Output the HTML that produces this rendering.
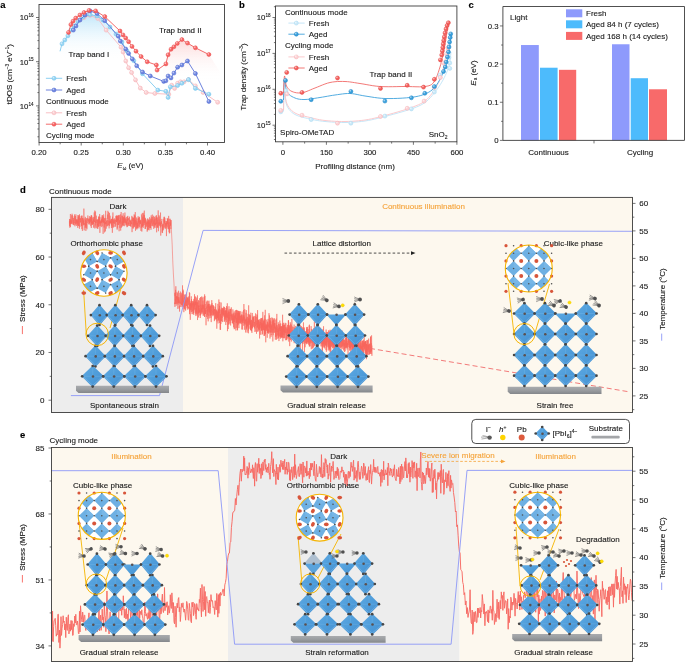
<!DOCTYPE html><html><head><meta charset="utf-8"><style>html,body{margin:0;padding:0;background:#fff;}svg{display:block;will-change:transform;}svg text{font-family:"Liberation Sans",sans-serif;}</style></head><body><svg width="685" height="662" viewBox="0 0 685 662" font-family="Liberation Sans, sans-serif"><defs><linearGradient id="gA1" x1="0" y1="0" x2="0" y2="1"><stop offset="0" stop-color="#bfe6fa"/><stop offset="1" stop-color="#ffffff" stop-opacity="0"/></linearGradient><linearGradient id="gA2" x1="0" y1="0" x2="0" y2="1"><stop offset="0" stop-color="#fcd9d9"/><stop offset="1" stop-color="#ffffff" stop-opacity="0"/></linearGradient><linearGradient id="gA3" x1="0" y1="0" x2="1" y2="0"><stop offset="0" stop-color="#fff" stop-opacity="0"/><stop offset="0.7" stop-color="#fff" stop-opacity="0"/><stop offset="1" stop-color="#fff" stop-opacity="1"/></linearGradient></defs>
<polygon points="60,51.3 64,40 70,30 76,21 82,16 89,13.5 96,15.5 104,21 112,30 120,40 124,48 124,60 60,60" fill="url(#gA1)" />
<polygon points="163,70 168,55 173,47 181,40 188,43 196,48 209,54.5 220,72 220,80 163,80" fill="url(#gA2)" />
<rect x="39.0" y="4.5" width="185.5" height="138.0" fill="none" stroke="#3c3c3c" stroke-width="0.9"/>
<line x1="37.4" y1="136.79" x2="39" y2="136.79" stroke="#3c3c3c" stroke-width="0.7" />
<line x1="37.4" y1="129.01" x2="39" y2="129.01" stroke="#3c3c3c" stroke-width="0.7" />
<line x1="37.4" y1="123.49" x2="39" y2="123.49" stroke="#3c3c3c" stroke-width="0.7" />
<line x1="37.4" y1="119.21" x2="39" y2="119.21" stroke="#3c3c3c" stroke-width="0.7" />
<line x1="37.4" y1="115.71" x2="39" y2="115.71" stroke="#3c3c3c" stroke-width="0.7" />
<line x1="37.4" y1="112.75" x2="39" y2="112.75" stroke="#3c3c3c" stroke-width="0.7" />
<line x1="37.4" y1="110.18" x2="39" y2="110.18" stroke="#3c3c3c" stroke-width="0.7" />
<line x1="37.4" y1="107.92" x2="39" y2="107.92" stroke="#3c3c3c" stroke-width="0.7" />
<line x1="36" y1="105.9" x2="39" y2="105.9" stroke="#3c3c3c" stroke-width="0.7" />
<line x1="37.4" y1="92.59" x2="39" y2="92.59" stroke="#3c3c3c" stroke-width="0.7" />
<line x1="37.4" y1="84.81" x2="39" y2="84.81" stroke="#3c3c3c" stroke-width="0.7" />
<line x1="37.4" y1="79.29" x2="39" y2="79.29" stroke="#3c3c3c" stroke-width="0.7" />
<line x1="37.4" y1="75.01" x2="39" y2="75.01" stroke="#3c3c3c" stroke-width="0.7" />
<line x1="37.4" y1="71.51" x2="39" y2="71.51" stroke="#3c3c3c" stroke-width="0.7" />
<line x1="37.4" y1="68.55" x2="39" y2="68.55" stroke="#3c3c3c" stroke-width="0.7" />
<line x1="37.4" y1="65.98" x2="39" y2="65.98" stroke="#3c3c3c" stroke-width="0.7" />
<line x1="37.4" y1="63.72" x2="39" y2="63.72" stroke="#3c3c3c" stroke-width="0.7" />
<line x1="36" y1="61.7" x2="39" y2="61.7" stroke="#3c3c3c" stroke-width="0.7" />
<line x1="37.4" y1="48.39" x2="39" y2="48.39" stroke="#3c3c3c" stroke-width="0.7" />
<line x1="37.4" y1="40.61" x2="39" y2="40.61" stroke="#3c3c3c" stroke-width="0.7" />
<line x1="37.4" y1="35.09" x2="39" y2="35.09" stroke="#3c3c3c" stroke-width="0.7" />
<line x1="37.4" y1="30.81" x2="39" y2="30.81" stroke="#3c3c3c" stroke-width="0.7" />
<line x1="37.4" y1="27.31" x2="39" y2="27.31" stroke="#3c3c3c" stroke-width="0.7" />
<line x1="37.4" y1="24.35" x2="39" y2="24.35" stroke="#3c3c3c" stroke-width="0.7" />
<line x1="37.4" y1="21.78" x2="39" y2="21.78" stroke="#3c3c3c" stroke-width="0.7" />
<line x1="37.4" y1="19.52" x2="39" y2="19.52" stroke="#3c3c3c" stroke-width="0.7" />
<line x1="36" y1="17.5" x2="39" y2="17.5" stroke="#3c3c3c" stroke-width="0.7" />
<text x="33.6" y="20.31" font-size="7.8" text-anchor="end" fill="#1a1a1a" stroke="#1a1a1a" stroke-width="0.12">10<tspan font-size="4.6" dy="-3.2">16</tspan></text>
<text x="33.6" y="64.51" font-size="7.8" text-anchor="end" fill="#1a1a1a" stroke="#1a1a1a" stroke-width="0.12">10<tspan font-size="4.6" dy="-3.2">15</tspan></text>
<text x="33.6" y="108.71" font-size="7.8" text-anchor="end" fill="#1a1a1a" stroke="#1a1a1a" stroke-width="0.12">10<tspan font-size="4.6" dy="-3.2">14</tspan></text>
<line x1="39.1" y1="142.5" x2="39.1" y2="145.5" stroke="#3c3c3c" stroke-width="0.7" />
<text x="39.1" y="155.01" font-size="7.8" text-anchor="middle" fill="#1a1a1a"  stroke="#1a1a1a" stroke-width="0.12">0.20</text>
<line x1="60.15" y1="142.5" x2="60.15" y2="144.3" stroke="#3c3c3c" stroke-width="0.7" />
<line x1="81.2" y1="142.5" x2="81.2" y2="145.5" stroke="#3c3c3c" stroke-width="0.7" />
<text x="81.2" y="155.01" font-size="7.8" text-anchor="middle" fill="#1a1a1a"  stroke="#1a1a1a" stroke-width="0.12">0.25</text>
<line x1="102.25" y1="142.5" x2="102.25" y2="144.3" stroke="#3c3c3c" stroke-width="0.7" />
<line x1="123.3" y1="142.5" x2="123.3" y2="145.5" stroke="#3c3c3c" stroke-width="0.7" />
<text x="123.3" y="155.01" font-size="7.8" text-anchor="middle" fill="#1a1a1a"  stroke="#1a1a1a" stroke-width="0.12">0.30</text>
<line x1="144.35" y1="142.5" x2="144.35" y2="144.3" stroke="#3c3c3c" stroke-width="0.7" />
<line x1="165.4" y1="142.5" x2="165.4" y2="145.5" stroke="#3c3c3c" stroke-width="0.7" />
<text x="165.4" y="155.01" font-size="7.8" text-anchor="middle" fill="#1a1a1a"  stroke="#1a1a1a" stroke-width="0.12">0.35</text>
<line x1="186.45" y1="142.5" x2="186.45" y2="144.3" stroke="#3c3c3c" stroke-width="0.7" />
<line x1="207.5" y1="142.5" x2="207.5" y2="145.5" stroke="#3c3c3c" stroke-width="0.7" />
<text x="207.5" y="155.01" font-size="7.8" text-anchor="middle" fill="#1a1a1a"  stroke="#1a1a1a" stroke-width="0.12">0.40</text>
<text x="130.4" y="168" font-size="8" text-anchor="middle" fill="#1a1a1a" stroke="#1a1a1a" stroke-width="0.12"><tspan font-style="italic">E</tspan><tspan font-size="4.5" dy="1.5">ω</tspan><tspan dy="-1.5"> (eV)</tspan></text>
<text transform="translate(8.6,74.2) rotate(-90)" x="0" y="2.9" font-size="8" text-anchor="middle" fill="#1a1a1a" stroke="#1a1a1a" stroke-width="0.12">tDOS (cm<tspan font-size="4.6" dy="-3">−3</tspan><tspan dy="3"> eV</tspan><tspan font-size="4.6" dy="-3">−1</tspan><tspan dy="3">)</tspan></text>
<polyline points="79.2,20.5 84,17.7 90,15.5 97.7,18.4 106.2,30.1 121,47.2 123.1,52 125.8,61 128.6,67.7 131.6,72.6 135.5,79.9 140.3,88.1 146.2,92.5 154.9,93.5 168.8,94.2 171.7,85.2 174.6,88.4 177.6,83.3 180.5,81.8 184.1,81.8 188.5,79.6 195.4,85.9 203.1,92.5 217.7,102.3" fill="none" stroke="#f8b9bd" stroke-width="0.9" stroke-linejoin="round" />
<circle cx="79.2" cy="20.5" r="2.0" fill="#fbd0d3" stroke="#f3aeb2" stroke-width="0.5"/>
<circle cx="78.6" cy="19.8" r="0.84" fill="#fff" opacity="0.55"/>
<circle cx="84" cy="17.7" r="2.0" fill="#fbd0d3" stroke="#f3aeb2" stroke-width="0.5"/>
<circle cx="83.4" cy="17" r="0.84" fill="#fff" opacity="0.55"/>
<circle cx="90" cy="15.5" r="2.0" fill="#fbd0d3" stroke="#f3aeb2" stroke-width="0.5"/>
<circle cx="89.4" cy="14.8" r="0.84" fill="#fff" opacity="0.55"/>
<circle cx="97.7" cy="18.4" r="2.0" fill="#fbd0d3" stroke="#f3aeb2" stroke-width="0.5"/>
<circle cx="97.1" cy="17.7" r="0.84" fill="#fff" opacity="0.55"/>
<circle cx="106.2" cy="30.1" r="2.0" fill="#fbd0d3" stroke="#f3aeb2" stroke-width="0.5"/>
<circle cx="105.6" cy="29.4" r="0.84" fill="#fff" opacity="0.55"/>
<circle cx="121" cy="47.2" r="2.0" fill="#fbd0d3" stroke="#f3aeb2" stroke-width="0.5"/>
<circle cx="120.4" cy="46.5" r="0.84" fill="#fff" opacity="0.55"/>
<circle cx="123.1" cy="52" r="2.0" fill="#fbd0d3" stroke="#f3aeb2" stroke-width="0.5"/>
<circle cx="122.5" cy="51.3" r="0.84" fill="#fff" opacity="0.55"/>
<circle cx="125.8" cy="61" r="2.0" fill="#fbd0d3" stroke="#f3aeb2" stroke-width="0.5"/>
<circle cx="125.2" cy="60.3" r="0.84" fill="#fff" opacity="0.55"/>
<circle cx="128.6" cy="67.7" r="2.0" fill="#fbd0d3" stroke="#f3aeb2" stroke-width="0.5"/>
<circle cx="128" cy="67" r="0.84" fill="#fff" opacity="0.55"/>
<circle cx="131.6" cy="72.6" r="2.0" fill="#fbd0d3" stroke="#f3aeb2" stroke-width="0.5"/>
<circle cx="131" cy="71.9" r="0.84" fill="#fff" opacity="0.55"/>
<circle cx="135.5" cy="79.9" r="2.0" fill="#fbd0d3" stroke="#f3aeb2" stroke-width="0.5"/>
<circle cx="134.9" cy="79.2" r="0.84" fill="#fff" opacity="0.55"/>
<circle cx="140.3" cy="88.1" r="2.0" fill="#fbd0d3" stroke="#f3aeb2" stroke-width="0.5"/>
<circle cx="139.7" cy="87.4" r="0.84" fill="#fff" opacity="0.55"/>
<circle cx="146.2" cy="92.5" r="2.0" fill="#fbd0d3" stroke="#f3aeb2" stroke-width="0.5"/>
<circle cx="145.6" cy="91.8" r="0.84" fill="#fff" opacity="0.55"/>
<circle cx="154.9" cy="93.5" r="2.0" fill="#fbd0d3" stroke="#f3aeb2" stroke-width="0.5"/>
<circle cx="154.3" cy="92.8" r="0.84" fill="#fff" opacity="0.55"/>
<circle cx="168.8" cy="94.2" r="2.0" fill="#fbd0d3" stroke="#f3aeb2" stroke-width="0.5"/>
<circle cx="168.2" cy="93.5" r="0.84" fill="#fff" opacity="0.55"/>
<circle cx="171.7" cy="85.2" r="2.0" fill="#fbd0d3" stroke="#f3aeb2" stroke-width="0.5"/>
<circle cx="171.1" cy="84.5" r="0.84" fill="#fff" opacity="0.55"/>
<circle cx="174.6" cy="88.4" r="2.0" fill="#fbd0d3" stroke="#f3aeb2" stroke-width="0.5"/>
<circle cx="174" cy="87.7" r="0.84" fill="#fff" opacity="0.55"/>
<circle cx="177.6" cy="83.3" r="2.0" fill="#fbd0d3" stroke="#f3aeb2" stroke-width="0.5"/>
<circle cx="177" cy="82.6" r="0.84" fill="#fff" opacity="0.55"/>
<circle cx="180.5" cy="81.8" r="2.0" fill="#fbd0d3" stroke="#f3aeb2" stroke-width="0.5"/>
<circle cx="179.9" cy="81.1" r="0.84" fill="#fff" opacity="0.55"/>
<circle cx="184.1" cy="81.8" r="2.0" fill="#fbd0d3" stroke="#f3aeb2" stroke-width="0.5"/>
<circle cx="183.5" cy="81.1" r="0.84" fill="#fff" opacity="0.55"/>
<circle cx="188.5" cy="79.6" r="2.0" fill="#fbd0d3" stroke="#f3aeb2" stroke-width="0.5"/>
<circle cx="187.9" cy="78.9" r="0.84" fill="#fff" opacity="0.55"/>
<circle cx="195.4" cy="85.9" r="2.0" fill="#fbd0d3" stroke="#f3aeb2" stroke-width="0.5"/>
<circle cx="194.8" cy="85.2" r="0.84" fill="#fff" opacity="0.55"/>
<circle cx="203.1" cy="92.5" r="2.0" fill="#fbd0d3" stroke="#f3aeb2" stroke-width="0.5"/>
<circle cx="202.5" cy="91.8" r="0.84" fill="#fff" opacity="0.55"/>
<circle cx="217.7" cy="102.3" r="2.0" fill="#fbd0d3" stroke="#f3aeb2" stroke-width="0.5"/>
<circle cx="217.1" cy="101.6" r="0.84" fill="#fff" opacity="0.55"/>
<polyline points="60,51.3 62,43.8 64.8,40 67.9,35.8 71,30 74,26 78,21 83,17 90,14.6 97,16 103,20 110,27 116,34 122,42 127,51 133.8,60.7 142.5,73.8 157.8,90.1 165.9,91.3 168.1,97.4 170.3,86.9 177.6,85.5 181.9,83.3 188.5,79.6 195.4,88.4 208.9,94.2" fill="none" stroke="#7fcbef" stroke-width="0.9" stroke-linejoin="round" />
<circle cx="62" cy="43.8" r="2.0" fill="#9ad6f3" stroke="#6cc0ea" stroke-width="0.5"/>
<circle cx="61.4" cy="43.1" r="0.84" fill="#fff" opacity="0.55"/>
<circle cx="64.8" cy="40" r="2.0" fill="#9ad6f3" stroke="#6cc0ea" stroke-width="0.5"/>
<circle cx="64.2" cy="39.3" r="0.84" fill="#fff" opacity="0.55"/>
<circle cx="67.9" cy="35.8" r="2.0" fill="#9ad6f3" stroke="#6cc0ea" stroke-width="0.5"/>
<circle cx="67.3" cy="35.1" r="0.84" fill="#fff" opacity="0.55"/>
<circle cx="71" cy="30" r="2.0" fill="#9ad6f3" stroke="#6cc0ea" stroke-width="0.5"/>
<circle cx="70.4" cy="29.3" r="0.84" fill="#fff" opacity="0.55"/>
<circle cx="74" cy="26" r="2.0" fill="#9ad6f3" stroke="#6cc0ea" stroke-width="0.5"/>
<circle cx="73.4" cy="25.3" r="0.84" fill="#fff" opacity="0.55"/>
<circle cx="78" cy="21" r="2.0" fill="#9ad6f3" stroke="#6cc0ea" stroke-width="0.5"/>
<circle cx="77.4" cy="20.3" r="0.84" fill="#fff" opacity="0.55"/>
<circle cx="83" cy="17" r="2.0" fill="#9ad6f3" stroke="#6cc0ea" stroke-width="0.5"/>
<circle cx="82.4" cy="16.3" r="0.84" fill="#fff" opacity="0.55"/>
<circle cx="90" cy="14.6" r="2.0" fill="#9ad6f3" stroke="#6cc0ea" stroke-width="0.5"/>
<circle cx="89.4" cy="13.9" r="0.84" fill="#fff" opacity="0.55"/>
<circle cx="97" cy="16" r="2.0" fill="#9ad6f3" stroke="#6cc0ea" stroke-width="0.5"/>
<circle cx="96.4" cy="15.3" r="0.84" fill="#fff" opacity="0.55"/>
<circle cx="103" cy="20" r="2.0" fill="#9ad6f3" stroke="#6cc0ea" stroke-width="0.5"/>
<circle cx="102.4" cy="19.3" r="0.84" fill="#fff" opacity="0.55"/>
<circle cx="110" cy="27" r="2.0" fill="#9ad6f3" stroke="#6cc0ea" stroke-width="0.5"/>
<circle cx="109.4" cy="26.3" r="0.84" fill="#fff" opacity="0.55"/>
<circle cx="116" cy="34" r="2.0" fill="#9ad6f3" stroke="#6cc0ea" stroke-width="0.5"/>
<circle cx="115.4" cy="33.3" r="0.84" fill="#fff" opacity="0.55"/>
<circle cx="122" cy="42" r="2.0" fill="#9ad6f3" stroke="#6cc0ea" stroke-width="0.5"/>
<circle cx="121.4" cy="41.3" r="0.84" fill="#fff" opacity="0.55"/>
<circle cx="127" cy="51" r="2.0" fill="#9ad6f3" stroke="#6cc0ea" stroke-width="0.5"/>
<circle cx="126.4" cy="50.3" r="0.84" fill="#fff" opacity="0.55"/>
<circle cx="133.8" cy="60.7" r="2.0" fill="#9ad6f3" stroke="#6cc0ea" stroke-width="0.5"/>
<circle cx="133.2" cy="60" r="0.84" fill="#fff" opacity="0.55"/>
<circle cx="142.5" cy="73.8" r="2.0" fill="#9ad6f3" stroke="#6cc0ea" stroke-width="0.5"/>
<circle cx="141.9" cy="73.1" r="0.84" fill="#fff" opacity="0.55"/>
<circle cx="157.8" cy="90.1" r="2.0" fill="#9ad6f3" stroke="#6cc0ea" stroke-width="0.5"/>
<circle cx="157.2" cy="89.4" r="0.84" fill="#fff" opacity="0.55"/>
<circle cx="165.9" cy="91.3" r="2.0" fill="#9ad6f3" stroke="#6cc0ea" stroke-width="0.5"/>
<circle cx="165.3" cy="90.6" r="0.84" fill="#fff" opacity="0.55"/>
<circle cx="168.1" cy="97.4" r="2.0" fill="#9ad6f3" stroke="#6cc0ea" stroke-width="0.5"/>
<circle cx="167.5" cy="96.7" r="0.84" fill="#fff" opacity="0.55"/>
<circle cx="170.3" cy="86.9" r="2.0" fill="#9ad6f3" stroke="#6cc0ea" stroke-width="0.5"/>
<circle cx="169.7" cy="86.2" r="0.84" fill="#fff" opacity="0.55"/>
<circle cx="177.6" cy="85.5" r="2.0" fill="#9ad6f3" stroke="#6cc0ea" stroke-width="0.5"/>
<circle cx="177" cy="84.8" r="0.84" fill="#fff" opacity="0.55"/>
<circle cx="181.9" cy="83.3" r="2.0" fill="#9ad6f3" stroke="#6cc0ea" stroke-width="0.5"/>
<circle cx="181.3" cy="82.6" r="0.84" fill="#fff" opacity="0.55"/>
<circle cx="188.5" cy="79.6" r="2.0" fill="#9ad6f3" stroke="#6cc0ea" stroke-width="0.5"/>
<circle cx="187.9" cy="78.9" r="0.84" fill="#fff" opacity="0.55"/>
<circle cx="195.4" cy="88.4" r="2.0" fill="#9ad6f3" stroke="#6cc0ea" stroke-width="0.5"/>
<circle cx="194.8" cy="87.7" r="0.84" fill="#fff" opacity="0.55"/>
<circle cx="208.9" cy="94.2" r="2.0" fill="#9ad6f3" stroke="#6cc0ea" stroke-width="0.5"/>
<circle cx="208.3" cy="93.5" r="0.84" fill="#fff" opacity="0.55"/>
<polyline points="73.4,30.1 76,26 80,20 85,15 90.1,10.9 97,13.6 104.8,20.7 118.3,36.2 120.3,41 125.7,49 128.6,53.4 132.3,58.9 136.7,65.8 142.5,72 150.3,76 163.7,81.4 165.9,80.8 168.1,76 171,77.9 173.9,73.1 177.6,67.2 181.9,65 187.5,61 195.4,73.5 208.9,101.5" fill="none" stroke="#5b74d9" stroke-width="0.9" stroke-linejoin="round" />
<circle cx="73.4" cy="30.1" r="2.0" fill="#6f86e0" stroke="#4a64cf" stroke-width="0.5"/>
<circle cx="72.8" cy="29.4" r="0.84" fill="#fff" opacity="0.55"/>
<circle cx="76" cy="26" r="2.0" fill="#6f86e0" stroke="#4a64cf" stroke-width="0.5"/>
<circle cx="75.4" cy="25.3" r="0.84" fill="#fff" opacity="0.55"/>
<circle cx="80" cy="20" r="2.0" fill="#6f86e0" stroke="#4a64cf" stroke-width="0.5"/>
<circle cx="79.4" cy="19.3" r="0.84" fill="#fff" opacity="0.55"/>
<circle cx="85" cy="15" r="2.0" fill="#6f86e0" stroke="#4a64cf" stroke-width="0.5"/>
<circle cx="84.4" cy="14.3" r="0.84" fill="#fff" opacity="0.55"/>
<circle cx="90.1" cy="10.9" r="2.0" fill="#6f86e0" stroke="#4a64cf" stroke-width="0.5"/>
<circle cx="89.5" cy="10.2" r="0.84" fill="#fff" opacity="0.55"/>
<circle cx="97" cy="13.6" r="2.0" fill="#6f86e0" stroke="#4a64cf" stroke-width="0.5"/>
<circle cx="96.4" cy="12.9" r="0.84" fill="#fff" opacity="0.55"/>
<circle cx="104.8" cy="20.7" r="2.0" fill="#6f86e0" stroke="#4a64cf" stroke-width="0.5"/>
<circle cx="104.2" cy="20" r="0.84" fill="#fff" opacity="0.55"/>
<circle cx="118.3" cy="36.2" r="2.0" fill="#6f86e0" stroke="#4a64cf" stroke-width="0.5"/>
<circle cx="117.7" cy="35.5" r="0.84" fill="#fff" opacity="0.55"/>
<circle cx="120.3" cy="41" r="2.0" fill="#6f86e0" stroke="#4a64cf" stroke-width="0.5"/>
<circle cx="119.7" cy="40.3" r="0.84" fill="#fff" opacity="0.55"/>
<circle cx="125.7" cy="49" r="2.0" fill="#6f86e0" stroke="#4a64cf" stroke-width="0.5"/>
<circle cx="125.1" cy="48.3" r="0.84" fill="#fff" opacity="0.55"/>
<circle cx="128.6" cy="53.4" r="2.0" fill="#6f86e0" stroke="#4a64cf" stroke-width="0.5"/>
<circle cx="128" cy="52.7" r="0.84" fill="#fff" opacity="0.55"/>
<circle cx="132.3" cy="58.9" r="2.0" fill="#6f86e0" stroke="#4a64cf" stroke-width="0.5"/>
<circle cx="131.7" cy="58.2" r="0.84" fill="#fff" opacity="0.55"/>
<circle cx="136.7" cy="65.8" r="2.0" fill="#6f86e0" stroke="#4a64cf" stroke-width="0.5"/>
<circle cx="136.1" cy="65.1" r="0.84" fill="#fff" opacity="0.55"/>
<circle cx="142.5" cy="72" r="2.0" fill="#6f86e0" stroke="#4a64cf" stroke-width="0.5"/>
<circle cx="141.9" cy="71.3" r="0.84" fill="#fff" opacity="0.55"/>
<circle cx="150.3" cy="76" r="2.0" fill="#6f86e0" stroke="#4a64cf" stroke-width="0.5"/>
<circle cx="149.7" cy="75.3" r="0.84" fill="#fff" opacity="0.55"/>
<circle cx="163.7" cy="81.4" r="2.0" fill="#6f86e0" stroke="#4a64cf" stroke-width="0.5"/>
<circle cx="163.1" cy="80.7" r="0.84" fill="#fff" opacity="0.55"/>
<circle cx="165.9" cy="80.8" r="2.0" fill="#6f86e0" stroke="#4a64cf" stroke-width="0.5"/>
<circle cx="165.3" cy="80.1" r="0.84" fill="#fff" opacity="0.55"/>
<circle cx="168.1" cy="76" r="2.0" fill="#6f86e0" stroke="#4a64cf" stroke-width="0.5"/>
<circle cx="167.5" cy="75.3" r="0.84" fill="#fff" opacity="0.55"/>
<circle cx="171" cy="77.9" r="2.0" fill="#6f86e0" stroke="#4a64cf" stroke-width="0.5"/>
<circle cx="170.4" cy="77.2" r="0.84" fill="#fff" opacity="0.55"/>
<circle cx="173.9" cy="73.1" r="2.0" fill="#6f86e0" stroke="#4a64cf" stroke-width="0.5"/>
<circle cx="173.3" cy="72.4" r="0.84" fill="#fff" opacity="0.55"/>
<circle cx="177.6" cy="67.2" r="2.0" fill="#6f86e0" stroke="#4a64cf" stroke-width="0.5"/>
<circle cx="177" cy="66.5" r="0.84" fill="#fff" opacity="0.55"/>
<circle cx="181.9" cy="65" r="2.0" fill="#6f86e0" stroke="#4a64cf" stroke-width="0.5"/>
<circle cx="181.3" cy="64.3" r="0.84" fill="#fff" opacity="0.55"/>
<circle cx="187.5" cy="61" r="2.0" fill="#6f86e0" stroke="#4a64cf" stroke-width="0.5"/>
<circle cx="186.9" cy="60.3" r="0.84" fill="#fff" opacity="0.55"/>
<circle cx="195.4" cy="73.5" r="2.0" fill="#6f86e0" stroke="#4a64cf" stroke-width="0.5"/>
<circle cx="194.8" cy="72.8" r="0.84" fill="#fff" opacity="0.55"/>
<circle cx="208.9" cy="101.5" r="2.0" fill="#6f86e0" stroke="#4a64cf" stroke-width="0.5"/>
<circle cx="208.3" cy="100.8" r="0.84" fill="#fff" opacity="0.55"/>
<polyline points="68.5,32.4 70.9,24.6 73,21.2 75.7,18.1 79.9,15 84,12.5 89,10.4 95.6,10.9 104.8,16.6 120,31 123,34.9 125.7,38 128.6,41.7 132,46.4 136,51.2 141.1,56.6 147.2,61.8 156.4,65 157.1,70.1 165.9,63.9 168.1,54.8 171,49.3 173.9,46.8 177.3,43.4 181.9,39.6 187.5,43.1 195.4,47.8 208.9,54.5" fill="none" stroke="#f05a5a" stroke-width="0.9" stroke-linejoin="round" />
<circle cx="68.5" cy="32.4" r="2.0" fill="#f76565" stroke="#e84848" stroke-width="0.5"/>
<circle cx="67.9" cy="31.7" r="0.84" fill="#fff" opacity="0.55"/>
<circle cx="70.9" cy="24.6" r="2.0" fill="#f76565" stroke="#e84848" stroke-width="0.5"/>
<circle cx="70.3" cy="23.9" r="0.84" fill="#fff" opacity="0.55"/>
<circle cx="73" cy="21.2" r="2.0" fill="#f76565" stroke="#e84848" stroke-width="0.5"/>
<circle cx="72.4" cy="20.5" r="0.84" fill="#fff" opacity="0.55"/>
<circle cx="75.7" cy="18.1" r="2.0" fill="#f76565" stroke="#e84848" stroke-width="0.5"/>
<circle cx="75.1" cy="17.4" r="0.84" fill="#fff" opacity="0.55"/>
<circle cx="79.9" cy="15" r="2.0" fill="#f76565" stroke="#e84848" stroke-width="0.5"/>
<circle cx="79.3" cy="14.3" r="0.84" fill="#fff" opacity="0.55"/>
<circle cx="84" cy="12.5" r="2.0" fill="#f76565" stroke="#e84848" stroke-width="0.5"/>
<circle cx="83.4" cy="11.8" r="0.84" fill="#fff" opacity="0.55"/>
<circle cx="89" cy="10.4" r="2.0" fill="#f76565" stroke="#e84848" stroke-width="0.5"/>
<circle cx="88.4" cy="9.7" r="0.84" fill="#fff" opacity="0.55"/>
<circle cx="95.6" cy="10.9" r="2.0" fill="#f76565" stroke="#e84848" stroke-width="0.5"/>
<circle cx="95" cy="10.2" r="0.84" fill="#fff" opacity="0.55"/>
<circle cx="104.8" cy="16.6" r="2.0" fill="#f76565" stroke="#e84848" stroke-width="0.5"/>
<circle cx="104.2" cy="15.9" r="0.84" fill="#fff" opacity="0.55"/>
<circle cx="120" cy="31" r="2.0" fill="#f76565" stroke="#e84848" stroke-width="0.5"/>
<circle cx="119.4" cy="30.3" r="0.84" fill="#fff" opacity="0.55"/>
<circle cx="123" cy="34.9" r="2.0" fill="#f76565" stroke="#e84848" stroke-width="0.5"/>
<circle cx="122.4" cy="34.2" r="0.84" fill="#fff" opacity="0.55"/>
<circle cx="125.7" cy="38" r="2.0" fill="#f76565" stroke="#e84848" stroke-width="0.5"/>
<circle cx="125.1" cy="37.3" r="0.84" fill="#fff" opacity="0.55"/>
<circle cx="128.6" cy="41.7" r="2.0" fill="#f76565" stroke="#e84848" stroke-width="0.5"/>
<circle cx="128" cy="41" r="0.84" fill="#fff" opacity="0.55"/>
<circle cx="132" cy="46.4" r="2.0" fill="#f76565" stroke="#e84848" stroke-width="0.5"/>
<circle cx="131.4" cy="45.7" r="0.84" fill="#fff" opacity="0.55"/>
<circle cx="136" cy="51.2" r="2.0" fill="#f76565" stroke="#e84848" stroke-width="0.5"/>
<circle cx="135.4" cy="50.5" r="0.84" fill="#fff" opacity="0.55"/>
<circle cx="141.1" cy="56.6" r="2.0" fill="#f76565" stroke="#e84848" stroke-width="0.5"/>
<circle cx="140.5" cy="55.9" r="0.84" fill="#fff" opacity="0.55"/>
<circle cx="147.2" cy="61.8" r="2.0" fill="#f76565" stroke="#e84848" stroke-width="0.5"/>
<circle cx="146.6" cy="61.1" r="0.84" fill="#fff" opacity="0.55"/>
<circle cx="156.4" cy="65" r="2.0" fill="#f76565" stroke="#e84848" stroke-width="0.5"/>
<circle cx="155.8" cy="64.3" r="0.84" fill="#fff" opacity="0.55"/>
<circle cx="157.1" cy="70.1" r="2.0" fill="#f76565" stroke="#e84848" stroke-width="0.5"/>
<circle cx="156.5" cy="69.4" r="0.84" fill="#fff" opacity="0.55"/>
<circle cx="165.9" cy="63.9" r="2.0" fill="#f76565" stroke="#e84848" stroke-width="0.5"/>
<circle cx="165.3" cy="63.2" r="0.84" fill="#fff" opacity="0.55"/>
<circle cx="168.1" cy="54.8" r="2.0" fill="#f76565" stroke="#e84848" stroke-width="0.5"/>
<circle cx="167.5" cy="54.1" r="0.84" fill="#fff" opacity="0.55"/>
<circle cx="171" cy="49.3" r="2.0" fill="#f76565" stroke="#e84848" stroke-width="0.5"/>
<circle cx="170.4" cy="48.6" r="0.84" fill="#fff" opacity="0.55"/>
<circle cx="173.9" cy="46.8" r="2.0" fill="#f76565" stroke="#e84848" stroke-width="0.5"/>
<circle cx="173.3" cy="46.1" r="0.84" fill="#fff" opacity="0.55"/>
<circle cx="177.3" cy="43.4" r="2.0" fill="#f76565" stroke="#e84848" stroke-width="0.5"/>
<circle cx="176.7" cy="42.7" r="0.84" fill="#fff" opacity="0.55"/>
<circle cx="181.9" cy="39.6" r="2.0" fill="#f76565" stroke="#e84848" stroke-width="0.5"/>
<circle cx="181.3" cy="38.9" r="0.84" fill="#fff" opacity="0.55"/>
<circle cx="187.5" cy="43.1" r="2.0" fill="#f76565" stroke="#e84848" stroke-width="0.5"/>
<circle cx="186.9" cy="42.4" r="0.84" fill="#fff" opacity="0.55"/>
<circle cx="195.4" cy="47.8" r="2.0" fill="#f76565" stroke="#e84848" stroke-width="0.5"/>
<circle cx="194.8" cy="47.1" r="0.84" fill="#fff" opacity="0.55"/>
<circle cx="208.9" cy="54.5" r="2.0" fill="#f76565" stroke="#e84848" stroke-width="0.5"/>
<circle cx="208.3" cy="53.8" r="0.84" fill="#fff" opacity="0.55"/>
<text x="68.5" y="57.38" font-size="8" text-anchor="start" fill="#1a1a1a"  stroke="#1a1a1a" stroke-width="0.12">Trap band I</text>
<text x="158.9" y="32.98" font-size="8" text-anchor="start" fill="#1a1a1a"  stroke="#1a1a1a" stroke-width="0.12">Trap band II</text>
<line x1="45.9" y1="78.3" x2="62.2" y2="78.3" stroke="#7fcbef" stroke-width="0.9" />
<circle cx="54" cy="78.3" r="2.0" fill="#9ad6f3" stroke="#6cc0ea" stroke-width="0.5"/>
<circle cx="53.4" cy="77.6" r="0.84" fill="#fff" opacity="0.55"/>
<text x="66.2" y="81.18" font-size="8" text-anchor="start" fill="#1a1a1a"  stroke="#1a1a1a" stroke-width="0.12">Fresh</text>
<line x1="45.9" y1="90" x2="62.2" y2="90" stroke="#5b74d9" stroke-width="0.9" />
<circle cx="54" cy="90" r="2.0" fill="#6f86e0" stroke="#4a64cf" stroke-width="0.5"/>
<circle cx="53.4" cy="89.3" r="0.84" fill="#fff" opacity="0.55"/>
<text x="66.2" y="92.88" font-size="8" text-anchor="start" fill="#1a1a1a"  stroke="#1a1a1a" stroke-width="0.12">Aged</text>
<line x1="45.9" y1="112.8" x2="62.2" y2="112.8" stroke="#f8b9bd" stroke-width="0.9" />
<circle cx="54" cy="112.8" r="2.0" fill="#fbd0d3" stroke="#f3aeb2" stroke-width="0.5"/>
<circle cx="53.4" cy="112.1" r="0.84" fill="#fff" opacity="0.55"/>
<text x="66.2" y="115.68" font-size="8" text-anchor="start" fill="#1a1a1a"  stroke="#1a1a1a" stroke-width="0.12">Fresh</text>
<line x1="45.9" y1="124.2" x2="62.2" y2="124.2" stroke="#f05a5a" stroke-width="0.9" />
<circle cx="54" cy="124.2" r="2.0" fill="#f76565" stroke="#e84848" stroke-width="0.5"/>
<circle cx="53.4" cy="123.5" r="0.84" fill="#fff" opacity="0.55"/>
<text x="66.2" y="127.08" font-size="8" text-anchor="start" fill="#1a1a1a"  stroke="#1a1a1a" stroke-width="0.12">Aged</text>
<text x="46.1" y="104.28" font-size="8" text-anchor="start" fill="#1a1a1a"  stroke="#1a1a1a" stroke-width="0.12">Continuous mode</text>
<text x="46.1" y="138.38" font-size="8" text-anchor="start" fill="#1a1a1a"  stroke="#1a1a1a" stroke-width="0.12">Cycling mode</text>
<text x="0.3" y="7.6" font-size="9.5" font-weight="bold" fill="#000" stroke="#000" stroke-width="0.12">a</text>
<rect x="275.5" y="6.0" width="181.39999999999998" height="135.8" fill="none" stroke="#3c3c3c" stroke-width="0.9"/>
<line x1="273.9" y1="139.49" x2="275.5" y2="139.49" stroke="#3c3c3c" stroke-width="0.7" />
<line x1="273.9" y1="136.01" x2="275.5" y2="136.01" stroke="#3c3c3c" stroke-width="0.7" />
<line x1="273.9" y1="133.16" x2="275.5" y2="133.16" stroke="#3c3c3c" stroke-width="0.7" />
<line x1="273.9" y1="130.76" x2="275.5" y2="130.76" stroke="#3c3c3c" stroke-width="0.7" />
<line x1="273.9" y1="128.68" x2="275.5" y2="128.68" stroke="#3c3c3c" stroke-width="0.7" />
<line x1="273.9" y1="126.84" x2="275.5" y2="126.84" stroke="#3c3c3c" stroke-width="0.7" />
<line x1="272.5" y1="125.2" x2="275.5" y2="125.2" stroke="#3c3c3c" stroke-width="0.7" />
<line x1="273.9" y1="114.39" x2="275.5" y2="114.39" stroke="#3c3c3c" stroke-width="0.7" />
<line x1="273.9" y1="108.07" x2="275.5" y2="108.07" stroke="#3c3c3c" stroke-width="0.7" />
<line x1="273.9" y1="103.59" x2="275.5" y2="103.59" stroke="#3c3c3c" stroke-width="0.7" />
<line x1="273.9" y1="100.11" x2="275.5" y2="100.11" stroke="#3c3c3c" stroke-width="0.7" />
<line x1="273.9" y1="97.26" x2="275.5" y2="97.26" stroke="#3c3c3c" stroke-width="0.7" />
<line x1="273.9" y1="94.86" x2="275.5" y2="94.86" stroke="#3c3c3c" stroke-width="0.7" />
<line x1="273.9" y1="92.78" x2="275.5" y2="92.78" stroke="#3c3c3c" stroke-width="0.7" />
<line x1="273.9" y1="90.94" x2="275.5" y2="90.94" stroke="#3c3c3c" stroke-width="0.7" />
<line x1="272.5" y1="89.3" x2="275.5" y2="89.3" stroke="#3c3c3c" stroke-width="0.7" />
<line x1="273.9" y1="78.49" x2="275.5" y2="78.49" stroke="#3c3c3c" stroke-width="0.7" />
<line x1="273.9" y1="72.17" x2="275.5" y2="72.17" stroke="#3c3c3c" stroke-width="0.7" />
<line x1="273.9" y1="67.69" x2="275.5" y2="67.69" stroke="#3c3c3c" stroke-width="0.7" />
<line x1="273.9" y1="64.21" x2="275.5" y2="64.21" stroke="#3c3c3c" stroke-width="0.7" />
<line x1="273.9" y1="61.36" x2="275.5" y2="61.36" stroke="#3c3c3c" stroke-width="0.7" />
<line x1="273.9" y1="58.96" x2="275.5" y2="58.96" stroke="#3c3c3c" stroke-width="0.7" />
<line x1="273.9" y1="56.88" x2="275.5" y2="56.88" stroke="#3c3c3c" stroke-width="0.7" />
<line x1="273.9" y1="55.04" x2="275.5" y2="55.04" stroke="#3c3c3c" stroke-width="0.7" />
<line x1="272.5" y1="53.4" x2="275.5" y2="53.4" stroke="#3c3c3c" stroke-width="0.7" />
<line x1="273.9" y1="42.59" x2="275.5" y2="42.59" stroke="#3c3c3c" stroke-width="0.7" />
<line x1="273.9" y1="36.27" x2="275.5" y2="36.27" stroke="#3c3c3c" stroke-width="0.7" />
<line x1="273.9" y1="31.79" x2="275.5" y2="31.79" stroke="#3c3c3c" stroke-width="0.7" />
<line x1="273.9" y1="28.31" x2="275.5" y2="28.31" stroke="#3c3c3c" stroke-width="0.7" />
<line x1="273.9" y1="25.46" x2="275.5" y2="25.46" stroke="#3c3c3c" stroke-width="0.7" />
<line x1="273.9" y1="23.06" x2="275.5" y2="23.06" stroke="#3c3c3c" stroke-width="0.7" />
<line x1="273.9" y1="20.98" x2="275.5" y2="20.98" stroke="#3c3c3c" stroke-width="0.7" />
<line x1="273.9" y1="19.14" x2="275.5" y2="19.14" stroke="#3c3c3c" stroke-width="0.7" />
<line x1="272.5" y1="17.5" x2="275.5" y2="17.5" stroke="#3c3c3c" stroke-width="0.7" />
<line x1="273.9" y1="6.69" x2="275.5" y2="6.69" stroke="#3c3c3c" stroke-width="0.7" />
<text x="270.5" y="20.31" font-size="7.8" text-anchor="end" fill="#1a1a1a" stroke="#1a1a1a" stroke-width="0.12">10<tspan font-size="4.6" dy="-3.2">18</tspan></text>
<text x="270.5" y="56.21" font-size="7.8" text-anchor="end" fill="#1a1a1a" stroke="#1a1a1a" stroke-width="0.12">10<tspan font-size="4.6" dy="-3.2">17</tspan></text>
<text x="270.5" y="92.11" font-size="7.8" text-anchor="end" fill="#1a1a1a" stroke="#1a1a1a" stroke-width="0.12">10<tspan font-size="4.6" dy="-3.2">16</tspan></text>
<text x="270.5" y="128.01" font-size="7.8" text-anchor="end" fill="#1a1a1a" stroke="#1a1a1a" stroke-width="0.12">10<tspan font-size="4.6" dy="-3.2">15</tspan></text>
<line x1="282.9" y1="141.8" x2="282.9" y2="144.8" stroke="#3c3c3c" stroke-width="0.7" />
<text x="282.9" y="155.01" font-size="7.8" text-anchor="middle" fill="#1a1a1a"  stroke="#1a1a1a" stroke-width="0.12">0</text>
<line x1="304.65" y1="141.8" x2="304.65" y2="143.6" stroke="#3c3c3c" stroke-width="0.7" />
<line x1="326.4" y1="141.8" x2="326.4" y2="144.8" stroke="#3c3c3c" stroke-width="0.7" />
<text x="326.4" y="155.01" font-size="7.8" text-anchor="middle" fill="#1a1a1a"  stroke="#1a1a1a" stroke-width="0.12">150</text>
<line x1="348.15" y1="141.8" x2="348.15" y2="143.6" stroke="#3c3c3c" stroke-width="0.7" />
<line x1="369.9" y1="141.8" x2="369.9" y2="144.8" stroke="#3c3c3c" stroke-width="0.7" />
<text x="369.9" y="155.01" font-size="7.8" text-anchor="middle" fill="#1a1a1a"  stroke="#1a1a1a" stroke-width="0.12">300</text>
<line x1="391.65" y1="141.8" x2="391.65" y2="143.6" stroke="#3c3c3c" stroke-width="0.7" />
<line x1="413.4" y1="141.8" x2="413.4" y2="144.8" stroke="#3c3c3c" stroke-width="0.7" />
<text x="413.4" y="155.01" font-size="7.8" text-anchor="middle" fill="#1a1a1a"  stroke="#1a1a1a" stroke-width="0.12">450</text>
<line x1="435.15" y1="141.8" x2="435.15" y2="143.6" stroke="#3c3c3c" stroke-width="0.7" />
<line x1="456.9" y1="141.8" x2="456.9" y2="144.8" stroke="#3c3c3c" stroke-width="0.7" />
<text x="456.9" y="155.01" font-size="7.8" text-anchor="middle" fill="#1a1a1a"  stroke="#1a1a1a" stroke-width="0.12">600</text>
<text x="355" y="168.58" font-size="8" text-anchor="middle" fill="#1a1a1a"  stroke="#1a1a1a" stroke-width="0.12">Profiling distance (nm)</text>
<text transform="translate(242.9,77) rotate(-90)" x="0" y="2.9" font-size="8" text-anchor="middle" fill="#1a1a1a" stroke="#1a1a1a" stroke-width="0.12">Trap density (cm<tspan font-size="4.6" dy="-3">−3</tspan><tspan dy="3">)</tspan></text>
<g fill="none" stroke-width="0.9">
<polyline points="283.5,111.5 283.57,108.99 283.64,105.2 283.73,100.88 283.86,96.74 284.05,93.54 284.3,92 284.58,92.46 284.86,94.39 285.2,97.25 285.64,100.5 286.22,103.6 287,106 287.95,107.78 289.01,109.39 290.23,110.84 291.62,112.17 293.2,113.38 295,114.5 297.09,115.5 299.48,116.37 302.06,117.12 304.74,117.8 307.42,118.41 310,119 312.44,119.55 314.81,120.04 317.19,120.47 319.63,120.85 322.21,121.19 325,121.5 328.04,121.78 331.3,122.04 334.69,122.25 338.15,122.41 341.61,122.5 345,122.5 348.33,122.43 351.67,122.3 355,122.09 358.33,121.81 361.67,121.45 365,121 368.26,120.46 371.44,119.83 374.62,119.12 377.89,118.33 381.32,117.46 385,116.5 389.12,115.41 393.67,114.19 398.38,112.88 403,111.54 407.29,110.23 411,109 414.07,107.91 416.7,106.91 419,105.94 421.07,104.93 423.04,103.8 425,102.5 426.92,101 428.7,99.35 430.38,97.59 431.96,95.76 433.5,93.88 435,92 436.47,90.11 437.89,88.19 439.25,86.22 440.56,84.2 441.81,82.13 443,80 444.16,77.78 445.3,75.48 446.38,73.12 447.37,70.74 448.25,68.36 449,66 449.59,63.5 450.04,60.81 450.38,58.12 450.63,55.63 450.83,53.52 451,52" fill="none" stroke="#bfe3f6" stroke-width="0.9" stroke-linejoin="round" />
<polyline points="283.5,110 283.57,107.43 283.64,103.56 283.73,99.12 283.86,94.89 284.05,91.6 284.3,90 284.58,90.42 284.86,92.33 285.2,95.19 285.64,98.44 286.22,101.56 287,104 287.95,105.84 289.01,107.54 290.23,109.09 291.62,110.52 293.2,111.82 295,113 297.09,114.03 299.48,114.89 302.06,115.62 304.74,116.28 307.42,116.89 310,117.5 312.44,118.11 314.81,118.69 317.19,119.22 319.63,119.7 322.21,120.13 325,120.5 328.04,120.81 331.3,121.07 334.69,121.28 338.15,121.43 341.61,121.5 345,121.5 348.33,121.43 351.67,121.3 355,121.09 358.33,120.81 361.67,120.45 365,120 368.28,119.46 371.48,118.83 374.69,118.12 377.96,117.33 381.38,116.46 385,115.5 388.99,114.42 393.33,113.2 397.81,111.91 402.22,110.57 406.35,109.26 410,108 413.14,106.86 415.93,105.81 418.44,104.78 420.74,103.69 422.91,102.45 425,101 427,99.29 428.85,97.37 430.56,95.31 432.15,93.19 433.62,91.06 435,89 436.25,87.06 437.37,85.19 438.38,83.31 439.3,81.37 440.16,79.29 441,77 441.79,74.44 442.52,71.67 443.19,68.75 443.81,65.78 444.41,62.83 445,60 445.59,57.09 446.19,54 446.75,50.94 447.26,48.11 447.69,45.73 448,44" fill="none" stroke="#f9c4c7" stroke-width="0.9" stroke-linejoin="round" />
<polyline points="283.5,100 283.59,97.39 283.7,93.46 283.84,88.97 284.02,84.65 284.23,81.24 284.5,79.5 284.77,79.75 285.02,81.46 285.31,84.09 285.7,87.09 286.25,89.91 287,92 287.99,93.43 289.19,94.65 290.53,95.69 291.98,96.57 293.49,97.34 295,98 296.49,98.55 298,98.96 299.56,99.25 301.22,99.43 303.02,99.5 305,99.5 307.21,99.38 309.63,99.11 312.19,98.75 314.81,98.33 317.44,97.9 320,97.5 322.5,97.1 325,96.67 327.5,96.22 330,95.78 332.5,95.36 335,95 337.5,94.65 340,94.28 342.5,93.94 345,93.67 347.5,93.51 350,93.5 352.44,93.69 354.81,94.04 357.19,94.5 359.63,95.02 362.21,95.54 365,96 367.99,96.46 371.11,96.96 374.38,97.47 377.78,97.93 381.32,98.29 385,98.5 388.99,98.56 393.33,98.52 397.81,98.38 402.22,98.15 406.35,97.85 410,97.5 413.14,97.1 415.93,96.65 418.44,96.12 420.74,95.52 422.91,94.81 425,94 426.98,93.12 428.78,92.19 430.44,91.16 432,89.98 433.51,88.61 435,87 436.48,85.08 437.93,82.89 439.31,80.5 440.63,78 441.86,75.47 443,73 444.03,70.65 444.96,68.37 445.81,66.06 446.59,63.63 447.32,60.97 448,58 448.65,54.36 449.26,50.07 449.81,45.56 450.3,41.26 450.7,37.59 451,35" fill="none" stroke="#3fa3dd" stroke-width="0.9" stroke-linejoin="round" />
<polyline points="283.5,93 283.6,90.84 283.72,87.59 283.88,83.88 284.06,80.3 284.26,77.47 284.5,76 284.73,76.16 284.96,77.5 285.22,79.59 285.54,82 285.95,84.28 286.5,86 287.16,87.23 287.91,88.32 288.75,89.29 289.7,90.14 290.78,90.88 292,91.5 293.37,92.03 294.89,92.47 296.53,92.79 298.28,92.97 300.11,92.98 302,92.8 303.97,92.36 306.04,91.68 308.19,90.82 310.41,89.88 312.68,88.91 315,88 317.38,87.07 319.85,86.05 322.38,85.01 324.93,84.03 327.48,83.16 330,82.5 332.5,82.04 335,81.72 337.5,81.53 340,81.44 342.5,81.44 345,81.5 347.44,81.65 349.81,81.91 352.19,82.25 354.63,82.65 357.21,83.07 360,83.5 362.99,83.98 366.11,84.54 369.38,85.12 372.78,85.69 376.32,86.16 380,86.5 383.94,86.67 388.15,86.72 392.5,86.69 396.85,86.61 401.06,86.53 405,86.5 408.75,86.55 412.44,86.67 416,86.78 419.33,86.83 422.36,86.76 425,86.5 427.17,86.13 428.93,85.72 430.38,85.19 431.63,84.44 432.8,83.41 434,82 435.2,80.13 436.3,77.85 437.31,75.28 438.26,72.54 439.15,69.74 440,67 440.79,64.29 441.52,61.52 442.19,58.69 442.81,55.81 443.41,52.91 444,50 444.57,46.98 445.11,43.81 445.62,40.62 446.11,37.52 446.57,34.61 447,32 447.41,29.63 447.81,27.41 448.19,25.38 448.52,23.59 448.79,22.12 449,21" fill="none" stroke="#f06a68" stroke-width="0.9" stroke-linejoin="round" />
</g>
<circle cx="280.8" cy="111.8" r="2.0" fill="#cbe9f8" stroke="#a6d8f1" stroke-width="0.5"/>
<circle cx="280.2" cy="111.1" r="0.84" fill="#fff" opacity="0.55"/>
<circle cx="286" cy="90.7" r="2.0" fill="#cbe9f8" stroke="#a6d8f1" stroke-width="0.5"/>
<circle cx="285.4" cy="90" r="0.84" fill="#fff" opacity="0.55"/>
<circle cx="311.2" cy="119.6" r="2.0" fill="#cbe9f8" stroke="#a6d8f1" stroke-width="0.5"/>
<circle cx="310.6" cy="118.9" r="0.84" fill="#fff" opacity="0.55"/>
<circle cx="350.9" cy="123.2" r="2.0" fill="#cbe9f8" stroke="#a6d8f1" stroke-width="0.5"/>
<circle cx="350.3" cy="122.5" r="0.84" fill="#fff" opacity="0.55"/>
<circle cx="384.9" cy="116.1" r="2.0" fill="#cbe9f8" stroke="#a6d8f1" stroke-width="0.5"/>
<circle cx="384.3" cy="115.4" r="0.84" fill="#fff" opacity="0.55"/>
<circle cx="411.4" cy="108.9" r="2.0" fill="#cbe9f8" stroke="#a6d8f1" stroke-width="0.5"/>
<circle cx="410.8" cy="108.2" r="0.84" fill="#fff" opacity="0.55"/>
<circle cx="434.4" cy="92" r="2.0" fill="#cbe9f8" stroke="#a6d8f1" stroke-width="0.5"/>
<circle cx="433.8" cy="91.3" r="0.84" fill="#fff" opacity="0.55"/>
<circle cx="440" cy="75" r="2.0" fill="#cbe9f8" stroke="#a6d8f1" stroke-width="0.5"/>
<circle cx="439.4" cy="74.3" r="0.84" fill="#fff" opacity="0.55"/>
<circle cx="449.8" cy="68.4" r="2.0" fill="#cbe9f8" stroke="#a6d8f1" stroke-width="0.5"/>
<circle cx="449.2" cy="67.7" r="0.84" fill="#fff" opacity="0.55"/>
<circle cx="449.8" cy="63" r="2.0" fill="#cbe9f8" stroke="#a6d8f1" stroke-width="0.5"/>
<circle cx="449.2" cy="62.3" r="0.84" fill="#fff" opacity="0.55"/>
<circle cx="449" cy="57.5" r="2.0" fill="#cbe9f8" stroke="#a6d8f1" stroke-width="0.5"/>
<circle cx="448.4" cy="56.8" r="0.84" fill="#fff" opacity="0.55"/>
<circle cx="280.8" cy="110.4" r="2.0" fill="#fcd3d6" stroke="#f4b3b7" stroke-width="0.5"/>
<circle cx="280.2" cy="109.7" r="0.84" fill="#fff" opacity="0.55"/>
<circle cx="287" cy="93.9" r="2.0" fill="#fcd3d6" stroke="#f4b3b7" stroke-width="0.5"/>
<circle cx="286.4" cy="93.2" r="0.84" fill="#fff" opacity="0.55"/>
<circle cx="302" cy="115.2" r="2.0" fill="#fcd3d6" stroke="#f4b3b7" stroke-width="0.5"/>
<circle cx="301.4" cy="114.5" r="0.84" fill="#fff" opacity="0.55"/>
<circle cx="337.5" cy="123.2" r="2.0" fill="#fcd3d6" stroke="#f4b3b7" stroke-width="0.5"/>
<circle cx="336.9" cy="122.5" r="0.84" fill="#fff" opacity="0.55"/>
<circle cx="380.5" cy="116.5" r="2.0" fill="#fcd3d6" stroke="#f4b3b7" stroke-width="0.5"/>
<circle cx="379.9" cy="115.8" r="0.84" fill="#fff" opacity="0.55"/>
<circle cx="407.2" cy="108.3" r="2.0" fill="#fcd3d6" stroke="#f4b3b7" stroke-width="0.5"/>
<circle cx="406.6" cy="107.6" r="0.84" fill="#fff" opacity="0.55"/>
<circle cx="424.1" cy="101.1" r="2.0" fill="#fcd3d6" stroke="#f4b3b7" stroke-width="0.5"/>
<circle cx="423.5" cy="100.4" r="0.84" fill="#fff" opacity="0.55"/>
<circle cx="434.4" cy="87.5" r="2.0" fill="#fcd3d6" stroke="#f4b3b7" stroke-width="0.5"/>
<circle cx="433.8" cy="86.8" r="0.84" fill="#fff" opacity="0.55"/>
<circle cx="440.4" cy="77.5" r="2.0" fill="#fcd3d6" stroke="#f4b3b7" stroke-width="0.5"/>
<circle cx="439.8" cy="76.8" r="0.84" fill="#fff" opacity="0.55"/>
<circle cx="443.5" cy="63" r="2.0" fill="#fcd3d6" stroke="#f4b3b7" stroke-width="0.5"/>
<circle cx="442.9" cy="62.3" r="0.84" fill="#fff" opacity="0.55"/>
<circle cx="446.5" cy="54" r="2.0" fill="#fcd3d6" stroke="#f4b3b7" stroke-width="0.5"/>
<circle cx="445.9" cy="53.3" r="0.84" fill="#fff" opacity="0.55"/>
<circle cx="448" cy="48" r="2.0" fill="#fcd3d6" stroke="#f4b3b7" stroke-width="0.5"/>
<circle cx="447.4" cy="47.3" r="0.84" fill="#fff" opacity="0.55"/>
<circle cx="280.8" cy="101.3" r="2.0" fill="#3aa0dc" stroke="#2186c6" stroke-width="0.5"/>
<circle cx="280.2" cy="100.6" r="0.84" fill="#fff" opacity="0.55"/>
<circle cx="285.5" cy="80.4" r="2.0" fill="#3aa0dc" stroke="#2186c6" stroke-width="0.5"/>
<circle cx="284.9" cy="79.7" r="0.84" fill="#fff" opacity="0.55"/>
<circle cx="311.2" cy="99.7" r="2.0" fill="#3aa0dc" stroke="#2186c6" stroke-width="0.5"/>
<circle cx="310.6" cy="99" r="0.84" fill="#fff" opacity="0.55"/>
<circle cx="350.9" cy="91.4" r="2.0" fill="#3aa0dc" stroke="#2186c6" stroke-width="0.5"/>
<circle cx="350.3" cy="90.7" r="0.84" fill="#fff" opacity="0.55"/>
<circle cx="384.9" cy="101.1" r="2.0" fill="#3aa0dc" stroke="#2186c6" stroke-width="0.5"/>
<circle cx="384.3" cy="100.4" r="0.84" fill="#fff" opacity="0.55"/>
<circle cx="411.4" cy="97.8" r="2.0" fill="#3aa0dc" stroke="#2186c6" stroke-width="0.5"/>
<circle cx="410.8" cy="97.1" r="0.84" fill="#fff" opacity="0.55"/>
<circle cx="424.8" cy="93.3" r="2.0" fill="#3aa0dc" stroke="#2186c6" stroke-width="0.5"/>
<circle cx="424.2" cy="92.6" r="0.84" fill="#fff" opacity="0.55"/>
<circle cx="434.4" cy="86.6" r="2.0" fill="#3aa0dc" stroke="#2186c6" stroke-width="0.5"/>
<circle cx="433.8" cy="85.9" r="0.84" fill="#fff" opacity="0.55"/>
<circle cx="443.5" cy="71.5" r="2.0" fill="#3aa0dc" stroke="#2186c6" stroke-width="0.5"/>
<circle cx="442.9" cy="70.8" r="0.84" fill="#fff" opacity="0.55"/>
<circle cx="445.3" cy="67" r="2.0" fill="#3aa0dc" stroke="#2186c6" stroke-width="0.5"/>
<circle cx="444.7" cy="66.3" r="0.84" fill="#fff" opacity="0.55"/>
<circle cx="446.2" cy="62.1" r="2.0" fill="#3aa0dc" stroke="#2186c6" stroke-width="0.5"/>
<circle cx="445.6" cy="61.4" r="0.84" fill="#fff" opacity="0.55"/>
<circle cx="447.5" cy="57" r="2.0" fill="#3aa0dc" stroke="#2186c6" stroke-width="0.5"/>
<circle cx="446.9" cy="56.3" r="0.84" fill="#fff" opacity="0.55"/>
<circle cx="448.5" cy="52" r="2.0" fill="#3aa0dc" stroke="#2186c6" stroke-width="0.5"/>
<circle cx="447.9" cy="51.3" r="0.84" fill="#fff" opacity="0.55"/>
<circle cx="449" cy="47" r="2.0" fill="#3aa0dc" stroke="#2186c6" stroke-width="0.5"/>
<circle cx="448.4" cy="46.3" r="0.84" fill="#fff" opacity="0.55"/>
<circle cx="449.6" cy="42" r="2.0" fill="#3aa0dc" stroke="#2186c6" stroke-width="0.5"/>
<circle cx="449" cy="41.3" r="0.84" fill="#fff" opacity="0.55"/>
<circle cx="450.2" cy="37.5" r="2.0" fill="#3aa0dc" stroke="#2186c6" stroke-width="0.5"/>
<circle cx="449.6" cy="36.8" r="0.84" fill="#fff" opacity="0.55"/>
<circle cx="450.7" cy="33.9" r="2.0" fill="#3aa0dc" stroke="#2186c6" stroke-width="0.5"/>
<circle cx="450.1" cy="33.2" r="0.84" fill="#fff" opacity="0.55"/>
<circle cx="280.8" cy="93.3" r="2.0" fill="#f45f5c" stroke="#e04542" stroke-width="0.5"/>
<circle cx="280.2" cy="92.6" r="0.84" fill="#fff" opacity="0.55"/>
<circle cx="286.7" cy="72.4" r="2.0" fill="#f45f5c" stroke="#e04542" stroke-width="0.5"/>
<circle cx="286.1" cy="71.7" r="0.84" fill="#fff" opacity="0.55"/>
<circle cx="302" cy="92.4" r="2.0" fill="#f45f5c" stroke="#e04542" stroke-width="0.5"/>
<circle cx="301.4" cy="91.7" r="0.84" fill="#fff" opacity="0.55"/>
<circle cx="337.5" cy="78" r="2.0" fill="#f45f5c" stroke="#e04542" stroke-width="0.5"/>
<circle cx="336.9" cy="77.3" r="0.84" fill="#fff" opacity="0.55"/>
<circle cx="380.5" cy="88.4" r="2.0" fill="#f45f5c" stroke="#e04542" stroke-width="0.5"/>
<circle cx="379.9" cy="87.7" r="0.84" fill="#fff" opacity="0.55"/>
<circle cx="407.2" cy="85.3" r="2.0" fill="#f45f5c" stroke="#e04542" stroke-width="0.5"/>
<circle cx="406.6" cy="84.6" r="0.84" fill="#fff" opacity="0.55"/>
<circle cx="423.5" cy="87.1" r="2.0" fill="#f45f5c" stroke="#e04542" stroke-width="0.5"/>
<circle cx="422.9" cy="86.4" r="0.84" fill="#fff" opacity="0.55"/>
<circle cx="434.4" cy="79.3" r="2.0" fill="#f45f5c" stroke="#e04542" stroke-width="0.5"/>
<circle cx="433.8" cy="78.6" r="0.84" fill="#fff" opacity="0.55"/>
<circle cx="440.4" cy="59.9" r="2.0" fill="#f45f5c" stroke="#e04542" stroke-width="0.5"/>
<circle cx="439.8" cy="59.2" r="0.84" fill="#fff" opacity="0.55"/>
<circle cx="441.7" cy="55" r="2.0" fill="#f45f5c" stroke="#e04542" stroke-width="0.5"/>
<circle cx="441.1" cy="54.3" r="0.84" fill="#fff" opacity="0.55"/>
<circle cx="442.3" cy="51" r="2.0" fill="#f45f5c" stroke="#e04542" stroke-width="0.5"/>
<circle cx="441.7" cy="50.3" r="0.84" fill="#fff" opacity="0.55"/>
<circle cx="442.8" cy="47.5" r="2.0" fill="#f45f5c" stroke="#e04542" stroke-width="0.5"/>
<circle cx="442.2" cy="46.8" r="0.84" fill="#fff" opacity="0.55"/>
<circle cx="443.2" cy="44" r="2.0" fill="#f45f5c" stroke="#e04542" stroke-width="0.5"/>
<circle cx="442.6" cy="43.3" r="0.84" fill="#fff" opacity="0.55"/>
<circle cx="443.7" cy="40.5" r="2.0" fill="#f45f5c" stroke="#e04542" stroke-width="0.5"/>
<circle cx="443.1" cy="39.8" r="0.84" fill="#fff" opacity="0.55"/>
<circle cx="444.3" cy="37" r="2.0" fill="#f45f5c" stroke="#e04542" stroke-width="0.5"/>
<circle cx="443.7" cy="36.3" r="0.84" fill="#fff" opacity="0.55"/>
<circle cx="445" cy="33" r="2.0" fill="#f45f5c" stroke="#e04542" stroke-width="0.5"/>
<circle cx="444.4" cy="32.3" r="0.84" fill="#fff" opacity="0.55"/>
<circle cx="446" cy="29" r="2.0" fill="#f45f5c" stroke="#e04542" stroke-width="0.5"/>
<circle cx="445.4" cy="28.3" r="0.84" fill="#fff" opacity="0.55"/>
<circle cx="447.1" cy="25.5" r="2.0" fill="#f45f5c" stroke="#e04542" stroke-width="0.5"/>
<circle cx="446.5" cy="24.8" r="0.84" fill="#fff" opacity="0.55"/>
<circle cx="448.4" cy="22.7" r="2.0" fill="#f45f5c" stroke="#e04542" stroke-width="0.5"/>
<circle cx="447.8" cy="22" r="0.84" fill="#fff" opacity="0.55"/>
<text x="284.9" y="14.78" font-size="8" text-anchor="start" fill="#1a1a1a"  stroke="#1a1a1a" stroke-width="0.12">Continuous mode</text>
<text x="284.9" y="48.38" font-size="8" text-anchor="start" fill="#1a1a1a"  stroke="#1a1a1a" stroke-width="0.12">Cycling mode</text>
<line x1="288.4" y1="23.1" x2="304.7" y2="23.1" stroke="#bfe3f6" stroke-width="0.9" />
<circle cx="296.3" cy="23.1" r="2.0" fill="#cbe9f8" stroke="#a6d8f1" stroke-width="0.5"/>
<circle cx="295.7" cy="22.4" r="0.84" fill="#fff" opacity="0.55"/>
<text x="308.7" y="25.98" font-size="8" text-anchor="start" fill="#1a1a1a"  stroke="#1a1a1a" stroke-width="0.12">Fresh</text>
<line x1="288.4" y1="34.2" x2="304.7" y2="34.2" stroke="#3fa3dd" stroke-width="0.9" />
<circle cx="296.3" cy="34.2" r="2.0" fill="#3aa0dc" stroke="#2186c6" stroke-width="0.5"/>
<circle cx="295.7" cy="33.5" r="0.84" fill="#fff" opacity="0.55"/>
<text x="308.7" y="37.08" font-size="8" text-anchor="start" fill="#1a1a1a"  stroke="#1a1a1a" stroke-width="0.12">Aged</text>
<line x1="288.4" y1="56.9" x2="304.7" y2="56.9" stroke="#f9c4c7" stroke-width="0.9" />
<circle cx="296.3" cy="56.9" r="2.0" fill="#fcd3d6" stroke="#f4b3b7" stroke-width="0.5"/>
<circle cx="295.7" cy="56.2" r="0.84" fill="#fff" opacity="0.55"/>
<text x="308.7" y="59.78" font-size="8" text-anchor="start" fill="#1a1a1a"  stroke="#1a1a1a" stroke-width="0.12">Fresh</text>
<line x1="288.4" y1="68" x2="304.7" y2="68" stroke="#f06a68" stroke-width="0.9" />
<circle cx="296.3" cy="68" r="2.0" fill="#f45f5c" stroke="#e04542" stroke-width="0.5"/>
<circle cx="295.7" cy="67.3" r="0.84" fill="#fff" opacity="0.55"/>
<text x="308.7" y="70.88" font-size="8" text-anchor="start" fill="#1a1a1a"  stroke="#1a1a1a" stroke-width="0.12">Aged</text>
<text x="369.5" y="77.18" font-size="8" text-anchor="start" fill="#1a1a1a"  stroke="#1a1a1a" stroke-width="0.12">Trap band II</text>
<text x="280.1" y="134.88" font-size="8" text-anchor="start" fill="#1a1a1a"  stroke="#1a1a1a" stroke-width="0.12">Spiro-OMeTAD</text>
<text x="428.7" y="137" font-size="8" fill="#1a1a1a" stroke="#1a1a1a" stroke-width="0.12">SnO<tspan font-size="5" dy="2">2</tspan></text>
<text x="239" y="7.6" font-size="9.5" font-weight="bold" fill="#000" stroke="#000" stroke-width="0.12">b</text>
<rect x="521" y="45.03" width="17.8" height="95.38" fill="#8e9afc"/>
<rect x="540" y="67.72" width="17.6" height="72.68" fill="#4dbbfc"/>
<rect x="559" y="69.82" width="17.2" height="70.58" fill="#f86a6a"/>
<rect x="612" y="44.26" width="17.5" height="96.14" fill="#8e9afc"/>
<rect x="630.7" y="78.22" width="17.3" height="62.18" fill="#4dbbfc"/>
<rect x="649" y="89.28" width="18" height="51.12" fill="#f86a6a"/>
<path d="M502.9,6.5 H684.5 M502.9,6.5 V140.4 H684.5" fill="none" stroke="#3c3c3c" stroke-width="0.9"/>
<line x1="684.5" y1="6.5" x2="684.5" y2="140.4" stroke="#3c3c3c" stroke-width="0.9"/>
<line x1="499.9" y1="140.4" x2="502.9" y2="140.4" stroke="#3c3c3c" stroke-width="0.7" />
<text x="498.5" y="143.21" font-size="7.8" text-anchor="end" fill="#1a1a1a"  stroke="#1a1a1a" stroke-width="0.12">0</text>
<line x1="501.1" y1="121.33" x2="502.9" y2="121.33" stroke="#3c3c3c" stroke-width="0.7" />
<line x1="499.9" y1="102.25" x2="502.9" y2="102.25" stroke="#3c3c3c" stroke-width="0.7" />
<text x="498.5" y="105.06" font-size="7.8" text-anchor="end" fill="#1a1a1a"  stroke="#1a1a1a" stroke-width="0.12">0.1</text>
<line x1="501.1" y1="83.17" x2="502.9" y2="83.17" stroke="#3c3c3c" stroke-width="0.7" />
<line x1="499.9" y1="64.1" x2="502.9" y2="64.1" stroke="#3c3c3c" stroke-width="0.7" />
<text x="498.5" y="66.91" font-size="7.8" text-anchor="end" fill="#1a1a1a"  stroke="#1a1a1a" stroke-width="0.12">0.2</text>
<line x1="501.1" y1="45.03" x2="502.9" y2="45.03" stroke="#3c3c3c" stroke-width="0.7" />
<line x1="499.9" y1="25.95" x2="502.9" y2="25.95" stroke="#3c3c3c" stroke-width="0.7" />
<text x="498.5" y="28.76" font-size="7.8" text-anchor="end" fill="#1a1a1a"  stroke="#1a1a1a" stroke-width="0.12">0.3</text>
<line x1="594" y1="140.4" x2="594" y2="143.4" stroke="#3c3c3c" stroke-width="0.7" />
<text x="548.6" y="155.08" font-size="8" text-anchor="middle" fill="#1a1a1a"  stroke="#1a1a1a" stroke-width="0.12">Continuous</text>
<text x="640" y="155.08" font-size="8" text-anchor="middle" fill="#1a1a1a"  stroke="#1a1a1a" stroke-width="0.12">Cycling</text>
<text x="510" y="20.38" font-size="8" text-anchor="start" fill="#1a1a1a"  stroke="#1a1a1a" stroke-width="0.12">Light</text>
<rect x="566" y="9.3" width="16.3" height="8" fill="#8e9afc"/>
<text x="586" y="16.18" font-size="8" text-anchor="start" fill="#1a1a1a"  stroke="#1a1a1a" stroke-width="0.12">Fresh</text>
<rect x="566" y="20.3" width="16.3" height="8" fill="#4dbbfc"/>
<text x="586" y="27.18" font-size="8" text-anchor="start" fill="#1a1a1a"  stroke="#1a1a1a" stroke-width="0.12">Aged 84 h (7 cycles)</text>
<rect x="566" y="31.9" width="16.3" height="8" fill="#f86a6a"/>
<text x="586" y="38.78" font-size="8" text-anchor="start" fill="#1a1a1a"  stroke="#1a1a1a" stroke-width="0.12">Aged 168 h (14 cycles)</text>
<text transform="translate(473,73) rotate(-90)" x="0" y="2.9" font-size="8" text-anchor="middle" fill="#1a1a1a" stroke="#1a1a1a" stroke-width="0.12"><tspan font-style="italic">E</tspan><tspan font-size="4.6" dy="1.5">a</tspan><tspan dy="-1.5"> (eV)</tspan></text>
<text x="468.5" y="7.9" font-size="9.5" font-weight="bold" fill="#000" stroke="#000" stroke-width="0.12">c</text>
<defs><linearGradient id="gOct" x1="0" y1="0" x2="1" y2="1"><stop offset="0" stop-color="#60aae3"/><stop offset="0.5" stop-color="#4f9dda"/><stop offset="1" stop-color="#448ed1"/></linearGradient></defs>
<defs><linearGradient id="gSub" x1="0" y1="0" x2="0" y2="1"><stop offset="0" stop-color="#a9abae"/><stop offset="0.5" stop-color="#9a9da0"/><stop offset="1" stop-color="#84878b"/></linearGradient></defs>
<rect x="51.5" y="197.4" width="131.5" height="215.1" fill="#ededed"/>
<rect x="183" y="197.4" width="449.5" height="215.1" fill="#fdf8ee"/>
<defs><clipPath id="clipD"><rect x="52" y="198" width="580" height="214"/></clipPath></defs><g clip-path="url(#clipD)">
<polyline points="69.4,221.13 69.51,226.17 69.62,225.66 69.73,219.06 69.85,227.73 69.96,219 70.07,223.17 70.18,220.79 70.29,223.85 70.4,213.99 70.51,226.96 70.62,220.65 70.74,223.6 70.85,220.5 70.96,219.57 71.07,222.78 71.18,224.15 71.29,220.25 71.4,220.44 71.51,223.63 71.63,217.71 71.74,215.27 71.85,222.53 71.96,218.48 72.07,213.73 72.18,217.93 72.29,219.25 72.4,216.5 72.52,215.36 72.63,221.17 72.74,224.44 72.85,220.15 72.96,218.21 73.07,222.5 73.18,223.76 73.29,219.9 73.41,223.11 73.52,225 73.63,220.26 73.74,217.95 73.85,222.37 73.96,221.99 74.07,225.22 74.19,216.17 74.3,218.53 74.41,217.86 74.52,214.46 74.63,221.53 74.74,223.06 74.85,218.25 74.96,226.32 75.08,224.18 75.19,223.44 75.3,222.58 75.41,224.69 75.52,216 75.63,223.39 75.74,223.35 75.85,214.35 75.97,220.46 76.08,220.11 76.19,224.04 76.3,219.4 76.41,221 76.52,222.37 76.63,219.88 76.74,225.99 76.86,220.67 76.97,222.95 77.08,219.09 77.19,225.2 77.3,223.38 77.41,220.4 77.52,223.48 77.63,225.87 77.75,227.89 77.86,215.1 77.97,224.44 78.08,222.85 78.19,220.73 78.3,217.26 78.41,225.87 78.53,216.3 78.64,223.25 78.75,226.04 78.86,215.01 78.97,219.94 79.08,216.12 79.19,222.02 79.3,226.85 79.42,228.79 79.53,214.34 79.64,216.49 79.75,223.78 79.86,227.1 79.97,222.71 80.08,218.27 80.19,222.24 80.31,221.04 80.42,220.33 80.53,218.32 80.64,222.58 80.75,222.28 80.86,220.76 80.97,220.27 81.08,216.23 81.2,219.27 81.31,225.7 81.42,220.39 81.53,215.65 81.64,226.19 81.75,223.14 81.86,229.13 81.97,221.36 82.09,219.37 82.2,215.63 82.31,226.16 82.42,230.89 82.53,218.01 82.64,218.67 82.75,223.4 82.87,217.98 82.98,220.11 83.09,219.81 83.2,221.87 83.31,225.3 83.42,221.22 83.53,224.63 83.64,219.55 83.76,222.39 83.87,208.6 83.98,215.63 84.09,224.17 84.2,230.39 84.31,223.35 84.42,223.21 84.53,224.73 84.65,224.24 84.76,221.68 84.87,220.73 84.98,218.5 85.09,218.38 85.2,228.03 85.31,216.86 85.42,219.08 85.54,226.63 85.65,222.12 85.76,219.87 85.87,230.9 85.98,220.89 86.09,222.02 86.2,225.29 86.31,223.36 86.43,218.72 86.54,218.42 86.65,227.84 86.76,224.05 86.87,228.13 86.98,229.27 87.09,218.07 87.21,222.64 87.32,222.92 87.43,223.3 87.54,223.24 87.65,221.95 87.76,221.84 87.87,215.47 87.98,220.56 88.1,218.34 88.21,221.66 88.32,219.41 88.43,223.54 88.54,224.3 88.65,222.36 88.76,222.39 88.87,220.4 88.99,219.49 89.1,220.57 89.21,219.31 89.32,222.67 89.43,221.25 89.54,223.41 89.65,216.15 89.76,224.57 89.88,218.3 89.99,218.41 90.1,220.45 90.21,219.06 90.32,222.31 90.43,219.03 90.54,217.14 90.65,218 90.77,226.2 90.88,225.48 90.99,216.78 91.1,221.25 91.21,215.3 91.32,228.02 91.43,215.42 91.55,223.04 91.66,223.29 91.77,215.71 91.88,222.36 91.99,225.01 92.1,223 92.21,222.22 92.32,224.83 92.44,221.84 92.55,222.51 92.66,220.75 92.77,223.63 92.88,217.65 92.99,224.24 93.1,219.31 93.21,217.09 93.33,222.6 93.44,227.67 93.55,224.89 93.66,219.28 93.77,223.89 93.88,219.52 93.99,220.77 94.1,221.58 94.22,212.44 94.33,221.97 94.44,217.33 94.55,218.6 94.66,215.65 94.77,210.57 94.88,228.49 94.99,224.39 95.11,227.58 95.22,221.16 95.33,225.41 95.44,220.25 95.55,211.53 95.66,221.83 95.77,222.95 95.88,219.63 96,222.41 96.11,223.44 96.22,217.98 96.33,215.65 96.44,220.43 96.55,220.47 96.66,219.93 96.78,225.43 96.89,227.83 97,219.69 97.11,228.48 97.22,224.85 97.33,223.99 97.44,225.26 97.55,219.8 97.67,224.09 97.78,228.97 97.89,224.34 98,218.93 98.11,223.59 98.22,226.08 98.33,222.69 98.44,219.15 98.56,227.15 98.67,216.54 98.78,223.2 98.89,221.23 99,216.76 99.11,225.93 99.22,222.62 99.33,216.86 99.45,223.58 99.56,219.66 99.67,214.07 99.78,218.68 99.89,232.89 100,223.72 100.11,221.93 100.22,221.48 100.34,223.09 100.45,220.51 100.56,225.78 100.67,221.87 100.78,222.43 100.89,223.37 101,217.3 101.12,218.62 101.23,227.12 101.34,222.59 101.45,220.24 101.56,222.62 101.67,219.49 101.78,222.38 101.89,218.79 102.01,222.37 102.12,215.33 102.23,226.38 102.34,219.38 102.45,215.32 102.56,220.48 102.67,219.92 102.78,221.91 102.9,216.98 103.01,222.84 103.12,233.87 103.23,216.48 103.34,222.62 103.45,220.16 103.56,222.07 103.67,214.45 103.79,216.97 103.9,223.09 104.01,221.2 104.12,227.56 104.23,218.67 104.34,222.01 104.45,232.42 104.56,218.44 104.68,217.91 104.79,221.22 104.9,221.18 105.01,224.56 105.12,221.85 105.23,223.97 105.34,222.16 105.46,231.38 105.57,226.19 105.68,210.79 105.79,220.82 105.9,218.04 106.01,223.73 106.12,220.7 106.23,228.71 106.35,224.9 106.46,224.75 106.57,222.08 106.68,221.22 106.79,222.66 106.9,226.29 107.01,223.4 107.12,220.04 107.24,226.22 107.35,222.1 107.46,221.08 107.57,218.37 107.68,214.54 107.79,218.96 107.9,210.77 108.01,225.25 108.13,223.54 108.24,220.57 108.35,225.36 108.46,223.05 108.57,222.8 108.68,211.98 108.79,220.5 108.9,223.41 109.02,227.51 109.13,228.39 109.24,226.81 109.35,216.98 109.46,213.04 109.57,225.87 109.68,221.5 109.8,223.57 109.91,220.92 110.02,222.24 110.13,215.7 110.24,223.11 110.35,219.71 110.46,222.74 110.57,223.15 110.69,220.96 110.8,222.61 110.91,221.36 111.02,224.3 111.13,223.32 111.24,219.33 111.35,219.18 111.46,228.04 111.58,219.09 111.69,225.61 111.8,222.91 111.91,219.28 112.02,218.58 112.13,221.88 112.24,222.4 112.35,232.79 112.47,216.61 112.58,219.17 112.69,221.07 112.8,227.51 112.91,212.46 113.02,223.1 113.13,219.38 113.24,223.07 113.36,219.56 113.47,222.82 113.58,227.38 113.69,222.78 113.8,223.09 113.91,222.86 114.02,221.44 114.14,223.51 114.25,220.65 114.36,218.36 114.47,221.3 114.58,220.58 114.69,224.31 114.8,221.29 114.91,219.44 115.03,226.98 115.14,225.21 115.25,226.28 115.36,223.76 115.47,221.04 115.58,219.86 115.69,220.4 115.8,225.06 115.92,221.88 116.03,215.83 116.14,221.31 116.25,216.08 116.36,222.09 116.47,216.89 116.58,216.66 116.69,221.92 116.81,221.17 116.92,215.15 117.03,224.31 117.14,229.69 117.25,215.84 117.36,228.39 117.47,218.86 117.58,219.6 117.7,220.8 117.81,215.99 117.92,224.97 118.03,223.35 118.14,218.63 118.25,220.43 118.36,215.72 118.48,220.16 118.59,225.04 118.7,214.97 118.81,219.83 118.92,222.05 119.03,225.47 119.14,231.25 119.25,219.76 119.37,215.26 119.48,223.21 119.59,220.12 119.7,220.32 119.81,225.6 119.92,227.92 120.03,222.51 120.14,220.77 120.26,223.68 120.37,214.34 120.48,221.45 120.59,217.49 120.7,230.61 120.81,224.27 120.92,222.07 121.03,220.8 121.15,211.99 121.26,224.26 121.37,227.74 121.48,227.26 121.59,224.16 121.7,220.56 121.81,215.69 121.92,225.13 122.04,226.72 122.15,222.45 122.26,221.34 122.37,224.58 122.48,215.74 122.59,221.95 122.7,225.61 122.82,216.88 122.93,225.38 123.04,220.02 123.15,213.19 123.26,221.22 123.37,217.93 123.48,222.84 123.59,217.18 123.71,225.63 123.82,218.84 123.93,223 124.04,219.39 124.15,222.73 124.26,226.19 124.37,215.56 124.48,220.17 124.6,216.92 124.71,222.1 124.82,222.05 124.93,212.51 125.04,222.61 125.15,217.78 125.26,217.84 125.37,218.56 125.49,223.05 125.6,222.83 125.71,218.88 125.82,224.52 125.93,224.7 126.04,222.38 126.15,225.68 126.26,220.64 126.38,221.31 126.49,223.54 126.6,221.62 126.71,224.77 126.82,217 126.93,227.18 127.04,218.8 127.16,221.14 127.27,216.54 127.38,224.06 127.49,226.62 127.6,225.85 127.71,224.96 127.82,215.88 127.93,218.83 128.05,220.04 128.16,218.25 128.27,226.08 128.38,222.52 128.49,224.55 128.6,223.68 128.71,218.21 128.82,218.38 128.94,218.49 129.05,223.73 129.16,223.14 129.27,224.04 129.38,225.95 129.49,216.7 129.6,219.73 129.71,222.42 129.83,222.14 129.94,219.85 130.05,225.73 130.16,226.07 130.27,225.98 130.38,222.05 130.49,221.09 130.6,226 130.72,220.49 130.83,223.19 130.94,226.95 131.05,220.52 131.16,219.6 131.27,221.89 131.38,224.2 131.5,223.76 131.61,222.53 131.72,224.05 131.83,215.87 131.94,218.68 132.05,232.17 132.16,218.43 132.27,216.86 132.39,217.37 132.5,218.48 132.61,221.29 132.72,218.09 132.83,222.87 132.94,228.43 133.05,221.43 133.16,226.84 133.28,228.43 133.39,217.75 133.5,221.03 133.61,218.28 133.72,224.93 133.83,217.64 133.94,227.05 134.05,224.22 134.17,214.35 134.28,225.02 134.39,227.14 134.5,219.04 134.61,225.79 134.72,215.22 134.83,223.01 134.94,215.75 135.06,223.9 135.17,215.27 135.28,212.07 135.39,223.58 135.5,230.78 135.61,219.82 135.72,225.24 135.84,222.51 135.95,220.87 136.06,224.44 136.17,228.35 136.28,217.42 136.39,224.26 136.5,223.43 136.61,223.95 136.73,228.26 136.84,229.54 136.95,218.52 137.06,228.74 137.17,222.36 137.28,221.53 137.39,227.87 137.5,223.02 137.62,223.39 137.73,227.93 137.84,227.06 137.95,219.38 138.06,216.86 138.17,216.21 138.28,226.46 138.39,218.67 138.51,222.76 138.62,218.12 138.73,221.5 138.84,217.35 138.95,228.41 139.06,218.34 139.17,221.76 139.28,221.51 139.4,226.81 139.51,216.84 139.62,222.11 139.73,221.44 139.84,224.26 139.95,224.04 140.06,220.49 140.18,223.17 140.29,220.84 140.4,224.04 140.51,221.88 140.62,219.78 140.73,222.17 140.84,223.66 140.95,230.9 141.07,220.42 141.18,223.46 141.29,227.86 141.4,214.41 141.51,215.68 141.62,217.79 141.73,221.88 141.84,231.59 141.96,223.81 142.07,226.92 142.18,217.32 142.29,212.97 142.4,213.55 142.51,226.21 142.62,223.05 142.73,217.42 142.85,226.6 142.96,216.51 143.07,226.68 143.18,227.88 143.29,212.79 143.4,218.17 143.51,225.59 143.62,218.22 143.74,214.6 143.85,217.85 143.96,217.75 144.07,222.76 144.18,220.76 144.29,210.62 144.4,223.32 144.52,215.23 144.63,221.37 144.74,220.92 144.85,225.01 144.96,217.67 145.07,228.95 145.18,221.26 145.29,218.12 145.41,227.72 145.52,228.78 145.63,221.75 145.74,219.08 145.85,222.53 145.96,219.85 146.07,221.29 146.18,227.02 146.3,223.98 146.41,223.04 146.52,223.81 146.63,222.28 146.74,225.7 146.85,225.85 146.96,221.11 147.07,222.91 147.19,231.69 147.3,224.13 147.41,221.82 147.52,230.32 147.63,222.57 147.74,218.37 147.85,225.11 147.96,219.13 148.08,220.66 148.19,223.8 148.3,222.08 148.41,229.84 148.52,220.48 148.63,220.32 148.74,227.01 148.85,219.84 148.97,220.41 149.08,230.34 149.19,220.49 149.3,228.26 149.41,227.6 149.52,222.03 149.63,217.22 149.75,224.34 149.86,225.18 149.97,226.3 150.08,222.9 150.19,227.21 150.3,227.92 150.41,218.63 150.52,228.08 150.64,223.31 150.75,220.5 150.86,221.45 150.97,229.8 151.08,226.4 151.19,215.35 151.3,223.53 151.41,222.15 151.53,222.01 151.64,220.74 151.75,217.16 151.86,225.97 151.97,219.13 152.08,221.3 152.19,220.42 152.3,214.56 152.42,225.54 152.53,224.18 152.64,220.16 152.75,219.14 152.86,216.97 152.97,226.41 153.08,223.22 153.19,223.63 153.31,221.5 153.42,221.77 153.53,223.58 153.64,215.76 153.75,228.89 153.86,219.78 153.97,220.61 154.09,225.52 154.2,225.57 154.31,222.95 154.42,220.57 154.53,216.86 154.64,223.5 154.75,227.35 154.86,219.39 154.98,227.99 155.09,218.53 155.2,220.03 155.31,224.75 155.42,222.83 155.53,225.46 155.64,220.02 155.75,218.92 155.87,215.75 155.98,219.54 156.09,218.76 156.2,217.44 156.31,224.03 156.42,220.34 156.53,215.31 156.64,232.31 156.76,219.71 156.87,218.11 156.98,227.6 157.09,227.32 157.2,218.52 157.31,217.3 157.42,219.1 157.53,227.2 157.65,227.67 157.76,219.84 157.87,222.81 157.98,227.5 158.09,217.65 158.2,210.39 158.31,217.68 158.43,231.2 158.54,229.85 158.65,226.56 158.76,222.45 158.87,225.46 158.98,215.2 159.09,224.02 159.2,216.45 159.32,217.94 159.43,220.3 159.54,221.65 159.65,225.17 159.76,225.65 159.87,223.99 159.98,219.41 160.09,225.58 160.21,222.56 160.32,227.51 160.43,219.55 160.54,212.55 160.65,221.25 160.76,235.61 160.87,224.86 160.98,222.35 161.1,226.46 161.21,225.02 161.32,224.87 161.43,221.18 161.54,223.83 161.65,223.91 161.76,220.72 161.87,218.92 161.99,223.71 162.1,232.59 162.21,225.66 162.32,225.09 162.43,225.14 162.54,233.05 162.65,224.23 162.77,227.21 162.88,230.7 162.99,223.47 163.1,224.29 163.21,227.26 163.32,229.72 163.43,224.5 163.54,224.7 163.66,223.68 163.77,218.76 163.88,227.6 163.99,222.4 164.1,216.84 164.21,222.84 164.32,216.83 164.43,219.59 164.55,223.49 164.66,219.94 164.77,227.52 164.88,217.88 164.99,224.48 165.1,225.61 165.21,229.05 165.32,227.02 165.44,224.41 165.55,223.84 165.66,223.32 165.77,227.88 165.88,221.07 165.99,225.56 166.1,223.24 166.21,224.52 166.33,222.62 166.44,236.13 166.55,221.14 166.66,224.61 166.77,224.71 166.88,225.98 166.99,225.39 167.11,225.3 167.22,227.43 167.33,217.99 167.44,223.76 167.55,219.04 167.66,224.63 167.77,219.26 167.88,220.12 168,223.54 168.11,229.09 168.22,222.26 168.33,224.93 168.44,229.15 168.55,220.23 168.66,215.89 168.77,222.24 168.89,222.8 169,228.56 169.11,232.01 169.22,218.84 169.33,233.31 169.44,229.86 169.55,227.11 169.66,225.33 169.78,233.16 169.89,224.26 170,222.16 170.11,224.5 170.22,218.78 170.33,225.79 170.44,223.59 170.55,225.27 170.67,225.39 170.78,220.01 170.89,229.05 171,220.2 171.5,232 172.2,245 172.8,262 173.4,274 174,284 174.6,298.97 174.68,304.13 174.77,302.63 174.85,302.55 174.93,306.93 175.02,293.1 175.1,295.96 175.18,292.59 175.27,298.56 175.35,304.01 175.43,299.04 175.52,301.61 175.6,289.84 175.68,299.95 175.77,294.82 175.85,286.25 175.93,303.66 176.02,304 176.1,299.09 176.18,305.72 176.27,302.65 176.35,297.77 176.43,297.05 176.52,298.95 176.6,296.58 176.68,296.66 176.77,298.21 176.85,296.06 176.94,303.41 177.02,291.87 177.1,303.75 177.19,296.68 177.27,297.1 177.35,293.18 177.44,299.12 177.52,298.64 177.6,299.6 177.69,297.3 177.77,300.4 177.85,308.89 177.94,302 178.02,297.22 178.1,304.73 178.19,299.45 178.27,303.02 178.35,303.14 178.44,298.25 178.52,290.74 178.6,298.52 178.69,302.96 178.77,298.42 178.85,302.46 178.94,296.88 179.02,297.7 179.1,306.43 179.19,308.37 179.27,305.74 179.35,306.19 179.44,305.88 179.52,311.58 179.6,301.48 179.69,300.6 179.77,303.58 179.85,296.2 179.94,293.07 180.02,296.39 180.1,302.56 180.19,303.08 180.27,293.26 180.35,291.59 180.44,299.3 180.52,299.96 180.6,300.66 180.69,304.22 180.77,306.98 180.85,302.12 180.94,304.02 181.02,295.68 181.1,295.31 181.19,302.26 181.27,304.39 181.36,304.72 181.44,304.09 181.52,305.06 181.61,305.21 181.69,292.69 181.77,297.71 181.86,303.56 181.94,304.41 182.02,293.98 182.11,307.16 182.19,299.29 182.27,300.33 182.36,302.84 182.44,305.2 182.52,285.39 182.61,306.44 182.69,301.99 182.77,297.87 182.86,300.32 182.94,290.99 183.02,298.55 183.11,302.65 183.19,289.64 183.27,300.21 183.36,301.12 183.44,302.11 183.52,306.9 183.61,301.8 183.69,300.68 183.77,304.62 183.86,312.19 183.94,300.36 184.02,304.58 184.11,294.37 184.19,308.72 184.27,305.38 184.36,308.71 184.44,301.92 184.52,297.13 184.61,306.61 184.69,305.99 184.77,298.07 184.86,295.13 184.94,304.58 185.02,301.57 185.11,309.72 185.19,299.46 185.27,299.9 185.36,301.98 185.44,294.39 185.52,298.22 185.61,310.66 185.69,301.99 185.78,299.68 185.86,296.46 185.94,305.56 186.03,305.97 186.11,304.03 186.19,300.9 186.28,304.33 186.36,304.73 186.44,299.55 186.53,305.97 186.61,292.58 186.69,296.66 186.78,301.51 186.86,302.5 186.94,297.36 187.03,304.7 187.11,308.29 187.19,305.36 187.28,304.27 187.36,307.26 187.44,305.21 187.53,297.66 187.61,302.29 187.69,309.64 187.78,297.77 187.86,303.68 187.94,301.49 188.03,299.03 188.11,298.5 188.19,303.98 188.28,305.06 188.36,305.06 188.44,296.49 188.53,302.18 188.61,305.32 188.69,308.3 188.78,306.98 188.86,307.79 188.94,309.12 189.03,307.81 189.11,299.8 189.19,304.11 189.28,300.36 189.36,292.21 189.44,295.67 189.53,314.18 189.61,298.49 189.69,293.01 189.78,301.16 189.86,311.5 189.94,303.86 190.03,306.11 190.11,302.81 190.2,303.76 190.28,319.84 190.36,308.12 190.45,303.83 190.53,308.65 190.61,309.57 190.7,303.26 190.78,305.69 190.86,305.64 190.95,301.15 191.03,310.09 191.11,303.66 191.2,301.47 191.28,296.32 191.36,298.36 191.45,312.07 191.53,299.03 191.61,306.75 191.7,302.88 191.78,307.21 191.86,307.68 191.95,300.96 192.03,314.1 192.11,305.31 192.2,305.41 192.28,304.74 192.36,303.37 192.45,308.02 192.53,311.41 192.61,307.64 192.7,301.39 192.78,304.77 192.86,305.37 192.95,307.36 193.03,314.17 193.11,304.11 193.2,305.13 193.28,300.87 193.36,303.83 193.45,302.48 193.53,313.14 193.61,306.82 193.7,302.55 193.78,314.84 193.86,298.91 193.95,309.66 194.03,310.45 194.11,308.31 194.2,304.25 194.28,304.92 194.37,303.9 194.45,309.46 194.53,294.23 194.62,303.16 194.7,306.44 194.78,302.88 194.87,296.85 194.95,304.59 195.03,302.11 195.12,309.76 195.2,312.71 195.28,306.24 195.37,296.45 195.45,304.99 195.53,301.45 195.62,309.35 195.7,314.33 195.78,307.62 195.87,316.07 195.95,313.54 196.03,309.56 196.12,301.96 196.2,307.23 196.28,299.67 196.37,311.9 196.45,307.46 196.53,313.67 196.62,308.41 196.7,297.54 196.78,310.27 196.87,311.7 196.95,315.33 197.03,302.45 197.12,302.72 197.2,307.59 197.28,302.12 197.37,300.57 197.45,295.38 197.53,320.04 197.62,304.24 197.7,302.35 197.78,305.12 197.87,307.33 197.95,313.65 198.03,311.98 198.12,311.23 198.2,307.61 198.28,313.33 198.37,304.32 198.45,300.09 198.53,317.48 198.62,305.28 198.7,312.51 198.79,306.02 198.87,307.15 198.95,306.86 199.04,300.89 199.12,307.28 199.2,309.56 199.29,311.78 199.37,310.16 199.45,312.76 199.54,309.23 199.62,307.78 199.7,298.2 199.79,305.23 199.87,315.49 199.95,308.5 200.04,311.83 200.12,306.91 200.2,304.67 200.29,318.03 200.37,309.78 200.45,315.37 200.54,310.67 200.62,306.65 200.7,297.12 200.79,308.59 200.87,300.49 200.95,297.3 201.04,314.29 201.12,311.78 201.2,311.41 201.29,308.53 201.37,308.13 201.45,310.41 201.54,309.12 201.62,308.73 201.7,312.03 201.79,296.37 201.87,312.82 201.95,305.36 202.04,312.67 202.12,314.26 202.2,304.37 202.29,312.41 202.37,312.35 202.45,305.02 202.54,305.86 202.62,309.01 202.7,297.52 202.79,300.24 202.87,309.36 202.95,306.27 203.04,300.63 203.12,306.58 203.21,315.95 203.29,315.04 203.37,307.97 203.46,304.63 203.54,308.52 203.62,308.69 203.71,305.32 203.79,307.02 203.87,315.08 203.96,313.29 204.04,296.77 204.12,313.55 204.21,309.45 204.29,314.45 204.37,308.74 204.46,311.02 204.54,316.93 204.62,294.34 204.71,316.73 204.79,309.89 204.87,300.04 204.96,295.93 205.04,310.56 205.12,304.01 205.21,314 205.29,310.16 205.37,308.47 205.46,314.03 205.54,310.12 205.62,312.84 205.71,313.3 205.79,310.83 205.87,313.14 205.96,313.16 206.04,325.28 206.12,308.01 206.21,308.78 206.29,307.54 206.37,301.63 206.46,306.66 206.54,311.13 206.62,310.44 206.71,316.99 206.79,306.57 206.87,307.45 206.96,306.78 207.04,308.07 207.12,306.68 207.21,300.5 207.29,311.38 207.37,314.56 207.46,315.23 207.54,304.44 207.63,308.84 207.71,318.88 207.79,309.31 207.88,311.57 207.96,301.28 208.04,314.85 208.13,314.69 208.21,321.37 208.29,312.44 208.38,312.22 208.46,304.1 208.54,308.06 208.63,306.65 208.71,308.5 208.79,303.71 208.88,316.13 208.96,300.64 209.04,311.55 209.13,304.06 209.21,311.96 209.29,318.41 209.38,306.3 209.46,312.13 209.54,310.04 209.63,311.78 209.71,312.48 209.79,307.32 209.88,309.58 209.96,307.6 210.04,306.47 210.13,304.52 210.21,315.29 210.29,306.97 210.38,308.81 210.46,313.36 210.54,305.77 210.63,315.83 210.71,306.5 210.79,313.82 210.88,317.91 210.96,307.28 211.04,306.26 211.13,306.22 211.21,322.12 211.29,309.05 211.38,304.71 211.46,314.93 211.54,310.09 211.63,310.81 211.71,306.11 211.79,300.11 211.88,307.45 211.96,305.93 212.05,303.13 212.13,305.77 212.21,306.47 212.3,315.08 212.38,314.62 212.46,313.72 212.55,308.59 212.63,305.07 212.71,312.72 212.8,313.54 212.88,316.22 212.96,311.2 213.05,310.73 213.13,312.9 213.21,306.87 213.3,307.49 213.38,314.61 213.46,305.31 213.55,311.12 213.63,315.37 213.71,312.73 213.8,313.71 213.88,306.19 213.96,311.05 214.05,310.36 214.13,314.68 214.21,313.81 214.3,311.94 214.38,321.14 214.46,314.53 214.55,310.5 214.63,308.93 214.71,311.79 214.8,309.2 214.88,320.05 214.96,314.85 215.05,310.58 215.13,308.92 215.21,306.9 215.3,310.84 215.38,318.65 215.46,316.37 215.55,312.01 215.63,313 215.71,303.21 215.8,316.57 215.88,311.32 215.96,319.17 216.05,311.58 216.13,310.12 216.21,313.57 216.3,309.43 216.38,319.16 216.47,314.02 216.55,314.45 216.63,314.32 216.72,310.99 216.8,328.71 216.88,313.63 216.97,321.42 217.05,313.15 217.13,314.72 217.22,310.68 217.3,311.14 217.38,311.51 217.47,317.64 217.55,312.35 217.63,317.92 217.72,311.92 217.8,311.46 217.88,303.84 217.97,309.82 218.05,323.45 218.13,312.26 218.22,320.45 218.3,317.61 218.38,310.12 218.47,317.25 218.55,309.14 218.63,312.1 218.72,319.58 218.8,314.41 218.88,299.46 218.97,320.6 219.05,308.32 219.13,312.94 219.22,312.06 219.3,312.99 219.38,309.64 219.47,305.82 219.55,322.94 219.63,309.24 219.72,309.57 219.8,301.98 219.88,314.38 219.97,320.29 220.05,320.85 220.13,329.71 220.22,321.4 220.3,316.09 220.38,314.25 220.47,321.18 220.55,329.84 220.63,315.18 220.72,309.54 220.8,314.75 220.89,323.95 220.97,313.96 221.05,316.28 221.14,302.52 221.22,320.97 221.3,316.22 221.39,321.32 221.47,315.61 221.55,310.26 221.64,307.77 221.72,308.23 221.8,314.31 221.89,309.66 221.97,314.11 222.05,311.31 222.14,317.93 222.22,312.4 222.3,308.41 222.39,313.97 222.47,322.09 222.55,321.6 222.64,312.1 222.72,307.92 222.8,314.08 222.89,313.1 222.97,315.66 223.05,315.39 223.14,309.29 223.22,314.08 223.3,313.83 223.39,308.48 223.47,311.56 223.55,315.35 223.64,306.57 223.72,309.06 223.8,312.08 223.89,313.91 223.97,316.87 224.05,307.72 224.14,315.83 224.22,317.44 224.3,321.96 224.39,312.36 224.47,309.95 224.55,306.95 224.64,317.18 224.72,320.81 224.8,311.17 224.89,316.75 224.97,318.85 225.06,319.37 225.14,312.8 225.22,317.98 225.31,314.67 225.39,310.35 225.47,316.34 225.56,316.88 225.64,310.47 225.72,317.4 225.81,325.04 225.89,307.99 225.97,318.8 226.06,319.87 226.14,315.68 226.22,317.06 226.31,314.19 226.39,322.13 226.47,310.9 226.56,314.83 226.64,306.01 226.72,317.09 226.81,317.34 226.89,307.32 226.97,311.25 227.06,317.85 227.14,313.12 227.22,309.6 227.31,303.28 227.39,317.39 227.47,331.17 227.56,313.3 227.64,317.68 227.72,317.62 227.81,315.18 227.89,316.08 227.97,316.2 228.06,311.39 228.14,327.92 228.22,329.03 228.31,317.26 228.39,324.52 228.47,311.77 228.56,314.7 228.64,321.39 228.72,310.22 228.81,309.51 228.89,317.6 228.97,306.26 229.06,324.44 229.14,319.71 229.22,317.29 229.31,319.43 229.39,311.74 229.48,311.62 229.56,320.36 229.64,320.91 229.73,317.06 229.81,316.16 229.89,313.79 229.98,323.29 230.06,309.21 230.14,312.31 230.23,313.9 230.31,309.07 230.39,310.08 230.48,311.56 230.56,321.6 230.64,325.51 230.73,318.4 230.81,308.77 230.89,313.76 230.98,316.09 231.06,315.46 231.14,314.99 231.23,319.36 231.31,307.33 231.39,314.05 231.48,317.96 231.56,320.44 231.64,318.37 231.73,317.09 231.81,316.36 231.89,313.8 231.98,317.54 232.06,316.14 232.14,313.72 232.23,323.11 232.31,323.06 232.39,315.46 232.48,320.34 232.56,323.21 232.64,318.68 232.73,318.03 232.81,319.86 232.89,309.39 232.98,312.7 233.06,320.08 233.14,318.9 233.23,324.27 233.31,315.17 233.39,323.01 233.48,322.84 233.56,327.33 233.64,313.78 233.73,321.6 233.81,319.11 233.9,319.08 233.98,312.92 234.06,315.05 234.15,311.48 234.23,329.18 234.31,317.58 234.4,317.88 234.48,314.94 234.56,318.1 234.65,321.85 234.73,316.39 234.81,317.89 234.9,328.69 234.98,322.6 235.06,319.26 235.15,316.06 235.23,318.04 235.31,310.5 235.4,319.51 235.48,314.91 235.56,314.65 235.65,316.21 235.73,312.97 235.81,316.12 235.9,330.54 235.98,315.17 236.06,310.1 236.15,322.91 236.23,317.71 236.31,327.9 236.4,320.08 236.48,322.77 236.56,309.87 236.65,310.42 236.73,317.32 236.81,321.48 236.9,314.01 236.98,310.44 237.06,315.32 237.15,316.06 237.23,323.13 237.31,318.07 237.4,329.94 237.48,318.39 237.56,330.42 237.65,312.97 237.73,322.19 237.81,310.56 237.9,325.38 237.98,318.29 238.06,310.99 238.15,319.26 238.23,317.81 238.32,324.38 238.4,311.08 238.48,319.41 238.57,318.36 238.65,322.95 238.73,312.93 238.82,314.69 238.9,328.13 238.98,321.26 239.07,311.34 239.15,320.16 239.23,314.75 239.32,315.25 239.4,312.68 239.48,323.46 239.57,316.05 239.65,319.67 239.73,319.09 239.82,311.32 239.9,315.13 239.98,322.53 240.07,311.14 240.15,320.04 240.23,318.34 240.32,322.03 240.4,322.25 240.48,322.95 240.57,319.24 240.65,320.24 240.73,315.56 240.82,316.39 240.9,323.46 240.98,316.17 241.07,324.12 241.15,324.02 241.23,316 241.32,321.93 241.4,315.25 241.48,320.91 241.57,315.47 241.65,320.94 241.73,320.15 241.82,314.26 241.9,329.4 241.98,324.11 242.07,311.62 242.15,321.17 242.23,317.41 242.32,329.54 242.4,319.27 242.48,321.51 242.57,318.73 242.65,322.73 242.74,317.05 242.82,315.3 242.9,317.29 242.99,317.68 243.07,322.84 243.15,320.23 243.24,317.65 243.32,317.86 243.4,315.4 243.49,320.53 243.57,309.99 243.65,318.86 243.74,325.77 243.82,318.23 243.9,304.04 243.99,320.26 244.07,315.52 244.15,316.39 244.24,323.46 244.32,317.04 244.4,329.74 244.49,322.83 244.57,319.71 244.65,317.21 244.74,309.27 244.82,309.19 244.9,321.5 244.99,324.68 245.07,323.15 245.15,319.87 245.24,323.41 245.32,323.55 245.4,319.81 245.49,322.18 245.57,325.57 245.65,332.5 245.74,318.69 245.82,320.62 245.9,321.33 245.99,312.77 246.07,321.27 246.15,320.03 246.24,310.08 246.32,312.22 246.4,329.53 246.49,321.26 246.57,327.36 246.65,318.97 246.74,328.33 246.82,323.64 246.9,317.53 246.99,322.27 247.07,328.6 247.16,332.66 247.24,323.52 247.32,318.84 247.41,316.82 247.49,324.44 247.57,326.46 247.66,321.84 247.74,320.65 247.82,325.21 247.91,323.63 247.99,323.2 248.07,313.82 248.16,319.71 248.24,330.6 248.32,321.3 248.41,333.29 248.49,323.32 248.57,320.06 248.66,305.31 248.74,324.46 248.82,318 248.91,322.75 248.99,319.54 249.07,328.72 249.16,319.4 249.24,322.23 249.32,314.31 249.41,315 249.49,321.26 249.57,322.15 249.66,320.31 249.74,322.92 249.82,324.53 249.91,314.92 249.99,320.92 250.07,325.1 250.16,318.57 250.24,315.52 250.32,318.53 250.41,329.9 250.49,322.06 250.57,329.62 250.66,320.51 250.74,327.86 250.82,312.73 250.91,320.84 250.99,322.53 251.07,330.74 251.16,324.45 251.24,327.65 251.32,320.14 251.41,320.18 251.49,331.25 251.58,329.26 251.66,328.31 251.74,328.2 251.83,319.78 251.91,332.93 251.99,323.23 252.08,328.65 252.16,326.12 252.24,313.87 252.33,312.96 252.41,314.66 252.49,322.29 252.58,328.03 252.66,321.36 252.74,326.73 252.83,316.57 252.91,319.59 252.99,318.25 253.08,322.84 253.16,317.06 253.24,322.22 253.33,325.65 253.41,320.51 253.49,318.41 253.58,320.59 253.66,316.85 253.74,317.78 253.83,326.81 253.91,324.56 253.99,315.86 254.08,321.56 254.16,325.19 254.24,326.92 254.33,326.15 254.41,327.84 254.49,322.87 254.58,323 254.66,321.9 254.74,328.52 254.83,327.36 254.91,331.92 254.99,328.7 255.08,319.24 255.16,316 255.24,316.44 255.33,318.89 255.41,326.32 255.49,316.44 255.58,313.39 255.66,322.46 255.74,327.34 255.83,327.2 255.91,331.59 256,323.23 256.08,320.67 256.16,321.93 256.25,316.88 256.33,320.15 256.41,329.77 256.5,333.79 256.58,329.74 256.66,324.97 256.75,322.34 256.83,324.75 256.91,314.29 257,326.41 257.08,327.45 257.16,322.96 257.25,321.08 257.33,315.32 257.41,327.53 257.5,327.56 257.58,310.12 257.66,320.87 257.75,325.45 257.83,331.97 257.91,319.55 258,323.62 258.08,331.06 258.16,326.2 258.25,322.81 258.33,321.73 258.41,324.1 258.5,320.06 258.58,328.99 258.66,319.78 258.75,326.87 258.83,328.73 258.91,330.14 259,324.88 259.08,324.47 259.16,326.11 259.25,324.98 259.33,330 259.41,324.15 259.5,334.18 259.58,338.49 259.66,321.59 259.75,326.79 259.83,319.13 259.91,328.53 260,326.89 260.08,323.81 260.17,319.74 260.25,325.03 260.33,334.8 260.42,332.83 260.5,326.84 260.58,321.93 260.67,324.85 260.75,321.05 260.83,318.35 260.92,320.33 261,328.02 261.08,326.54 261.17,325.92 261.25,319.63 261.33,318.13 261.42,330.07 261.5,323.34 261.58,330.97 261.67,318.4 261.75,329.98 261.83,326.38 261.92,323.08 262,323.12 262.08,334.71 262.17,329.86 262.25,324.01 262.33,326.16 262.42,317.71 262.5,333.85 262.58,332.28 262.67,323.43 262.75,327.7 262.83,311.86 262.92,330.29 263,327.84 263.08,326.82 263.17,329.62 263.25,327.04 263.33,320.77 263.42,322.14 263.5,324.67 263.58,330.02 263.67,325.7 263.75,322.29 263.83,327.37 263.92,319.55 264,335.88 264.08,327.15 264.17,320.82 264.25,326.51 264.33,331.03 264.42,328.41 264.5,335.8 264.59,315.34 264.67,333.65 264.75,325.7 264.84,330.21 264.92,334.34 265,320 265.09,318.96 265.17,324.04 265.25,309.82 265.34,316.07 265.42,334.18 265.5,331.79 265.59,323.73 265.67,328.59 265.75,342.3 265.84,327.82 265.92,324.69 266,325.42 266.09,328.37 266.17,324.87 266.25,329.71 266.34,325.58 266.42,330.89 266.5,327.13 266.59,326.02 266.67,321.86 266.75,319.65 266.84,325.09 266.92,324.6 267,327.93 267.09,326.19 267.17,324.67 267.25,337.76 267.34,328.21 267.42,332.65 267.5,321.64 267.59,331.68 267.67,332.52 267.75,328.98 267.84,322.41 267.92,333 268,323.27 268.09,319.18 268.17,318.88 268.25,327.21 268.34,324.49 268.42,330.9 268.5,330.26 268.59,333.74 268.67,328.67 268.75,332.3 268.84,327.09 268.92,323.19 269.01,313.16 269.09,323.52 269.17,328.28 269.26,322.98 269.34,326.74 269.42,332.52 269.51,315.43 269.59,322.9 269.67,322.34 269.76,327.18 269.84,319.89 269.92,323.95 270.01,338.55 270.09,320.54 270.17,326.85 270.26,329.35 270.34,325.85 270.42,321.41 270.51,332.26 270.59,317.93 270.67,322.6 270.76,326.25 270.84,324.27 270.92,333.15 271.01,325.81 271.09,336.75 271.17,333.7 271.26,334.95 271.34,329.44 271.42,326.13 271.51,325.94 271.59,332.42 271.67,324.7 271.76,327.21 271.84,323.49 271.92,317.36 272.01,330.11 272.09,330.6 272.17,321.54 272.26,329.84 272.34,326.33 272.42,318.17 272.51,322.94 272.59,330.88 272.67,332.74 272.76,329.61 272.84,341.46 272.92,329.48 273.01,324.09 273.09,320.56 273.17,335.22 273.26,325.57 273.34,320.08 273.43,323.92 273.51,323.98 273.59,326.25 273.68,330.37 273.76,318.58 273.84,329.91 273.93,332.9 274.01,325.87 274.09,323.28 274.18,328.09 274.26,318.25 274.34,332.65 274.43,331 274.51,331.14 274.59,323.2 274.68,326.14 274.76,328.71 274.84,328.58 274.93,323.28 275.01,327.64 275.09,329.43 275.18,319.6 275.26,333.82 275.34,339.7 275.43,331.65 275.51,327.93 275.59,327.27 275.68,336.82 275.76,329.99 275.84,331.94 275.93,330.07 276.01,326.19 276.09,336.48 276.18,327.85 276.26,329.82 276.34,318.52 276.43,339.78 276.51,332.85 276.59,328.68 276.68,325.27 276.76,326.17 276.84,313.88 276.93,331.54 277.01,324.96 277.09,331.38 277.18,331.54 277.26,338.79 277.34,330.99 277.43,330.86 277.51,331.91 277.59,326.41 277.68,328.3 277.76,331.14 277.85,335.29 277.93,333.3 278.01,328.35 278.1,335.72 278.18,327.9 278.26,322.29 278.35,337.54 278.43,329.98 278.51,327.67 278.6,324.04 278.68,327.86 278.76,338.36 278.85,329.82 278.93,341.09 279.01,339.32 279.1,335.82 279.18,330.45 279.26,328.07 279.35,328.24 279.43,329.06 279.51,324.45 279.6,324.33 279.68,332.24 279.76,336.63 279.85,320.56 279.93,330.8 280.01,326.1 280.1,336.19 280.18,335.82 280.26,327.02 280.35,331.05 280.43,329.09 280.51,323.4 280.6,338.71 280.68,336.64 280.76,332.41 280.85,337.12 280.93,326.54 281.01,332.28 281.1,337.59 281.18,329.52 281.26,332.49 281.35,326.25 281.43,334.23 281.51,336.76 281.6,326.25 281.68,327.18 281.76,330.73 281.85,337.97 281.93,328.58 282.01,327 282.1,330.58 282.18,336.72 282.27,323.6 282.35,330.3 282.43,337.59 282.52,331.01 282.6,314.73 282.68,335.39 282.77,325.26 282.85,341.31 282.93,333.58 283.02,329.35 283.1,331.65 283.18,330.93 283.27,329.83 283.35,325.24 283.43,330.05 283.52,322.82 283.6,338.04 283.68,325.75 283.77,327.68 283.85,327.39 283.93,334.85 284.02,330.35 284.1,338.39 284.18,329.12 284.27,332.12 284.35,331.08 284.43,324.82 284.52,336.93 284.6,337.51 284.68,337.94 284.77,324.73 284.85,333.25 284.93,326.05 285.02,325.93 285.1,322.76 285.18,327 285.27,334.59 285.35,338.51 285.43,340.22 285.52,327.28 285.6,328.69 285.68,332.92 285.77,332.52 285.85,332.89 285.93,323.24 286.02,330.93 286.1,334.74 286.18,333.21 286.27,331.35 286.35,328.4 286.43,331.52 286.52,339.84 286.6,334.49 286.69,337.21 286.77,340.21 286.85,326.75 286.94,335.39 287.02,334.39 287.1,338.64 287.19,330.97 287.27,331.1 287.35,328.96 287.44,333.09 287.52,324.89 287.6,331.46 287.69,333.86 287.77,330.39 287.85,327.71 287.94,330.27 288.02,329.61 288.1,334.41 288.19,338.44 288.27,330.68 288.35,320.38 288.44,335.26 288.52,320.29 288.6,327.82 288.69,331.22 288.77,341.58 288.85,325.18 288.94,326.81 289.02,332.23 289.1,331.14 289.19,330.31 289.27,337.36 289.35,325.39 289.44,334.46 289.52,328.55 289.6,331.89 289.69,346.14 289.77,333.88 289.85,339.36 289.94,326.63 290.02,334.01 290.1,334.6 290.19,333.59 290.27,322.22 290.35,330.81 290.44,340.03 290.52,335.62 290.6,330.82 290.69,337.23 290.77,323.76 290.86,335.83 290.94,334.68 291.02,329.99 291.11,328.02 291.19,324.88 291.27,331.96 291.36,341.55 291.44,337.31 291.52,335.1 291.61,337.64 291.69,330.22 291.77,335.73 291.86,318.87 291.94,330.76 292.02,330.81 292.11,332.84 292.19,326.44 292.27,336.08 292.36,330.15 292.44,337.74 292.52,332 292.61,337.51 292.69,333.82 292.77,337.42 292.86,335.53 292.94,330.32 293.02,334.2 293.11,326.91 293.19,333.55 293.27,335.18 293.36,331.98 293.44,332.54 293.52,338.17 293.61,339.28 293.69,340.35 293.77,330.62 293.86,331.34 293.94,337.33 294.02,337.83 294.11,324.56 294.19,343.18 294.27,339.19 294.36,327.45 294.44,339.24 294.52,331.56 294.61,333.04 294.69,328.85 294.77,332.58 294.86,331.83 294.94,334.18 295.02,328.33 295.11,333.45 295.19,330.33 295.28,331.24 295.36,329.5 295.44,330.79 295.53,341.72 295.61,325.97 295.69,327.47 295.78,333.58 295.86,331.49 295.94,328.8 296.03,335.95 296.11,328.24 296.19,333.96 296.28,338.66 296.36,336.78 296.44,332.62 296.53,334.07 296.61,334.91 296.69,337.03 296.78,329.42 296.86,340.32 296.94,337.81 297.03,343.27 297.11,338.28 297.19,330.09 297.28,319.74 297.36,327.25 297.44,343.35 297.53,336.13 297.61,332.03 297.69,337.68 297.78,334.73 297.86,336.28 297.94,330.8 298.03,336.93 298.11,341.81 298.19,335.57 298.28,336.58 298.36,330.99 298.44,336.81 298.53,332.45 298.61,327.81 298.69,332.43 298.78,333.34 298.86,337.25 298.94,339.19 299.03,333.55 299.11,332.78 299.19,337.69 299.28,330.15 299.36,332.94 299.44,333.44 299.53,333.81 299.61,331.71 299.7,342.64 299.78,339.37 299.86,333.86 299.95,327.66 300.03,332.25 300.11,337.64 300.2,325.19 300.28,348.98 300.36,333.53 300.45,334.56 300.53,337.95 300.61,327.85 300.7,331.33 300.78,326.28 300.86,338.4 300.95,329.97 301.03,338.02 301.11,340.81 301.2,336.44 301.28,332.34 301.36,330.85 301.45,326.32 301.53,332.24 301.61,337.55 301.7,342.46 301.78,329.94 301.86,341.02 301.95,332.83 302.03,333.05 302.11,327.65 302.2,331.9 302.28,329.66 302.36,334.01 302.45,351.66 302.53,334.69 302.61,333.67 302.7,338.69 302.78,342.76 302.86,340.65 302.95,327.03 303.03,343.95 303.11,333.24 303.2,328.34 303.28,333.68 303.36,340.37 303.45,322.41 303.53,341.92 303.61,336.59 303.7,338.29 303.78,328.82 303.86,332.85 303.95,330 304.03,341.38 304.12,331.8 304.2,337.48 304.28,332.41 304.37,327.5 304.45,352.06 304.53,341.55 304.62,338.22 304.7,333 304.78,335.98 304.87,339.17 304.95,337.41 305.03,336.84 305.12,347.3 305.2,333.77 305.28,340.2 305.37,333.24 305.45,342.86 305.53,334.62 305.62,331.08 305.7,339.64 305.78,336.21 305.87,334.1 305.95,334.9 306.03,332.97 306.12,338.58 306.2,337.67 306.28,344.25 306.37,332.74 306.45,343.14 306.53,338.84 306.62,329.19 306.7,343.54 306.78,327.45 306.87,338.7 306.95,327.06 307.03,337.59 307.12,334.44 307.2,334.96 307.28,326.9 307.37,332.58 307.45,342.21 307.53,339.5 307.62,336.14 307.7,335.87 307.78,333.35 307.87,343.72 307.95,336.46 308.03,342.03 308.12,329.39 308.2,329.1 308.28,343.49 308.37,332.48 308.45,335.88 308.54,339.23 308.62,341.46 308.7,340.07 308.79,338.8 308.87,345.01 308.95,338.3 309.04,341.53 309.12,325.54 309.2,337.89 309.29,346.48 309.37,335.87 309.45,324.64 309.54,337.54 309.62,338.11 309.7,346.23 309.79,335.34 309.87,331.5 309.95,337.82 310.04,346.35 310.12,335.52 310.2,343.5 310.29,339.71 310.37,340.43 310.45,333.08 310.54,337.57 310.62,333.21 310.7,337.24 310.79,333.74 310.87,342.66 310.95,334.55 311.04,336.01 311.12,326.12 311.2,332.26 311.29,349.22 311.37,335.18 311.45,329.15 311.54,337.04 311.62,340.94 311.7,334.62 311.79,335.65 311.87,334.81 311.95,341.77 312.04,342.9 312.12,338.25 312.2,341.36 312.29,332.8 312.37,348.43 312.45,337.53 312.54,336.76 312.62,334.52 312.7,341.18 312.79,329.42 312.87,340.2 312.96,348.3 313.04,339.1 313.12,341.59 313.21,332.96 313.29,341.42 313.37,333.77 313.46,335.44 313.54,337.67 313.62,347.15 313.71,334.82 313.79,328.14 313.87,338.43 313.96,341.67 314.04,341.13 314.12,339.03 314.21,344.73 314.29,342.37 314.37,321.7 314.46,335.96 314.54,330.86 314.62,346.11 314.71,333.85 314.79,344.54 314.87,344.03 314.96,332.45 315.04,335.07 315.12,340.37 315.21,343.12 315.29,333.6 315.37,336.91 315.46,333.27 315.54,332.36 315.62,338.84 315.71,336.02 315.79,328.35 315.87,340.39 315.96,336.48 316.04,336.44 316.12,331.83 316.21,341.98 316.29,339.94 316.37,339.93 316.46,338.13 316.54,340.23 316.62,346.35 316.71,339.4 316.79,339.69 316.87,336.3 316.96,348.24 317.04,337.39 317.12,335.01 317.21,345.38 317.29,337.81 317.38,334.35 317.46,335.16 317.54,336.08 317.63,333.35 317.71,345.86 317.79,341.65 317.88,332.01 317.96,344.57 318.04,336.95 318.13,340.09 318.21,336.92 318.29,340.89 318.38,340.74 318.46,342.62 318.54,342.95 318.63,326.17 318.71,336.31 318.79,338.61 318.88,337.69 318.96,331.51 319.04,336.8 319.13,337.7 319.21,328.52 319.29,334.3 319.38,332.86 319.46,334.84 319.54,337.63 319.63,338.52 319.71,341.02 319.79,342.16 319.88,343.8 319.96,339.24 320.04,339.7 320.13,338.07 320.21,339.78 320.29,338.26 320.38,342.55 320.46,342.36 320.54,332.14 320.63,327.76 320.71,341.07 320.79,336.37 320.88,331.34 320.96,343.66 321.04,346.39 321.13,333.37 321.21,334.33 321.29,335.64 321.38,338.83 321.46,338.39 321.54,333.45 321.63,338.9 321.71,337.02 321.8,344.15 321.88,338.51 321.96,343.4 322.05,346.42 322.13,341.62 322.21,355.54 322.3,336.68 322.38,339.14 322.46,350.35 322.55,345.88 322.63,339.33 322.71,337.18 322.8,338.4 322.88,344.54 322.96,329.06 323.05,340.41 323.13,332.69 323.21,346.22 323.3,332.16 323.38,343.74 323.46,337.81 323.55,326.24 323.63,347.44 323.71,339.26 323.8,342.68 323.88,341.24 323.96,333.64 324.05,339.17 324.13,344.22 324.21,341.14 324.3,340.42 324.38,335.93 324.46,347.14 324.55,339.32 324.63,348.4 324.71,340.49 324.8,343.06 324.88,332.6 324.96,340.16 325.05,334.94 325.13,340.06 325.21,345.64 325.3,341.46 325.38,340.97 325.46,344.56 325.55,333.87 325.63,340.34 325.71,336.83 325.8,345.31 325.88,336.41 325.97,347.93 326.05,350.03 326.13,329.53 326.22,339.25 326.3,332.17 326.38,351.75 326.47,335.79 326.55,343.23 326.63,341.69 326.72,335.54 326.8,332.63 326.88,345.71 326.97,337.22 327.05,341.54 327.13,347.28 327.22,340.1 327.3,338.76 327.38,335.21 327.47,342.59 327.55,336.24 327.63,331.96 327.72,337.42 327.8,337.22 327.88,332.28 327.97,339.14 328.05,344.39 328.13,343.21 328.22,350.43 328.3,346.03 328.38,341.72 328.47,330.36 328.55,341.59 328.63,346.55 328.72,339.17 328.8,347.66 328.88,335.99 328.97,341.9 329.05,344.74 329.13,349.07 329.22,340.4 329.3,350.41 329.38,338.9 329.47,331.75 329.55,340.14 329.63,347.6 329.72,339.03 329.8,348.96 329.88,339.72 329.97,350.26 330.05,329.71 330.13,352.26 330.22,330.53 330.3,340.49 330.39,334.84 330.47,342.41 330.55,339.73 330.64,339.33 330.72,344.04 330.8,356.97 330.89,339.21 330.97,347.11 331.05,332.16 331.14,335.54 331.22,334.02 331.3,343.35 331.39,345.54 331.47,338.79 331.55,337.72 331.64,334.91 331.72,344.4 331.8,346.75 331.89,338.18 331.97,340.09 332.05,338.97 332.14,340.9 332.22,343.37 332.3,329.84 332.39,338.34 332.47,345.2 332.55,336.5 332.64,347.54 332.72,348.3 332.8,336.38 332.89,337.17 332.97,347.86 333.05,330.54 333.14,343.71 333.22,333 333.3,341.39 333.39,345.29 333.47,329.76 333.55,342.72 333.64,334.21 333.72,347.29 333.8,341.02 333.89,339.34 333.97,350.06 334.05,341.99 334.14,343.16 334.22,345.64 334.3,351.62 334.39,341.34 334.47,344.92 334.55,329.59 334.64,336.48 334.72,351.9 334.81,351.57 334.89,340.7 334.97,336.94 335.06,334.55 335.14,335.4 335.22,338.58 335.31,332.75 335.39,340.97 335.47,340.68 335.56,335.28 335.64,334.95 335.72,335.62 335.81,339.1 335.89,340.48 335.97,344.49 336.06,332.74 336.14,339.86 336.22,341.81 336.31,343.29 336.39,346 336.47,339.63 336.56,347.99 336.64,353.35 336.72,344.01 336.81,349.67 336.89,346.78 336.97,344.14 337.06,340.82 337.14,343.23 337.22,352.34 337.31,342.36 337.39,338.1 337.47,339.52 337.56,345.99 337.64,338.86 337.72,346.72 337.81,345.83 337.89,343.32 337.97,350.56 338.06,335.6 338.14,339.43 338.22,341.34 338.31,344.21 338.39,335.42 338.47,338.78 338.56,348.8 338.64,340.22 338.72,346.88 338.81,341.03 338.89,338.42 338.97,344.81 339.06,348.81 339.14,341.97 339.23,335.6 339.31,338.28 339.39,339.94 339.48,340.88 339.56,337.46 339.64,345.68 339.73,336.86 339.81,347.18 339.89,336.91 339.98,337.32 340.06,347.93 340.14,345.85 340.23,340.56 340.31,339.26 340.39,341.15 340.48,342.54 340.56,343.58 340.64,347.61 340.73,336.41 340.81,337.56 340.89,342.71 340.98,335.51 341.06,348.28 341.14,350.86 341.23,342.4 341.31,333.6 341.39,338.33 341.48,347.15 341.56,332.2 341.64,332.37 341.73,339.85 341.81,344.77 341.89,346.6 341.98,347.54 342.06,330.53 342.14,339.49 342.23,337.56 342.31,337.51 342.39,346.36 342.48,344.59 342.56,338.79 342.64,343.65 342.73,343.59 342.81,348.94 342.89,340.39 342.98,345.75 343.06,339.04 343.14,344.87 343.23,342.51 343.31,345.33 343.39,347.69 343.48,350.31 343.56,339.39 343.65,338.3 343.73,340.21 343.81,345.3 343.9,346.58 343.98,342.85 344.06,339.89 344.15,341.19 344.23,339.85 344.31,345.7 344.4,343.22 344.48,351.97 344.56,343.65 344.65,343.72 344.73,348.95 344.81,341.04 344.9,345.43 344.98,345.61 345.06,339.89 345.15,351.3 345.23,344.5 345.31,337.9 345.4,348.01 345.48,346.11 345.56,346.79 345.65,342.4 345.73,341.69 345.81,344.15 345.9,336.87 345.98,344.21 346.06,343.77 346.15,347.73 346.23,342.42 346.31,346.35 346.4,336.63 346.48,339.8 346.56,347.21 346.65,337.56 346.73,347.76 346.81,336.31 346.9,338.54 346.98,340.55 347.06,349.45 347.15,340.61 347.23,344.66 347.31,345.77 347.4,345.77 347.48,342.88 347.56,345.17 347.65,347.67 347.73,344.42 347.81,343.42 347.9,347.44 347.98,350.95 348.07,355.54 348.15,338.29 348.23,345.08 348.32,344.28 348.4,338.53 348.48,342.43 348.57,340.55 348.65,339.11 348.73,340.89 348.82,346.85 348.9,338.89 348.98,341.3 349.07,343.19 349.15,339.07 349.23,337.94 349.32,336.19 349.4,340.22 349.48,350.54 349.57,335.69 349.65,347.87 349.73,339.41 349.82,339.31 349.9,347.54 349.98,346.51 350.07,346.93 350.15,343.84 350.23,348.01 350.32,340.89 350.4,345.58 350.48,348.56 350.57,344.05 350.65,339.85 350.73,351.98 350.82,342.93 350.9,339.33 350.98,347.05 351.07,350.15 351.15,346.81 351.23,338.38 351.32,344.42 351.4,345.64 351.48,347.21 351.57,337.36 351.65,334.7 351.73,345.41 351.82,344.3 351.9,346.44 351.98,349.86 352.07,337.75 352.15,338.84 352.23,341.48 352.32,351.59 352.4,343.33 352.49,349 352.57,332.91 352.65,345.42 352.74,354.15 352.82,351.22 352.9,341.04 352.99,354.2 353.07,340.61 353.15,351.63 353.24,352.86 353.32,344.3 353.4,338.23 353.49,355.37 353.57,346.59 353.65,338.98 353.74,347.18 353.82,339.7 353.9,345.62 353.99,339.49 354.07,333.8 354.15,348.07 354.24,341.41 354.32,344.14 354.4,345.31 354.49,343.93 354.57,341.38 354.65,346.56 354.74,347.76 354.82,345.94 354.9,343.2 354.99,345.11 355.07,352.27 355.15,350.86 355.24,343.89 355.32,348.1 355.4,344.29 355.49,348.11 355.57,345.57 355.65,347.78 355.74,343.86 355.82,348.88 355.9,348.11 355.99,348.84 356.07,348.79 356.15,348.3 356.24,341.85 356.32,339.94 356.4,346.31 356.49,343.74 356.57,349.2 356.66,342.53 356.74,343.4 356.82,334.49 356.91,345.06 356.99,343.71 357.07,351.18 357.16,345.95 357.24,352.43 357.32,342.03 357.41,338.03 357.49,350.94 357.57,348.19 357.66,353.38 357.74,342.6 357.82,337.49 357.91,353.53 357.99,347.44 358.07,343.27 358.16,356.51 358.24,346.47 358.32,342.32 358.41,348.18 358.49,343.82 358.57,342.39 358.66,348.37 358.74,346.63 358.82,345.54 358.91,345.94 358.99,339.94 359.07,349.93 359.16,355.7 359.24,347.89 359.32,352.7 359.41,356.12 359.49,345.5 359.57,343.3 359.66,341.95 359.74,344.3 359.82,350.37 359.91,345.91 359.99,352.33 360.07,343.54 360.16,354.61 360.24,345.13 360.32,346.26 360.41,347.01 360.49,337.21 360.57,346.15 360.66,349.55 360.74,347.02 360.82,348.86 360.91,342.91 360.99,342.92 361.08,339.95 361.16,350.2 361.24,342.7 361.33,348.84 361.41,347.24 361.49,347.34 361.58,345.66 361.66,349.52 361.74,349.16 361.83,354.73 361.91,345.78 361.99,345.1 362.08,341.1 362.16,357.38 362.24,343.56 362.33,350.86 362.41,350.64 362.49,341.14 362.58,343.91 362.66,350.5 362.74,346.95 362.83,340.82 362.91,347.59 362.99,354.25 363.08,353.39 363.16,339.75 363.24,353.15 363.33,357.39 363.41,347.17 363.49,344.06 363.58,346.67 363.66,344.71 363.74,340.44 363.83,346.26 363.91,342.37 363.99,353 364.08,346.43 364.16,334.4 364.24,341.96 364.33,348.68 364.41,344.05 364.49,342.88 364.58,344.09 364.66,342.76 364.74,349.63 364.83,344.43 364.91,342.25 364.99,350.72 365.08,340.95 365.16,347.72 365.24,341.8 365.33,344.57 365.41,344.22 365.5,341.14 365.58,343.77 365.66,353.54 365.75,341.22 365.83,356.3 365.91,350.66 366,354.28 366.08,344.31 366.16,351.97 366.25,347.73 366.33,356.69 366.41,344.68 366.5,359.2 366.58,343.94 366.66,353.68 366.75,345.07 366.83,341.43 366.91,340.2 367,344.05 367.08,354.39 367.16,340.47 367.25,343.15 367.33,346.34 367.41,347.05 367.5,348.04 367.58,354.76 367.66,345.91 367.75,339.88 367.83,350.61 367.91,344.96 368,345.92 368.08,347.7 368.16,354.86 368.25,353.15 368.33,347.38 368.41,345.46 368.5,349.41 368.58,343.5 368.66,338.58 368.75,344 368.83,352.05 368.91,343.97 369,344.82 369.08,354.45 369.16,354.53 369.25,354.68 369.33,343.65 369.41,349.91 369.5,354.11 369.58,352.54 369.66,345.68 369.75,346.51 369.83,343.9 369.92,348.3 370,349.41 370.08,349.42 370.17,352.72 370.25,350.85 370.33,348.62 370.42,353.99 370.5,336.57 370.58,348.8 370.67,336.77 370.75,351.53 370.83,350.61 370.92,351.99 371,348.02 371.08,348 371.17,347.58 371.25,353.98 371.33,343.23 371.42,347.51 371.5,350.94 371.58,335.37 371.67,343.54 371.75,346.61 371.83,349.61 371.92,355.8 372,345.57" fill="none" stroke="#f7645c" stroke-width="0.55" stroke-linejoin="round" />
</g>
<line x1="370" y1="348.4" x2="629" y2="391.8" stroke="#f06c6c" stroke-width="0.9" stroke-dasharray="5 3"/>
<polyline points="70.9,395.6 159.5,395.6 203.1,230.4 632,231.3" fill="none" stroke="#8c97f7" stroke-width="0.9" stroke-linejoin="round" />
<rect x="51.5" y="197.4" width="581.0" height="215.1" fill="none" stroke="#3c3c3c" stroke-width="0.9"/>
<line x1="48.5" y1="400.2" x2="51.5" y2="400.2" stroke="#3c3c3c" stroke-width="0.7" />
<text x="44.5" y="403.08" font-size="8" text-anchor="end" fill="#1a1a1a"  stroke="#1a1a1a" stroke-width="0.12">0</text>
<line x1="49.7" y1="376.34" x2="51.5" y2="376.34" stroke="#3c3c3c" stroke-width="0.7" />
<line x1="48.5" y1="352.48" x2="51.5" y2="352.48" stroke="#3c3c3c" stroke-width="0.7" />
<text x="44.5" y="355.36" font-size="8" text-anchor="end" fill="#1a1a1a"  stroke="#1a1a1a" stroke-width="0.12">20</text>
<line x1="49.7" y1="328.62" x2="51.5" y2="328.62" stroke="#3c3c3c" stroke-width="0.7" />
<line x1="48.5" y1="304.76" x2="51.5" y2="304.76" stroke="#3c3c3c" stroke-width="0.7" />
<text x="44.5" y="307.64" font-size="8" text-anchor="end" fill="#1a1a1a"  stroke="#1a1a1a" stroke-width="0.12">40</text>
<line x1="49.7" y1="280.9" x2="51.5" y2="280.9" stroke="#3c3c3c" stroke-width="0.7" />
<line x1="48.5" y1="257.04" x2="51.5" y2="257.04" stroke="#3c3c3c" stroke-width="0.7" />
<text x="44.5" y="259.92" font-size="8" text-anchor="end" fill="#1a1a1a"  stroke="#1a1a1a" stroke-width="0.12">60</text>
<line x1="49.7" y1="233.18" x2="51.5" y2="233.18" stroke="#3c3c3c" stroke-width="0.7" />
<line x1="48.5" y1="209.32" x2="51.5" y2="209.32" stroke="#3c3c3c" stroke-width="0.7" />
<text x="44.5" y="212.2" font-size="8" text-anchor="end" fill="#1a1a1a"  stroke="#1a1a1a" stroke-width="0.12">80</text>
<line x1="632.5" y1="395.9" x2="635.5" y2="395.9" stroke="#3c3c3c" stroke-width="0.7" />
<text x="639.3" y="398.78" font-size="8" text-anchor="start" fill="#1a1a1a"  stroke="#1a1a1a" stroke-width="0.12">25</text>
<line x1="632.5" y1="382.15" x2="634.3" y2="382.15" stroke="#3c3c3c" stroke-width="0.7" />
<line x1="632.5" y1="368.4" x2="635.5" y2="368.4" stroke="#3c3c3c" stroke-width="0.7" />
<text x="639.3" y="371.28" font-size="8" text-anchor="start" fill="#1a1a1a"  stroke="#1a1a1a" stroke-width="0.12">30</text>
<line x1="632.5" y1="354.65" x2="634.3" y2="354.65" stroke="#3c3c3c" stroke-width="0.7" />
<line x1="632.5" y1="340.9" x2="635.5" y2="340.9" stroke="#3c3c3c" stroke-width="0.7" />
<text x="639.3" y="343.78" font-size="8" text-anchor="start" fill="#1a1a1a"  stroke="#1a1a1a" stroke-width="0.12">35</text>
<line x1="632.5" y1="327.15" x2="634.3" y2="327.15" stroke="#3c3c3c" stroke-width="0.7" />
<line x1="632.5" y1="313.4" x2="635.5" y2="313.4" stroke="#3c3c3c" stroke-width="0.7" />
<text x="639.3" y="316.28" font-size="8" text-anchor="start" fill="#1a1a1a"  stroke="#1a1a1a" stroke-width="0.12">40</text>
<line x1="632.5" y1="299.65" x2="634.3" y2="299.65" stroke="#3c3c3c" stroke-width="0.7" />
<line x1="632.5" y1="285.9" x2="635.5" y2="285.9" stroke="#3c3c3c" stroke-width="0.7" />
<text x="639.3" y="288.78" font-size="8" text-anchor="start" fill="#1a1a1a"  stroke="#1a1a1a" stroke-width="0.12">45</text>
<line x1="632.5" y1="272.15" x2="634.3" y2="272.15" stroke="#3c3c3c" stroke-width="0.7" />
<line x1="632.5" y1="258.4" x2="635.5" y2="258.4" stroke="#3c3c3c" stroke-width="0.7" />
<text x="639.3" y="261.28" font-size="8" text-anchor="start" fill="#1a1a1a"  stroke="#1a1a1a" stroke-width="0.12">50</text>
<line x1="632.5" y1="244.65" x2="634.3" y2="244.65" stroke="#3c3c3c" stroke-width="0.7" />
<line x1="632.5" y1="230.9" x2="635.5" y2="230.9" stroke="#3c3c3c" stroke-width="0.7" />
<text x="639.3" y="233.78" font-size="8" text-anchor="start" fill="#1a1a1a"  stroke="#1a1a1a" stroke-width="0.12">55</text>
<line x1="632.5" y1="217.15" x2="634.3" y2="217.15" stroke="#3c3c3c" stroke-width="0.7" />
<line x1="632.5" y1="203.4" x2="635.5" y2="203.4" stroke="#3c3c3c" stroke-width="0.7" />
<text x="639.3" y="206.28" font-size="8" text-anchor="start" fill="#1a1a1a"  stroke="#1a1a1a" stroke-width="0.12">60</text>
<line x1="632.5" y1="409.65" x2="634.3" y2="409.65" stroke="#3c3c3c" stroke-width="0.7" />
<text transform="translate(22.4,298.6) rotate(-90)" x="0" y="2.88" font-size="8" text-anchor="middle" fill="#1a1a1a" stroke="#1a1a1a" stroke-width="0.12">Stress (MPa)</text>
<line x1="22.4" y1="326" x2="22.4" y2="334.1" stroke="#f7645c" stroke-width="0.9" />
<text transform="translate(662,299.1) rotate(-90)" x="0" y="2.88" font-size="8" text-anchor="middle" fill="#1a1a1a" stroke="#1a1a1a" stroke-width="0.12">Temperature (°C)</text>
<line x1="661.7" y1="333.6" x2="661.7" y2="340.7" stroke="#8c97f7" stroke-width="0.9" />
<text x="20" y="192.9" font-size="9.5" font-weight="bold" fill="#000" stroke="#000" stroke-width="0.12">d</text>
<text x="49" y="193.88" font-size="8" text-anchor="start" fill="#1a1a1a"  stroke="#1a1a1a" stroke-width="0.12">Continuous mode</text>
<text x="118" y="208.68" font-size="8" text-anchor="middle" fill="#1a1a1a"  stroke="#1a1a1a" stroke-width="0.12">Dark</text>
<text x="70.4" y="245.88" font-size="8" text-anchor="start" fill="#1a1a1a"  stroke="#1a1a1a" stroke-width="0.12">Orthorhombic phase</text>
<text x="423.5" y="208.68" font-size="8" text-anchor="middle" fill="#f5a33a"  stroke="#f5a33a" stroke-width="0.12">Continuous illumination</text>
<text x="312.6" y="245.98" font-size="8" text-anchor="start" fill="#1a1a1a"  stroke="#1a1a1a" stroke-width="0.12">Lattice distortion</text>
<line x1="284.5" y1="253.1" x2="412" y2="253.1" stroke="#222" stroke-width="0.8" stroke-dasharray="2.6 2.1"/>
<polygon points="411,251.2 415.5,253.1 411,255" fill="#222" />
<text x="543.7" y="245.68" font-size="8" text-anchor="start" fill="#1a1a1a"  stroke="#1a1a1a" stroke-width="0.12">Cubic-like phase</text>
<text x="124.5" y="407.88" font-size="8" text-anchor="middle" fill="#1a1a1a"  stroke="#1a1a1a" stroke-width="0.12">Spontaneous strain</text>
<text x="326.5" y="407.88" font-size="8" text-anchor="middle" fill="#1a1a1a"  stroke="#1a1a1a" stroke-width="0.12">Gradual strain release</text>
<text x="555" y="407.88" font-size="8" text-anchor="middle" fill="#1a1a1a"  stroke="#1a1a1a" stroke-width="0.12">Strain free</text>
<polyline points="83.6,290 86.3,334.7" fill="none" stroke="#f5b400" stroke-width="0.9" stroke-linejoin="round" />
<polyline points="120.5,290 110,328" fill="none" stroke="#f5b400" stroke-width="0.9" stroke-linejoin="round" />
<path d="M76,385.8 H169 V392.9 H78.5 L76,390.7 Z" fill="url(#gSub)"/>
<polygon points="99.5,304.61 108.62,315.1 99.5,325.59 90.38,315.1" fill="url(#gOct)" />
<path d="M99.5,304.61 L99.5,315.1 M90.38,315.1 L108.62,315.1" stroke="#7fbfea" stroke-width="0.35" opacity="0.8"/>
<path d="M91.98,315.6 L99.5,323.59 L107.02,315.6" fill="none" stroke="#a8d5f2" stroke-width="0.5" opacity="0.6"/>
<circle cx="99.5" cy="305.2" r="1.35" fill="#464646"/>
<circle cx="108.1" cy="315.1" r="1.35" fill="#464646"/>
<circle cx="99.5" cy="325" r="1.35" fill="#464646"/>
<circle cx="90.9" cy="315.1" r="1.35" fill="#464646"/>
<circle cx="99.8" cy="315.3" r="1.3" fill="#5a5050"/>
<polygon points="115.3,304.61 124.42,315.1 115.3,325.59 106.18,315.1" fill="url(#gOct)" />
<path d="M115.3,304.61 L115.3,315.1 M106.18,315.1 L124.42,315.1" stroke="#7fbfea" stroke-width="0.35" opacity="0.8"/>
<path d="M107.78,315.6 L115.3,323.59 L122.82,315.6" fill="none" stroke="#a8d5f2" stroke-width="0.5" opacity="0.6"/>
<circle cx="115.3" cy="305.2" r="1.35" fill="#464646"/>
<circle cx="123.9" cy="315.1" r="1.35" fill="#464646"/>
<circle cx="115.3" cy="325" r="1.35" fill="#464646"/>
<circle cx="106.7" cy="315.1" r="1.35" fill="#464646"/>
<circle cx="115.6" cy="315.3" r="1.3" fill="#5a5050"/>
<polygon points="131.2,304.61 140.32,315.1 131.2,325.59 122.08,315.1" fill="url(#gOct)" />
<path d="M131.2,304.61 L131.2,315.1 M122.08,315.1 L140.32,315.1" stroke="#7fbfea" stroke-width="0.35" opacity="0.8"/>
<path d="M123.68,315.6 L131.2,323.59 L138.72,315.6" fill="none" stroke="#a8d5f2" stroke-width="0.5" opacity="0.6"/>
<circle cx="131.2" cy="305.2" r="1.35" fill="#464646"/>
<circle cx="139.8" cy="315.1" r="1.35" fill="#464646"/>
<circle cx="131.2" cy="325" r="1.35" fill="#464646"/>
<circle cx="122.6" cy="315.1" r="1.35" fill="#464646"/>
<circle cx="131.5" cy="315.3" r="1.3" fill="#5a5050"/>
<polygon points="147,304.61 156.12,315.1 147,325.59 137.88,315.1" fill="url(#gOct)" />
<path d="M147,304.61 L147,315.1 M137.88,315.1 L156.12,315.1" stroke="#7fbfea" stroke-width="0.35" opacity="0.8"/>
<path d="M139.48,315.6 L147,323.59 L154.52,315.6" fill="none" stroke="#a8d5f2" stroke-width="0.5" opacity="0.6"/>
<circle cx="147" cy="305.2" r="1.35" fill="#464646"/>
<circle cx="155.6" cy="315.1" r="1.35" fill="#464646"/>
<circle cx="147" cy="325" r="1.35" fill="#464646"/>
<circle cx="138.4" cy="315.1" r="1.35" fill="#464646"/>
<circle cx="147.3" cy="315.3" r="1.3" fill="#5a5050"/>
<polygon points="97.2,324.99 106.95,335.8 97.2,346.61 87.45,335.8" fill="url(#gOct)" />
<path d="M97.2,324.99 L97.2,335.8 M87.45,335.8 L106.95,335.8" stroke="#7fbfea" stroke-width="0.35" opacity="0.8"/>
<path d="M89.05,336.3 L97.2,344.61 L105.35,336.3" fill="none" stroke="#a8d5f2" stroke-width="0.5" opacity="0.6"/>
<circle cx="97.2" cy="325.6" r="1.35" fill="#464646"/>
<circle cx="106.4" cy="335.8" r="1.35" fill="#464646"/>
<circle cx="97.2" cy="346" r="1.35" fill="#464646"/>
<circle cx="88" cy="335.8" r="1.35" fill="#464646"/>
<circle cx="97.5" cy="336" r="1.3" fill="#5a5050"/>
<polygon points="114.8,324.99 124.55,335.8 114.8,346.61 105.05,335.8" fill="url(#gOct)" />
<path d="M114.8,324.99 L114.8,335.8 M105.05,335.8 L124.55,335.8" stroke="#7fbfea" stroke-width="0.35" opacity="0.8"/>
<path d="M106.65,336.3 L114.8,344.61 L122.95,336.3" fill="none" stroke="#a8d5f2" stroke-width="0.5" opacity="0.6"/>
<circle cx="114.8" cy="325.6" r="1.35" fill="#464646"/>
<circle cx="124" cy="335.8" r="1.35" fill="#464646"/>
<circle cx="114.8" cy="346" r="1.35" fill="#464646"/>
<circle cx="105.6" cy="335.8" r="1.35" fill="#464646"/>
<circle cx="115.1" cy="336" r="1.3" fill="#5a5050"/>
<polygon points="132.4,324.99 142.15,335.8 132.4,346.61 122.65,335.8" fill="url(#gOct)" />
<path d="M132.4,324.99 L132.4,335.8 M122.65,335.8 L142.15,335.8" stroke="#7fbfea" stroke-width="0.35" opacity="0.8"/>
<path d="M124.25,336.3 L132.4,344.61 L140.55,336.3" fill="none" stroke="#a8d5f2" stroke-width="0.5" opacity="0.6"/>
<circle cx="132.4" cy="325.6" r="1.35" fill="#464646"/>
<circle cx="141.6" cy="335.8" r="1.35" fill="#464646"/>
<circle cx="132.4" cy="346" r="1.35" fill="#464646"/>
<circle cx="123.2" cy="335.8" r="1.35" fill="#464646"/>
<circle cx="132.7" cy="336" r="1.3" fill="#5a5050"/>
<polygon points="150,324.99 159.75,335.8 150,346.61 140.25,335.8" fill="url(#gOct)" />
<path d="M150,324.99 L150,335.8 M140.25,335.8 L159.75,335.8" stroke="#7fbfea" stroke-width="0.35" opacity="0.8"/>
<path d="M141.85,336.3 L150,344.61 L158.15,336.3" fill="none" stroke="#a8d5f2" stroke-width="0.5" opacity="0.6"/>
<circle cx="150" cy="325.6" r="1.35" fill="#464646"/>
<circle cx="159.2" cy="335.8" r="1.35" fill="#464646"/>
<circle cx="150" cy="346" r="1.35" fill="#464646"/>
<circle cx="140.8" cy="335.8" r="1.35" fill="#464646"/>
<circle cx="150.3" cy="336" r="1.3" fill="#5a5050"/>
<polygon points="95.4,345.28 105.79,356.2 95.4,367.12 85.01,356.2" fill="url(#gOct)" />
<path d="M95.4,345.28 L95.4,356.2 M85.01,356.2 L105.79,356.2" stroke="#7fbfea" stroke-width="0.35" opacity="0.8"/>
<path d="M86.61,356.7 L95.4,365.12 L104.19,356.7" fill="none" stroke="#a8d5f2" stroke-width="0.5" opacity="0.6"/>
<circle cx="95.4" cy="345.9" r="1.35" fill="#464646"/>
<circle cx="105.2" cy="356.2" r="1.35" fill="#464646"/>
<circle cx="95.4" cy="366.5" r="1.35" fill="#464646"/>
<circle cx="85.6" cy="356.2" r="1.35" fill="#464646"/>
<circle cx="95.7" cy="356.4" r="1.3" fill="#5a5050"/>
<polygon points="114.6,345.28 124.99,356.2 114.6,367.12 104.21,356.2" fill="url(#gOct)" />
<path d="M114.6,345.28 L114.6,356.2 M104.21,356.2 L124.99,356.2" stroke="#7fbfea" stroke-width="0.35" opacity="0.8"/>
<path d="M105.81,356.7 L114.6,365.12 L123.39,356.7" fill="none" stroke="#a8d5f2" stroke-width="0.5" opacity="0.6"/>
<circle cx="114.6" cy="345.9" r="1.35" fill="#464646"/>
<circle cx="124.4" cy="356.2" r="1.35" fill="#464646"/>
<circle cx="114.6" cy="366.5" r="1.35" fill="#464646"/>
<circle cx="104.8" cy="356.2" r="1.35" fill="#464646"/>
<circle cx="114.9" cy="356.4" r="1.3" fill="#5a5050"/>
<polygon points="133.8,345.28 144.19,356.2 133.8,367.12 123.41,356.2" fill="url(#gOct)" />
<path d="M133.8,345.28 L133.8,356.2 M123.41,356.2 L144.19,356.2" stroke="#7fbfea" stroke-width="0.35" opacity="0.8"/>
<path d="M125.01,356.7 L133.8,365.12 L142.59,356.7" fill="none" stroke="#a8d5f2" stroke-width="0.5" opacity="0.6"/>
<circle cx="133.8" cy="345.9" r="1.35" fill="#464646"/>
<circle cx="143.6" cy="356.2" r="1.35" fill="#464646"/>
<circle cx="133.8" cy="366.5" r="1.35" fill="#464646"/>
<circle cx="124" cy="356.2" r="1.35" fill="#464646"/>
<circle cx="134.1" cy="356.4" r="1.3" fill="#5a5050"/>
<polygon points="153,345.28 163.39,356.2 153,367.12 142.61,356.2" fill="url(#gOct)" />
<path d="M153,345.28 L153,356.2 M142.61,356.2 L163.39,356.2" stroke="#7fbfea" stroke-width="0.35" opacity="0.8"/>
<path d="M144.21,356.7 L153,365.12 L161.79,356.7" fill="none" stroke="#a8d5f2" stroke-width="0.5" opacity="0.6"/>
<circle cx="153" cy="345.9" r="1.35" fill="#464646"/>
<circle cx="162.8" cy="356.2" r="1.35" fill="#464646"/>
<circle cx="153" cy="366.5" r="1.35" fill="#464646"/>
<circle cx="143.2" cy="356.2" r="1.35" fill="#464646"/>
<circle cx="153.3" cy="356.4" r="1.3" fill="#5a5050"/>
<polygon points="92.7,365.38 103.83,376.3 92.7,387.22 81.57,376.3" fill="url(#gOct)" />
<path d="M92.7,365.38 L92.7,376.3 M81.57,376.3 L103.83,376.3" stroke="#7fbfea" stroke-width="0.35" opacity="0.8"/>
<path d="M83.17,376.8 L92.7,385.22 L102.23,376.8" fill="none" stroke="#a8d5f2" stroke-width="0.5" opacity="0.6"/>
<circle cx="92.7" cy="366" r="1.35" fill="#464646"/>
<circle cx="103.2" cy="376.3" r="1.35" fill="#464646"/>
<circle cx="92.7" cy="386.6" r="1.35" fill="#464646"/>
<circle cx="82.2" cy="376.3" r="1.35" fill="#464646"/>
<circle cx="93" cy="376.5" r="1.3" fill="#5a5050"/>
<polygon points="113.8,365.38 124.93,376.3 113.8,387.22 102.67,376.3" fill="url(#gOct)" />
<path d="M113.8,365.38 L113.8,376.3 M102.67,376.3 L124.93,376.3" stroke="#7fbfea" stroke-width="0.35" opacity="0.8"/>
<path d="M104.27,376.8 L113.8,385.22 L123.33,376.8" fill="none" stroke="#a8d5f2" stroke-width="0.5" opacity="0.6"/>
<circle cx="113.8" cy="366" r="1.35" fill="#464646"/>
<circle cx="124.3" cy="376.3" r="1.35" fill="#464646"/>
<circle cx="113.8" cy="386.6" r="1.35" fill="#464646"/>
<circle cx="103.3" cy="376.3" r="1.35" fill="#464646"/>
<circle cx="114.1" cy="376.5" r="1.3" fill="#5a5050"/>
<polygon points="134.9,365.38 146.03,376.3 134.9,387.22 123.77,376.3" fill="url(#gOct)" />
<path d="M134.9,365.38 L134.9,376.3 M123.77,376.3 L146.03,376.3" stroke="#7fbfea" stroke-width="0.35" opacity="0.8"/>
<path d="M125.37,376.8 L134.9,385.22 L144.43,376.8" fill="none" stroke="#a8d5f2" stroke-width="0.5" opacity="0.6"/>
<circle cx="134.9" cy="366" r="1.35" fill="#464646"/>
<circle cx="145.4" cy="376.3" r="1.35" fill="#464646"/>
<circle cx="134.9" cy="386.6" r="1.35" fill="#464646"/>
<circle cx="124.4" cy="376.3" r="1.35" fill="#464646"/>
<circle cx="135.2" cy="376.5" r="1.3" fill="#5a5050"/>
<polygon points="156,365.38 167.13,376.3 156,387.22 144.87,376.3" fill="url(#gOct)" />
<path d="M156,365.38 L156,376.3 M144.87,376.3 L167.13,376.3" stroke="#7fbfea" stroke-width="0.35" opacity="0.8"/>
<path d="M146.47,376.8 L156,385.22 L165.53,376.8" fill="none" stroke="#a8d5f2" stroke-width="0.5" opacity="0.6"/>
<circle cx="156" cy="366" r="1.35" fill="#464646"/>
<circle cx="166.5" cy="376.3" r="1.35" fill="#464646"/>
<circle cx="156" cy="386.6" r="1.35" fill="#464646"/>
<circle cx="145.5" cy="376.3" r="1.35" fill="#464646"/>
<circle cx="156.3" cy="376.5" r="1.3" fill="#5a5050"/>
<circle cx="97.2" cy="334.4" r="11.2" fill="none" stroke="#f5b400" stroke-width="1"/>
<defs><clipPath id="zc103_273"><circle cx="103.9" cy="273" r="23.2"/></clipPath></defs>
<circle cx="103.9" cy="273" r="23.2" fill="#ffffff"/>
<g clip-path="url(#zc103_273)">
<g transform="rotate(15 90.5 259.6)">
<polygon points="90.5,252.66 97.44,259.6 90.5,266.54 83.56,259.6" fill="#6eb0e3" />
<polygon points="90.5,252.66 97.44,259.6 90.5,259.6" fill="#77b6e6" />
<circle cx="90.5" cy="252.66" r="0.75" fill="#4d4d4d"/>
<circle cx="97.44" cy="259.6" r="0.75" fill="#4d4d4d"/>
<circle cx="90.5" cy="266.54" r="0.75" fill="#4d4d4d"/>
<circle cx="83.56" cy="259.6" r="0.75" fill="#4d4d4d"/>
</g>
<circle cx="90.5" cy="259.6" r="0.8" fill="#4d4d4d"/>
<g transform="rotate(-15 90.5 273)">
<polygon points="90.5,266.06 97.44,273 90.5,279.94 83.56,273" fill="#6eb0e3" />
<polygon points="90.5,266.06 97.44,273 90.5,273" fill="#77b6e6" />
<circle cx="90.5" cy="266.06" r="0.75" fill="#4d4d4d"/>
<circle cx="97.44" cy="273" r="0.75" fill="#4d4d4d"/>
<circle cx="90.5" cy="279.94" r="0.75" fill="#4d4d4d"/>
<circle cx="83.56" cy="273" r="0.75" fill="#4d4d4d"/>
</g>
<circle cx="90.5" cy="273" r="0.8" fill="#4d4d4d"/>
<g transform="rotate(15 90.5 286.4)">
<polygon points="90.5,279.46 97.44,286.4 90.5,293.34 83.56,286.4" fill="#6eb0e3" />
<polygon points="90.5,279.46 97.44,286.4 90.5,286.4" fill="#77b6e6" />
<circle cx="90.5" cy="279.46" r="0.75" fill="#4d4d4d"/>
<circle cx="97.44" cy="286.4" r="0.75" fill="#4d4d4d"/>
<circle cx="90.5" cy="293.34" r="0.75" fill="#4d4d4d"/>
<circle cx="83.56" cy="286.4" r="0.75" fill="#4d4d4d"/>
</g>
<circle cx="90.5" cy="286.4" r="0.8" fill="#4d4d4d"/>
<g transform="rotate(-15 103.9 259.6)">
<polygon points="103.9,252.66 110.84,259.6 103.9,266.54 96.96,259.6" fill="#6eb0e3" />
<polygon points="103.9,252.66 110.84,259.6 103.9,259.6" fill="#77b6e6" />
<circle cx="103.9" cy="252.66" r="0.75" fill="#4d4d4d"/>
<circle cx="110.84" cy="259.6" r="0.75" fill="#4d4d4d"/>
<circle cx="103.9" cy="266.54" r="0.75" fill="#4d4d4d"/>
<circle cx="96.96" cy="259.6" r="0.75" fill="#4d4d4d"/>
</g>
<circle cx="103.9" cy="259.6" r="0.8" fill="#4d4d4d"/>
<g transform="rotate(15 103.9 273)">
<polygon points="103.9,266.06 110.84,273 103.9,279.94 96.96,273" fill="#6eb0e3" />
<polygon points="103.9,266.06 110.84,273 103.9,273" fill="#77b6e6" />
<circle cx="103.9" cy="266.06" r="0.75" fill="#4d4d4d"/>
<circle cx="110.84" cy="273" r="0.75" fill="#4d4d4d"/>
<circle cx="103.9" cy="279.94" r="0.75" fill="#4d4d4d"/>
<circle cx="96.96" cy="273" r="0.75" fill="#4d4d4d"/>
</g>
<circle cx="103.9" cy="273" r="0.8" fill="#4d4d4d"/>
<g transform="rotate(-15 103.9 286.4)">
<polygon points="103.9,279.46 110.84,286.4 103.9,293.34 96.96,286.4" fill="#6eb0e3" />
<polygon points="103.9,279.46 110.84,286.4 103.9,286.4" fill="#77b6e6" />
<circle cx="103.9" cy="279.46" r="0.75" fill="#4d4d4d"/>
<circle cx="110.84" cy="286.4" r="0.75" fill="#4d4d4d"/>
<circle cx="103.9" cy="293.34" r="0.75" fill="#4d4d4d"/>
<circle cx="96.96" cy="286.4" r="0.75" fill="#4d4d4d"/>
</g>
<circle cx="103.9" cy="286.4" r="0.8" fill="#4d4d4d"/>
<g transform="rotate(15 117.3 259.6)">
<polygon points="117.3,252.66 124.24,259.6 117.3,266.54 110.36,259.6" fill="#6eb0e3" />
<polygon points="117.3,252.66 124.24,259.6 117.3,259.6" fill="#77b6e6" />
<circle cx="117.3" cy="252.66" r="0.75" fill="#4d4d4d"/>
<circle cx="124.24" cy="259.6" r="0.75" fill="#4d4d4d"/>
<circle cx="117.3" cy="266.54" r="0.75" fill="#4d4d4d"/>
<circle cx="110.36" cy="259.6" r="0.75" fill="#4d4d4d"/>
</g>
<circle cx="117.3" cy="259.6" r="0.8" fill="#4d4d4d"/>
<g transform="rotate(-15 117.3 273)">
<polygon points="117.3,266.06 124.24,273 117.3,279.94 110.36,273" fill="#6eb0e3" />
<polygon points="117.3,266.06 124.24,273 117.3,273" fill="#77b6e6" />
<circle cx="117.3" cy="266.06" r="0.75" fill="#4d4d4d"/>
<circle cx="124.24" cy="273" r="0.75" fill="#4d4d4d"/>
<circle cx="117.3" cy="279.94" r="0.75" fill="#4d4d4d"/>
<circle cx="110.36" cy="273" r="0.75" fill="#4d4d4d"/>
</g>
<circle cx="117.3" cy="273" r="0.8" fill="#4d4d4d"/>
<g transform="rotate(15 117.3 286.4)">
<polygon points="117.3,279.46 124.24,286.4 117.3,293.34 110.36,286.4" fill="#6eb0e3" />
<polygon points="117.3,279.46 124.24,286.4 117.3,286.4" fill="#77b6e6" />
<circle cx="117.3" cy="279.46" r="0.75" fill="#4d4d4d"/>
<circle cx="124.24" cy="286.4" r="0.75" fill="#4d4d4d"/>
<circle cx="117.3" cy="293.34" r="0.75" fill="#4d4d4d"/>
<circle cx="110.36" cy="286.4" r="0.75" fill="#4d4d4d"/>
</g>
<circle cx="117.3" cy="286.4" r="0.8" fill="#4d4d4d"/>
</g>
<ellipse cx="83.8" cy="252.9" rx="2.4" ry="1.8" transform="rotate(-60 83.8 252.9)" fill="#d8553a"/>
<ellipse cx="83.8" cy="266.3" rx="2.4" ry="1.8" transform="rotate(0 83.8 266.3)" fill="#d8553a"/>
<ellipse cx="83.8" cy="279.7" rx="2.4" ry="1.8" transform="rotate(30 83.8 279.7)" fill="#d8553a"/>
<ellipse cx="83.8" cy="293.1" rx="2.4" ry="1.8" transform="rotate(0 83.8 293.1)" fill="#d8553a"/>
<ellipse cx="97.2" cy="252.9" rx="2.4" ry="1.8" transform="rotate(60 97.2 252.9)" fill="#d8553a"/>
<ellipse cx="97.2" cy="266.3" rx="2.4" ry="1.8" transform="rotate(60 97.2 266.3)" fill="#d8553a"/>
<ellipse cx="97.2" cy="279.7" rx="2.4" ry="1.8" transform="rotate(-60 97.2 279.7)" fill="#d8553a"/>
<ellipse cx="97.2" cy="293.1" rx="2.4" ry="1.8" transform="rotate(-30 97.2 293.1)" fill="#d8553a"/>
<ellipse cx="110.6" cy="252.9" rx="2.4" ry="1.8" transform="rotate(0 110.6 252.9)" fill="#d8553a"/>
<ellipse cx="110.6" cy="266.3" rx="2.4" ry="1.8" transform="rotate(30 110.6 266.3)" fill="#d8553a"/>
<ellipse cx="110.6" cy="279.7" rx="2.4" ry="1.8" transform="rotate(-30 110.6 279.7)" fill="#d8553a"/>
<ellipse cx="110.6" cy="293.1" rx="2.4" ry="1.8" transform="rotate(-30 110.6 293.1)" fill="#d8553a"/>
<ellipse cx="124" cy="252.9" rx="2.4" ry="1.8" transform="rotate(60 124 252.9)" fill="#d8553a"/>
<ellipse cx="124" cy="266.3" rx="2.4" ry="1.8" transform="rotate(60 124 266.3)" fill="#d8553a"/>
<ellipse cx="124" cy="279.7" rx="2.4" ry="1.8" transform="rotate(30 124 279.7)" fill="#d8553a"/>
<ellipse cx="124" cy="293.1" rx="2.4" ry="1.8" transform="rotate(30 124 293.1)" fill="#d8553a"/>
<circle cx="103.9" cy="273" r="23.2" fill="none" stroke="#f5b400" stroke-width="1.1"/>
<path d="M280.5,385.5 H372.6 V392.4 H283 L280.5,390.2 Z" fill="url(#gSub)"/>
<polygon points="298.9,303.68 308.76,314.6 298.9,325.52 289.04,314.6" fill="url(#gOct)" />
<path d="M298.9,303.68 L298.9,314.6 M289.04,314.6 L308.76,314.6" stroke="#7fbfea" stroke-width="0.35" opacity="0.8"/>
<path d="M290.64,315.1 L298.9,323.52 L307.16,315.1" fill="none" stroke="#a8d5f2" stroke-width="0.5" opacity="0.6"/>
<circle cx="298.9" cy="304.3" r="1.35" fill="#464646"/>
<circle cx="308.2" cy="314.6" r="1.35" fill="#464646"/>
<circle cx="298.9" cy="324.9" r="1.35" fill="#464646"/>
<circle cx="289.6" cy="314.6" r="1.35" fill="#464646"/>
<circle cx="299.2" cy="314.8" r="1.3" fill="#5a5050"/>
<polygon points="317.8,303.68 327.66,314.6 317.8,325.52 307.94,314.6" fill="url(#gOct)" />
<path d="M317.8,303.68 L317.8,314.6 M307.94,314.6 L327.66,314.6" stroke="#7fbfea" stroke-width="0.35" opacity="0.8"/>
<path d="M309.54,315.1 L317.8,323.52 L326.06,315.1" fill="none" stroke="#a8d5f2" stroke-width="0.5" opacity="0.6"/>
<circle cx="317.8" cy="304.3" r="1.35" fill="#464646"/>
<circle cx="327.1" cy="314.6" r="1.35" fill="#464646"/>
<circle cx="317.8" cy="324.9" r="1.35" fill="#464646"/>
<circle cx="308.5" cy="314.6" r="1.35" fill="#464646"/>
<circle cx="318.1" cy="314.8" r="1.3" fill="#5a5050"/>
<polygon points="326.44,314.6 346.16,314.6 336.3,325.52" fill="url(#gOct)" />
<circle cx="345.6" cy="314.6" r="1.35" fill="#464646"/>
<circle cx="336.3" cy="324.9" r="1.35" fill="#464646"/>
<circle cx="327" cy="314.6" r="1.35" fill="#464646"/>
<circle cx="336.6" cy="314.8" r="1.3" fill="#5a5050"/>
<polygon points="354.8,303.68 364.66,314.6 354.8,325.52 344.94,314.6" fill="url(#gOct)" />
<path d="M354.8,303.68 L354.8,314.6 M344.94,314.6 L364.66,314.6" stroke="#7fbfea" stroke-width="0.35" opacity="0.8"/>
<path d="M346.54,315.1 L354.8,323.52 L363.06,315.1" fill="none" stroke="#a8d5f2" stroke-width="0.5" opacity="0.6"/>
<circle cx="354.8" cy="304.3" r="1.35" fill="#464646"/>
<circle cx="364.1" cy="314.6" r="1.35" fill="#464646"/>
<circle cx="354.8" cy="324.9" r="1.35" fill="#464646"/>
<circle cx="345.5" cy="314.6" r="1.35" fill="#464646"/>
<circle cx="355.1" cy="314.8" r="1.3" fill="#5a5050"/>
<polygon points="298.4,324.48 308.58,335.5 298.4,346.52 288.22,335.5" fill="url(#gOct)" />
<path d="M298.4,324.48 L298.4,335.5 M288.22,335.5 L308.58,335.5" stroke="#7fbfea" stroke-width="0.35" opacity="0.8"/>
<path d="M289.82,336 L298.4,344.52 L306.98,336" fill="none" stroke="#a8d5f2" stroke-width="0.5" opacity="0.6"/>
<circle cx="298.4" cy="325.1" r="1.35" fill="#464646"/>
<circle cx="308" cy="335.5" r="1.35" fill="#464646"/>
<circle cx="298.4" cy="345.9" r="1.35" fill="#464646"/>
<circle cx="288.8" cy="335.5" r="1.35" fill="#464646"/>
<circle cx="298.7" cy="335.7" r="1.3" fill="#5a5050"/>
<polygon points="317.4,324.48 327.58,335.5 317.4,346.52 307.22,335.5" fill="url(#gOct)" />
<path d="M317.4,324.48 L317.4,335.5 M307.22,335.5 L327.58,335.5" stroke="#7fbfea" stroke-width="0.35" opacity="0.8"/>
<path d="M308.82,336 L317.4,344.52 L325.98,336" fill="none" stroke="#a8d5f2" stroke-width="0.5" opacity="0.6"/>
<circle cx="317.4" cy="325.1" r="1.35" fill="#464646"/>
<circle cx="327" cy="335.5" r="1.35" fill="#464646"/>
<circle cx="317.4" cy="345.9" r="1.35" fill="#464646"/>
<circle cx="307.8" cy="335.5" r="1.35" fill="#464646"/>
<circle cx="317.7" cy="335.7" r="1.3" fill="#5a5050"/>
<polygon points="336.4,324.48 346.58,335.5 336.4,346.52 326.22,335.5" fill="url(#gOct)" />
<path d="M336.4,324.48 L336.4,335.5 M326.22,335.5 L346.58,335.5" stroke="#7fbfea" stroke-width="0.35" opacity="0.8"/>
<path d="M327.82,336 L336.4,344.52 L344.98,336" fill="none" stroke="#a8d5f2" stroke-width="0.5" opacity="0.6"/>
<circle cx="336.4" cy="325.1" r="1.35" fill="#464646"/>
<circle cx="346" cy="335.5" r="1.35" fill="#464646"/>
<circle cx="336.4" cy="345.9" r="1.35" fill="#464646"/>
<circle cx="326.8" cy="335.5" r="1.35" fill="#464646"/>
<circle cx="336.7" cy="335.7" r="1.3" fill="#5a5050"/>
<polygon points="355.4,324.48 365.58,335.5 355.4,346.52 345.22,335.5" fill="url(#gOct)" />
<path d="M355.4,324.48 L355.4,335.5 M345.22,335.5 L365.58,335.5" stroke="#7fbfea" stroke-width="0.35" opacity="0.8"/>
<path d="M346.82,336 L355.4,344.52 L363.98,336" fill="none" stroke="#a8d5f2" stroke-width="0.5" opacity="0.6"/>
<circle cx="355.4" cy="325.1" r="1.35" fill="#464646"/>
<circle cx="365" cy="335.5" r="1.35" fill="#464646"/>
<circle cx="355.4" cy="345.9" r="1.35" fill="#464646"/>
<circle cx="345.8" cy="335.5" r="1.35" fill="#464646"/>
<circle cx="355.7" cy="335.7" r="1.3" fill="#5a5050"/>
<polygon points="297.6,345.18 308.2,356.2 297.6,367.22 287,356.2" fill="url(#gOct)" />
<path d="M297.6,345.18 L297.6,356.2 M287,356.2 L308.2,356.2" stroke="#7fbfea" stroke-width="0.35" opacity="0.8"/>
<path d="M288.6,356.7 L297.6,365.22 L306.6,356.7" fill="none" stroke="#a8d5f2" stroke-width="0.5" opacity="0.6"/>
<circle cx="297.6" cy="345.8" r="1.35" fill="#464646"/>
<circle cx="307.6" cy="356.2" r="1.35" fill="#464646"/>
<circle cx="297.6" cy="366.6" r="1.35" fill="#464646"/>
<circle cx="287.6" cy="356.2" r="1.35" fill="#464646"/>
<circle cx="297.9" cy="356.4" r="1.3" fill="#5a5050"/>
<polygon points="317,345.18 327.6,356.2 317,367.22 306.4,356.2" fill="url(#gOct)" />
<path d="M317,345.18 L317,356.2 M306.4,356.2 L327.6,356.2" stroke="#7fbfea" stroke-width="0.35" opacity="0.8"/>
<path d="M308,356.7 L317,365.22 L326,356.7" fill="none" stroke="#a8d5f2" stroke-width="0.5" opacity="0.6"/>
<circle cx="317" cy="345.8" r="1.35" fill="#464646"/>
<circle cx="327" cy="356.2" r="1.35" fill="#464646"/>
<circle cx="317" cy="366.6" r="1.35" fill="#464646"/>
<circle cx="307" cy="356.2" r="1.35" fill="#464646"/>
<circle cx="317.3" cy="356.4" r="1.3" fill="#5a5050"/>
<polygon points="336.9,345.18 347.5,356.2 336.9,367.22 326.3,356.2" fill="url(#gOct)" />
<path d="M336.9,345.18 L336.9,356.2 M326.3,356.2 L347.5,356.2" stroke="#7fbfea" stroke-width="0.35" opacity="0.8"/>
<path d="M327.9,356.7 L336.9,365.22 L345.9,356.7" fill="none" stroke="#a8d5f2" stroke-width="0.5" opacity="0.6"/>
<circle cx="336.9" cy="345.8" r="1.35" fill="#464646"/>
<circle cx="346.9" cy="356.2" r="1.35" fill="#464646"/>
<circle cx="336.9" cy="366.6" r="1.35" fill="#464646"/>
<circle cx="326.9" cy="356.2" r="1.35" fill="#464646"/>
<circle cx="337.2" cy="356.4" r="1.3" fill="#5a5050"/>
<polygon points="356.4,345.18 367,356.2 356.4,367.22 345.8,356.2" fill="url(#gOct)" />
<path d="M356.4,345.18 L356.4,356.2 M345.8,356.2 L367,356.2" stroke="#7fbfea" stroke-width="0.35" opacity="0.8"/>
<path d="M347.4,356.7 L356.4,365.22 L365.4,356.7" fill="none" stroke="#a8d5f2" stroke-width="0.5" opacity="0.6"/>
<circle cx="356.4" cy="345.8" r="1.35" fill="#464646"/>
<circle cx="366.4" cy="356.2" r="1.35" fill="#464646"/>
<circle cx="356.4" cy="366.6" r="1.35" fill="#464646"/>
<circle cx="346.4" cy="356.2" r="1.35" fill="#464646"/>
<circle cx="356.7" cy="356.4" r="1.3" fill="#5a5050"/>
<polygon points="296.6,365.79 307.62,376.6 296.6,387.41 285.58,376.6" fill="url(#gOct)" />
<path d="M296.6,365.79 L296.6,376.6 M285.58,376.6 L307.62,376.6" stroke="#7fbfea" stroke-width="0.35" opacity="0.8"/>
<path d="M287.18,377.1 L296.6,385.41 L306.02,377.1" fill="none" stroke="#a8d5f2" stroke-width="0.5" opacity="0.6"/>
<circle cx="296.6" cy="366.4" r="1.35" fill="#464646"/>
<circle cx="307" cy="376.6" r="1.35" fill="#464646"/>
<circle cx="296.6" cy="386.8" r="1.35" fill="#464646"/>
<circle cx="286.2" cy="376.6" r="1.35" fill="#464646"/>
<circle cx="296.9" cy="376.8" r="1.3" fill="#5a5050"/>
<polygon points="316.8,365.79 327.82,376.6 316.8,387.41 305.78,376.6" fill="url(#gOct)" />
<path d="M316.8,365.79 L316.8,376.6 M305.78,376.6 L327.82,376.6" stroke="#7fbfea" stroke-width="0.35" opacity="0.8"/>
<path d="M307.38,377.1 L316.8,385.41 L326.22,377.1" fill="none" stroke="#a8d5f2" stroke-width="0.5" opacity="0.6"/>
<circle cx="316.8" cy="366.4" r="1.35" fill="#464646"/>
<circle cx="327.2" cy="376.6" r="1.35" fill="#464646"/>
<circle cx="316.8" cy="386.8" r="1.35" fill="#464646"/>
<circle cx="306.4" cy="376.6" r="1.35" fill="#464646"/>
<circle cx="317.1" cy="376.8" r="1.3" fill="#5a5050"/>
<polygon points="337.6,365.79 348.62,376.6 337.6,387.41 326.58,376.6" fill="url(#gOct)" />
<path d="M337.6,365.79 L337.6,376.6 M326.58,376.6 L348.62,376.6" stroke="#7fbfea" stroke-width="0.35" opacity="0.8"/>
<path d="M328.18,377.1 L337.6,385.41 L347.02,377.1" fill="none" stroke="#a8d5f2" stroke-width="0.5" opacity="0.6"/>
<circle cx="337.6" cy="366.4" r="1.35" fill="#464646"/>
<circle cx="348" cy="376.6" r="1.35" fill="#464646"/>
<circle cx="337.6" cy="386.8" r="1.35" fill="#464646"/>
<circle cx="327.2" cy="376.6" r="1.35" fill="#464646"/>
<circle cx="337.9" cy="376.8" r="1.3" fill="#5a5050"/>
<polygon points="358,365.79 369.02,376.6 358,387.41 346.98,376.6" fill="url(#gOct)" />
<path d="M358,365.79 L358,376.6 M346.98,376.6 L369.02,376.6" stroke="#7fbfea" stroke-width="0.35" opacity="0.8"/>
<path d="M348.58,377.1 L358,385.41 L367.42,377.1" fill="none" stroke="#a8d5f2" stroke-width="0.5" opacity="0.6"/>
<circle cx="358" cy="366.4" r="1.35" fill="#464646"/>
<circle cx="368.4" cy="376.6" r="1.35" fill="#464646"/>
<circle cx="358" cy="386.8" r="1.35" fill="#464646"/>
<circle cx="347.6" cy="376.6" r="1.35" fill="#464646"/>
<circle cx="358.3" cy="376.8" r="1.3" fill="#5a5050"/>
<g transform="rotate(0 288.3 301)">
<path d="M287.1,300.36 Q285.1,299.56 282.5,298.44" fill="none" stroke="#5e5e5e" stroke-width="0.6"/>
<path d="M287.1,300.8 Q285.1,300.55 282.5,300.2" fill="none" stroke="#5e5e5e" stroke-width="0.6"/>
<path d="M287.1,301.24 Q285.1,301.54 282.5,301.96" fill="none" stroke="#5e5e5e" stroke-width="0.6"/>
<path d="M287.1,301.68 Q285.1,302.53 282.5,303.72" fill="none" stroke="#5e5e5e" stroke-width="0.6"/>
<circle cx="288.3" cy="301" r="1.9" fill="#505050"/>
</g>
<g transform="rotate(30 326.8 300.3)">
<path d="M325.6,299.66 Q323.6,298.86 321,297.74" fill="none" stroke="#5e5e5e" stroke-width="0.6"/>
<path d="M325.6,300.1 Q323.6,299.85 321,299.5" fill="none" stroke="#5e5e5e" stroke-width="0.6"/>
<path d="M325.6,300.54 Q323.6,300.84 321,301.26" fill="none" stroke="#5e5e5e" stroke-width="0.6"/>
<path d="M325.6,300.98 Q323.6,301.83 321,303.02" fill="none" stroke="#5e5e5e" stroke-width="0.6"/>
<circle cx="326.8" cy="300.3" r="1.9" fill="#505050"/>
</g>
<g transform="rotate(10 338.9 306.3)">
<path d="M337.7,305.66 Q335.7,304.86 333.1,303.74" fill="none" stroke="#5e5e5e" stroke-width="0.6"/>
<path d="M337.7,306.1 Q335.7,305.85 333.1,305.5" fill="none" stroke="#5e5e5e" stroke-width="0.6"/>
<path d="M337.7,306.54 Q335.7,306.84 333.1,307.26" fill="none" stroke="#5e5e5e" stroke-width="0.6"/>
<path d="M337.7,306.98 Q335.7,307.83 333.1,309.02" fill="none" stroke="#5e5e5e" stroke-width="0.6"/>
<circle cx="338.9" cy="306.3" r="1.9" fill="#505050"/>
</g>
<circle cx="342.7" cy="305.3" r="1.6" fill="#ffe100" stroke="#f2c200" stroke-width="0.4"/>
<g transform="rotate(0 360 299.5)">
<path d="M358.8,298.86 Q356.8,298.06 354.2,296.94" fill="none" stroke="#5e5e5e" stroke-width="0.6"/>
<path d="M358.8,299.3 Q356.8,299.05 354.2,298.7" fill="none" stroke="#5e5e5e" stroke-width="0.6"/>
<path d="M358.8,299.74 Q356.8,300.04 354.2,300.46" fill="none" stroke="#5e5e5e" stroke-width="0.6"/>
<path d="M358.8,300.18 Q356.8,301.03 354.2,302.22" fill="none" stroke="#5e5e5e" stroke-width="0.6"/>
<circle cx="360" cy="299.5" r="1.9" fill="#505050"/>
</g>
<polyline points="508,283 514,334" fill="none" stroke="#f5b400" stroke-width="0.9" stroke-linejoin="round" />
<polyline points="549.5,284 535,333" fill="none" stroke="#f5b400" stroke-width="0.9" stroke-linejoin="round" />
<path d="M507.7,386.7 H601.5 V393.9 H510.2 L507.7,391.7 Z" fill="url(#gSub)"/>
<polygon points="524.4,302.58 535.32,313.5 524.4,324.42 513.48,313.5" fill="url(#gOct)" />
<path d="M524.4,302.58 L524.4,313.5 M513.48,313.5 L535.32,313.5" stroke="#7fbfea" stroke-width="0.35" opacity="0.8"/>
<path d="M515.08,314 L524.4,322.42 L533.72,314" fill="none" stroke="#a8d5f2" stroke-width="0.5" opacity="0.6"/>
<circle cx="524.4" cy="303.2" r="1.35" fill="#464646"/>
<circle cx="534.7" cy="313.5" r="1.35" fill="#464646"/>
<circle cx="524.4" cy="323.8" r="1.35" fill="#464646"/>
<circle cx="514.1" cy="313.5" r="1.35" fill="#464646"/>
<circle cx="524.7" cy="313.7" r="1.3" fill="#5a5050"/>
<polygon points="545,302.58 555.92,313.5 545,324.42 534.08,313.5" fill="url(#gOct)" />
<path d="M545,302.58 L545,313.5 M534.08,313.5 L555.92,313.5" stroke="#7fbfea" stroke-width="0.35" opacity="0.8"/>
<path d="M535.68,314 L545,322.42 L554.32,314" fill="none" stroke="#a8d5f2" stroke-width="0.5" opacity="0.6"/>
<circle cx="545" cy="303.2" r="1.35" fill="#464646"/>
<circle cx="555.3" cy="313.5" r="1.35" fill="#464646"/>
<circle cx="545" cy="323.8" r="1.35" fill="#464646"/>
<circle cx="534.7" cy="313.5" r="1.35" fill="#464646"/>
<circle cx="545.3" cy="313.7" r="1.3" fill="#5a5050"/>
<polygon points="554.68,313.5 576.52,313.5 565.6,324.42" fill="url(#gOct)" />
<circle cx="575.9" cy="313.5" r="1.35" fill="#464646"/>
<circle cx="565.6" cy="323.8" r="1.35" fill="#464646"/>
<circle cx="555.3" cy="313.5" r="1.35" fill="#464646"/>
<circle cx="565.9" cy="313.7" r="1.3" fill="#5a5050"/>
<polygon points="586.2,302.58 597.12,313.5 586.2,324.42 575.28,313.5" fill="url(#gOct)" />
<path d="M586.2,302.58 L586.2,313.5 M575.28,313.5 L597.12,313.5" stroke="#7fbfea" stroke-width="0.35" opacity="0.8"/>
<path d="M576.88,314 L586.2,322.42 L595.52,314" fill="none" stroke="#a8d5f2" stroke-width="0.5" opacity="0.6"/>
<circle cx="586.2" cy="303.2" r="1.35" fill="#464646"/>
<circle cx="596.5" cy="313.5" r="1.35" fill="#464646"/>
<circle cx="586.2" cy="323.8" r="1.35" fill="#464646"/>
<circle cx="575.9" cy="313.5" r="1.35" fill="#464646"/>
<circle cx="586.5" cy="313.7" r="1.3" fill="#5a5050"/>
<polygon points="524.4,323.08 535.32,334 524.4,344.92 513.48,334" fill="url(#gOct)" />
<path d="M524.4,323.08 L524.4,334 M513.48,334 L535.32,334" stroke="#7fbfea" stroke-width="0.35" opacity="0.8"/>
<path d="M515.08,334.5 L524.4,342.92 L533.72,334.5" fill="none" stroke="#a8d5f2" stroke-width="0.5" opacity="0.6"/>
<circle cx="524.4" cy="323.7" r="1.35" fill="#464646"/>
<circle cx="534.7" cy="334" r="1.35" fill="#464646"/>
<circle cx="524.4" cy="344.3" r="1.35" fill="#464646"/>
<circle cx="514.1" cy="334" r="1.35" fill="#464646"/>
<circle cx="524.7" cy="334.2" r="1.3" fill="#5a5050"/>
<polygon points="545,323.08 555.92,334 545,344.92 534.08,334" fill="url(#gOct)" />
<path d="M545,323.08 L545,334 M534.08,334 L555.92,334" stroke="#7fbfea" stroke-width="0.35" opacity="0.8"/>
<path d="M535.68,334.5 L545,342.92 L554.32,334.5" fill="none" stroke="#a8d5f2" stroke-width="0.5" opacity="0.6"/>
<circle cx="545" cy="323.7" r="1.35" fill="#464646"/>
<circle cx="555.3" cy="334" r="1.35" fill="#464646"/>
<circle cx="545" cy="344.3" r="1.35" fill="#464646"/>
<circle cx="534.7" cy="334" r="1.35" fill="#464646"/>
<circle cx="545.3" cy="334.2" r="1.3" fill="#5a5050"/>
<polygon points="565.6,323.08 576.52,334 565.6,344.92 554.68,334" fill="url(#gOct)" />
<path d="M565.6,323.08 L565.6,334 M554.68,334 L576.52,334" stroke="#7fbfea" stroke-width="0.35" opacity="0.8"/>
<path d="M556.28,334.5 L565.6,342.92 L574.92,334.5" fill="none" stroke="#a8d5f2" stroke-width="0.5" opacity="0.6"/>
<circle cx="565.6" cy="323.7" r="1.35" fill="#464646"/>
<circle cx="575.9" cy="334" r="1.35" fill="#464646"/>
<circle cx="565.6" cy="344.3" r="1.35" fill="#464646"/>
<circle cx="555.3" cy="334" r="1.35" fill="#464646"/>
<circle cx="565.9" cy="334.2" r="1.3" fill="#5a5050"/>
<polygon points="586.2,323.08 597.12,334 586.2,344.92 575.28,334" fill="url(#gOct)" />
<path d="M586.2,323.08 L586.2,334 M575.28,334 L597.12,334" stroke="#7fbfea" stroke-width="0.35" opacity="0.8"/>
<path d="M576.88,334.5 L586.2,342.92 L595.52,334.5" fill="none" stroke="#a8d5f2" stroke-width="0.5" opacity="0.6"/>
<circle cx="586.2" cy="323.7" r="1.35" fill="#464646"/>
<circle cx="596.5" cy="334" r="1.35" fill="#464646"/>
<circle cx="586.2" cy="344.3" r="1.35" fill="#464646"/>
<circle cx="575.9" cy="334" r="1.35" fill="#464646"/>
<circle cx="586.5" cy="334.2" r="1.3" fill="#5a5050"/>
<polygon points="524.4,343.87 535.32,355 524.4,366.13 513.48,355" fill="url(#gOct)" />
<path d="M524.4,343.87 L524.4,355 M513.48,355 L535.32,355" stroke="#7fbfea" stroke-width="0.35" opacity="0.8"/>
<path d="M515.08,355.5 L524.4,364.13 L533.72,355.5" fill="none" stroke="#a8d5f2" stroke-width="0.5" opacity="0.6"/>
<circle cx="524.4" cy="344.5" r="1.35" fill="#464646"/>
<circle cx="534.7" cy="355" r="1.35" fill="#464646"/>
<circle cx="524.4" cy="365.5" r="1.35" fill="#464646"/>
<circle cx="514.1" cy="355" r="1.35" fill="#464646"/>
<circle cx="524.7" cy="355.2" r="1.3" fill="#5a5050"/>
<polygon points="545,343.87 555.92,355 545,366.13 534.08,355" fill="url(#gOct)" />
<path d="M545,343.87 L545,355 M534.08,355 L555.92,355" stroke="#7fbfea" stroke-width="0.35" opacity="0.8"/>
<path d="M535.68,355.5 L545,364.13 L554.32,355.5" fill="none" stroke="#a8d5f2" stroke-width="0.5" opacity="0.6"/>
<circle cx="545" cy="344.5" r="1.35" fill="#464646"/>
<circle cx="555.3" cy="355" r="1.35" fill="#464646"/>
<circle cx="545" cy="365.5" r="1.35" fill="#464646"/>
<circle cx="534.7" cy="355" r="1.35" fill="#464646"/>
<circle cx="545.3" cy="355.2" r="1.3" fill="#5a5050"/>
<polygon points="565.6,343.87 576.52,355 565.6,366.13 554.68,355" fill="url(#gOct)" />
<path d="M565.6,343.87 L565.6,355 M554.68,355 L576.52,355" stroke="#7fbfea" stroke-width="0.35" opacity="0.8"/>
<path d="M556.28,355.5 L565.6,364.13 L574.92,355.5" fill="none" stroke="#a8d5f2" stroke-width="0.5" opacity="0.6"/>
<circle cx="565.6" cy="344.5" r="1.35" fill="#464646"/>
<circle cx="575.9" cy="355" r="1.35" fill="#464646"/>
<circle cx="565.6" cy="365.5" r="1.35" fill="#464646"/>
<circle cx="555.3" cy="355" r="1.35" fill="#464646"/>
<circle cx="565.9" cy="355.2" r="1.3" fill="#5a5050"/>
<polygon points="586.2,343.87 597.12,355 586.2,366.13 575.28,355" fill="url(#gOct)" />
<path d="M586.2,343.87 L586.2,355 M575.28,355 L597.12,355" stroke="#7fbfea" stroke-width="0.35" opacity="0.8"/>
<path d="M576.88,355.5 L586.2,364.13 L595.52,355.5" fill="none" stroke="#a8d5f2" stroke-width="0.5" opacity="0.6"/>
<circle cx="586.2" cy="344.5" r="1.35" fill="#464646"/>
<circle cx="596.5" cy="355" r="1.35" fill="#464646"/>
<circle cx="586.2" cy="365.5" r="1.35" fill="#464646"/>
<circle cx="575.9" cy="355" r="1.35" fill="#464646"/>
<circle cx="586.5" cy="355.2" r="1.3" fill="#5a5050"/>
<polygon points="524.4,364.78 535.32,375.7 524.4,386.62 513.48,375.7" fill="url(#gOct)" />
<path d="M524.4,364.78 L524.4,375.7 M513.48,375.7 L535.32,375.7" stroke="#7fbfea" stroke-width="0.35" opacity="0.8"/>
<path d="M515.08,376.2 L524.4,384.62 L533.72,376.2" fill="none" stroke="#a8d5f2" stroke-width="0.5" opacity="0.6"/>
<circle cx="524.4" cy="365.4" r="1.35" fill="#464646"/>
<circle cx="534.7" cy="375.7" r="1.35" fill="#464646"/>
<circle cx="524.4" cy="386" r="1.35" fill="#464646"/>
<circle cx="514.1" cy="375.7" r="1.35" fill="#464646"/>
<circle cx="524.7" cy="375.9" r="1.3" fill="#5a5050"/>
<polygon points="545,364.78 555.92,375.7 545,386.62 534.08,375.7" fill="url(#gOct)" />
<path d="M545,364.78 L545,375.7 M534.08,375.7 L555.92,375.7" stroke="#7fbfea" stroke-width="0.35" opacity="0.8"/>
<path d="M535.68,376.2 L545,384.62 L554.32,376.2" fill="none" stroke="#a8d5f2" stroke-width="0.5" opacity="0.6"/>
<circle cx="545" cy="365.4" r="1.35" fill="#464646"/>
<circle cx="555.3" cy="375.7" r="1.35" fill="#464646"/>
<circle cx="545" cy="386" r="1.35" fill="#464646"/>
<circle cx="534.7" cy="375.7" r="1.35" fill="#464646"/>
<circle cx="545.3" cy="375.9" r="1.3" fill="#5a5050"/>
<polygon points="565.6,364.78 576.52,375.7 565.6,386.62 554.68,375.7" fill="url(#gOct)" />
<path d="M565.6,364.78 L565.6,375.7 M554.68,375.7 L576.52,375.7" stroke="#7fbfea" stroke-width="0.35" opacity="0.8"/>
<path d="M556.28,376.2 L565.6,384.62 L574.92,376.2" fill="none" stroke="#a8d5f2" stroke-width="0.5" opacity="0.6"/>
<circle cx="565.6" cy="365.4" r="1.35" fill="#464646"/>
<circle cx="575.9" cy="375.7" r="1.35" fill="#464646"/>
<circle cx="565.6" cy="386" r="1.35" fill="#464646"/>
<circle cx="555.3" cy="375.7" r="1.35" fill="#464646"/>
<circle cx="565.9" cy="375.9" r="1.3" fill="#5a5050"/>
<polygon points="586.2,364.78 597.12,375.7 586.2,386.62 575.28,375.7" fill="url(#gOct)" />
<path d="M586.2,364.78 L586.2,375.7 M575.28,375.7 L597.12,375.7" stroke="#7fbfea" stroke-width="0.35" opacity="0.8"/>
<path d="M576.88,376.2 L586.2,384.62 L595.52,376.2" fill="none" stroke="#a8d5f2" stroke-width="0.5" opacity="0.6"/>
<circle cx="586.2" cy="365.4" r="1.35" fill="#464646"/>
<circle cx="596.5" cy="375.7" r="1.35" fill="#464646"/>
<circle cx="586.2" cy="386" r="1.35" fill="#464646"/>
<circle cx="575.9" cy="375.7" r="1.35" fill="#464646"/>
<circle cx="586.5" cy="375.9" r="1.3" fill="#5a5050"/>
<circle cx="524.4" cy="334" r="10.5" fill="none" stroke="#f5b400" stroke-width="1"/>
<defs><clipPath id="zc528_268"><circle cx="528.8" cy="268.5" r="23.5"/></clipPath></defs>
<circle cx="528.8" cy="268.5" r="23.5" fill="#ffffff"/>
<g clip-path="url(#zc528_268)">
<polygon points="513.6,245.7 521.2,253.3 513.6,260.9 506,253.3" fill="#6eb0e3" />
<polygon points="513.6,245.7 521.2,253.3 513.6,253.3" fill="#78b7e7" />
<polygon points="513.6,260.9 521.2,268.5 513.6,276.1 506,268.5" fill="#6eb0e3" />
<polygon points="513.6,260.9 521.2,268.5 513.6,268.5" fill="#78b7e7" />
<polygon points="513.6,276.1 521.2,283.7 513.6,291.3 506,283.7" fill="#6eb0e3" />
<polygon points="513.6,276.1 521.2,283.7 513.6,283.7" fill="#78b7e7" />
<polygon points="528.8,245.7 536.4,253.3 528.8,260.9 521.2,253.3" fill="#6eb0e3" />
<polygon points="528.8,245.7 536.4,253.3 528.8,253.3" fill="#78b7e7" />
<polygon points="528.8,260.9 536.4,268.5 528.8,276.1 521.2,268.5" fill="#6eb0e3" />
<polygon points="528.8,260.9 536.4,268.5 528.8,268.5" fill="#78b7e7" />
<polygon points="528.8,276.1 536.4,283.7 528.8,291.3 521.2,283.7" fill="#6eb0e3" />
<polygon points="528.8,276.1 536.4,283.7 528.8,283.7" fill="#78b7e7" />
<polygon points="544,245.7 551.6,253.3 544,260.9 536.4,253.3" fill="#6eb0e3" />
<polygon points="544,245.7 551.6,253.3 544,253.3" fill="#78b7e7" />
<polygon points="544,260.9 551.6,268.5 544,276.1 536.4,268.5" fill="#6eb0e3" />
<polygon points="544,260.9 551.6,268.5 544,268.5" fill="#78b7e7" />
<polygon points="544,276.1 551.6,283.7 544,291.3 536.4,283.7" fill="#6eb0e3" />
<polygon points="544,276.1 551.6,283.7 544,283.7" fill="#78b7e7" />
</g>
<circle cx="506" cy="245.7" r="1.6" fill="#d8553a"/>
<circle cx="506" cy="253.3" r="0.8" fill="#4d4d4d"/>
<circle cx="506" cy="260.9" r="1.6" fill="#d8553a"/>
<circle cx="506" cy="268.5" r="0.8" fill="#4d4d4d"/>
<circle cx="506" cy="276.1" r="1.6" fill="#d8553a"/>
<circle cx="506" cy="283.7" r="0.8" fill="#4d4d4d"/>
<circle cx="506" cy="291.3" r="1.6" fill="#d8553a"/>
<circle cx="513.6" cy="245.7" r="0.8" fill="#4d4d4d"/>
<circle cx="513.6" cy="253.3" r="0.8" fill="#4d4d4d"/>
<circle cx="513.6" cy="260.9" r="0.8" fill="#4d4d4d"/>
<circle cx="513.6" cy="268.5" r="0.8" fill="#4d4d4d"/>
<circle cx="513.6" cy="276.1" r="0.8" fill="#4d4d4d"/>
<circle cx="513.6" cy="283.7" r="0.8" fill="#4d4d4d"/>
<circle cx="513.6" cy="291.3" r="0.8" fill="#4d4d4d"/>
<circle cx="521.2" cy="245.7" r="1.6" fill="#d8553a"/>
<circle cx="521.2" cy="253.3" r="0.8" fill="#4d4d4d"/>
<circle cx="521.2" cy="260.9" r="2.0" fill="#d8553a"/>
<circle cx="521.2" cy="268.5" r="0.8" fill="#4d4d4d"/>
<circle cx="521.2" cy="276.1" r="2.0" fill="#d8553a"/>
<circle cx="521.2" cy="283.7" r="0.8" fill="#4d4d4d"/>
<circle cx="521.2" cy="291.3" r="1.6" fill="#d8553a"/>
<circle cx="528.8" cy="245.7" r="0.8" fill="#4d4d4d"/>
<circle cx="528.8" cy="253.3" r="0.8" fill="#4d4d4d"/>
<circle cx="528.8" cy="260.9" r="0.8" fill="#4d4d4d"/>
<circle cx="528.8" cy="268.5" r="0.8" fill="#4d4d4d"/>
<circle cx="528.8" cy="276.1" r="0.8" fill="#4d4d4d"/>
<circle cx="528.8" cy="283.7" r="0.8" fill="#4d4d4d"/>
<circle cx="528.8" cy="291.3" r="0.8" fill="#4d4d4d"/>
<circle cx="536.4" cy="245.7" r="1.6" fill="#d8553a"/>
<circle cx="536.4" cy="253.3" r="0.8" fill="#4d4d4d"/>
<circle cx="536.4" cy="260.9" r="2.0" fill="#d8553a"/>
<circle cx="536.4" cy="268.5" r="0.8" fill="#4d4d4d"/>
<circle cx="536.4" cy="276.1" r="2.0" fill="#d8553a"/>
<circle cx="536.4" cy="283.7" r="0.8" fill="#4d4d4d"/>
<circle cx="536.4" cy="291.3" r="1.6" fill="#d8553a"/>
<circle cx="544" cy="245.7" r="0.8" fill="#4d4d4d"/>
<circle cx="544" cy="253.3" r="0.8" fill="#4d4d4d"/>
<circle cx="544" cy="260.9" r="0.8" fill="#4d4d4d"/>
<circle cx="544" cy="268.5" r="0.8" fill="#4d4d4d"/>
<circle cx="544" cy="276.1" r="0.8" fill="#4d4d4d"/>
<circle cx="544" cy="283.7" r="0.8" fill="#4d4d4d"/>
<circle cx="544" cy="291.3" r="0.8" fill="#4d4d4d"/>
<circle cx="551.6" cy="245.7" r="1.6" fill="#d8553a"/>
<circle cx="551.6" cy="253.3" r="0.8" fill="#4d4d4d"/>
<circle cx="551.6" cy="260.9" r="1.6" fill="#d8553a"/>
<circle cx="551.6" cy="268.5" r="0.8" fill="#4d4d4d"/>
<circle cx="551.6" cy="276.1" r="1.6" fill="#d8553a"/>
<circle cx="551.6" cy="283.7" r="0.8" fill="#4d4d4d"/>
<circle cx="551.6" cy="291.3" r="1.6" fill="#d8553a"/>
<circle cx="528.8" cy="268.5" r="23.5" fill="none" stroke="#f5b400" stroke-width="1.1"/>
<g transform="rotate(10 509 311)">
<path d="M507.8,310.36 Q505.8,309.56 503.2,308.44" fill="none" stroke="#5e5e5e" stroke-width="0.6"/>
<path d="M507.8,310.8 Q505.8,310.55 503.2,310.2" fill="none" stroke="#5e5e5e" stroke-width="0.6"/>
<path d="M507.8,311.24 Q505.8,311.54 503.2,311.96" fill="none" stroke="#5e5e5e" stroke-width="0.6"/>
<path d="M507.8,311.68 Q505.8,312.53 503.2,313.72" fill="none" stroke="#5e5e5e" stroke-width="0.6"/>
<circle cx="509" cy="311" r="1.9" fill="#505050"/>
</g>
<g transform="rotate(-10 523 299.5)">
<path d="M521.8,298.86 Q519.8,298.06 517.2,296.94" fill="none" stroke="#5e5e5e" stroke-width="0.6"/>
<path d="M521.8,299.3 Q519.8,299.05 517.2,298.7" fill="none" stroke="#5e5e5e" stroke-width="0.6"/>
<path d="M521.8,299.74 Q519.8,300.04 517.2,300.46" fill="none" stroke="#5e5e5e" stroke-width="0.6"/>
<path d="M521.8,300.18 Q519.8,301.03 517.2,302.22" fill="none" stroke="#5e5e5e" stroke-width="0.6"/>
<circle cx="523" cy="299.5" r="1.9" fill="#505050"/>
</g>
<g transform="rotate(0 542 299)">
<path d="M540.8,298.36 Q538.8,297.56 536.2,296.44" fill="none" stroke="#5e5e5e" stroke-width="0.6"/>
<path d="M540.8,298.8 Q538.8,298.55 536.2,298.2" fill="none" stroke="#5e5e5e" stroke-width="0.6"/>
<path d="M540.8,299.24 Q538.8,299.54 536.2,299.96" fill="none" stroke="#5e5e5e" stroke-width="0.6"/>
<path d="M540.8,299.68 Q538.8,300.53 536.2,301.72" fill="none" stroke="#5e5e5e" stroke-width="0.6"/>
<circle cx="542" cy="299" r="1.9" fill="#505050"/>
</g>
<g transform="rotate(25 554 305.5)">
<path d="M552.8,304.86 Q550.8,304.06 548.2,302.94" fill="none" stroke="#5e5e5e" stroke-width="0.6"/>
<path d="M552.8,305.3 Q550.8,305.05 548.2,304.7" fill="none" stroke="#5e5e5e" stroke-width="0.6"/>
<path d="M552.8,305.74 Q550.8,306.04 548.2,306.46" fill="none" stroke="#5e5e5e" stroke-width="0.6"/>
<path d="M552.8,306.18 Q550.8,307.03 548.2,308.22" fill="none" stroke="#5e5e5e" stroke-width="0.6"/>
<circle cx="554" cy="305.5" r="1.9" fill="#505050"/>
</g>
<g transform="rotate(-10 560 301)">
<path d="M558.8,300.36 Q556.8,299.56 554.2,298.44" fill="none" stroke="#5e5e5e" stroke-width="0.6"/>
<path d="M558.8,300.8 Q556.8,300.55 554.2,300.2" fill="none" stroke="#5e5e5e" stroke-width="0.6"/>
<path d="M558.8,301.24 Q556.8,301.54 554.2,301.96" fill="none" stroke="#5e5e5e" stroke-width="0.6"/>
<path d="M558.8,301.68 Q556.8,302.53 554.2,303.72" fill="none" stroke="#5e5e5e" stroke-width="0.6"/>
<circle cx="560" cy="301" r="1.9" fill="#505050"/>
</g>
<circle cx="569.5" cy="302.5" r="1.6" fill="#ffe100" stroke="#f2c200" stroke-width="0.4"/>
<g transform="rotate(20 566 307)">
<path d="M564.8,306.36 Q562.8,305.56 560.2,304.44" fill="none" stroke="#5e5e5e" stroke-width="0.6"/>
<path d="M564.8,306.8 Q562.8,306.55 560.2,306.2" fill="none" stroke="#5e5e5e" stroke-width="0.6"/>
<path d="M564.8,307.24 Q562.8,307.54 560.2,307.96" fill="none" stroke="#5e5e5e" stroke-width="0.6"/>
<path d="M564.8,307.68 Q562.8,308.53 560.2,309.72" fill="none" stroke="#5e5e5e" stroke-width="0.6"/>
<circle cx="566" cy="307" r="1.9" fill="#505050"/>
</g>
<g transform="rotate(10 595 298.5)">
<path d="M593.8,297.86 Q591.8,297.06 589.2,295.94" fill="none" stroke="#5e5e5e" stroke-width="0.6"/>
<path d="M593.8,298.3 Q591.8,298.05 589.2,297.7" fill="none" stroke="#5e5e5e" stroke-width="0.6"/>
<path d="M593.8,298.74 Q591.8,299.04 589.2,299.46" fill="none" stroke="#5e5e5e" stroke-width="0.6"/>
<path d="M593.8,299.18 Q591.8,300.03 589.2,301.22" fill="none" stroke="#5e5e5e" stroke-width="0.6"/>
<circle cx="595" cy="298.5" r="1.9" fill="#505050"/>
</g>
<g transform="rotate(30 599 305.5)">
<path d="M597.8,304.86 Q595.8,304.06 593.2,302.94" fill="none" stroke="#5e5e5e" stroke-width="0.6"/>
<path d="M597.8,305.3 Q595.8,305.05 593.2,304.7" fill="none" stroke="#5e5e5e" stroke-width="0.6"/>
<path d="M597.8,305.74 Q595.8,306.04 593.2,306.46" fill="none" stroke="#5e5e5e" stroke-width="0.6"/>
<path d="M597.8,306.18 Q595.8,307.03 593.2,308.22" fill="none" stroke="#5e5e5e" stroke-width="0.6"/>
<circle cx="599" cy="305.5" r="1.9" fill="#505050"/>
</g>
<rect x="51.5" y="447.5" width="176.5" height="214.0" fill="#fdf8ee"/>
<rect x="228" y="447.5" width="231.60000000000002" height="214.0" fill="#ededed"/>
<rect x="459.6" y="447.5" width="172.89999999999998" height="214.0" fill="#fdf8ee"/>
<defs><clipPath id="clipE"><rect x="52" y="448" width="580" height="213"/></clipPath></defs><g clip-path="url(#clipE)">
<polyline points="51.5,631.16 52.03,640.86 52.56,611.15 53.08,641.77 53.61,626.53 54.14,620.45 54.67,620.28 55.2,618.36 55.72,625.67 56.25,636.2 56.78,633.84 57.31,634.74 57.84,614.36 58.36,614.24 58.89,642.46 59.42,630.16 59.95,648.13 60.48,637.82 61,616.64 61.53,635.43 62.06,628.37 62.59,624.65 63.12,615.74 63.64,622.41 64.17,621.06 64.7,629.91 65.23,623.98 65.76,637.58 66.29,617.19 66.81,628.76 67.34,630.41 67.87,617.67 68.4,614.78 68.93,633.92 69.45,629.32 69.98,623.99 70.51,631.16 71.04,620.43 71.57,629.63 72.09,620.78 72.62,635.38 73.15,635.21 73.68,623.77 74.21,626.44 74.73,616.01 75.26,622.97 75.79,614.29 76.32,624.53 76.85,625.08 77.37,620.97 77.9,624.92 78.43,633.33 78.96,633.95 79.49,611.33 80.01,632.04 80.54,605.75 81.07,614.28 81.6,619.3 82.13,622.05 82.65,612.06 83.18,616.81 83.71,622.41 84.24,615.44 84.77,615.12 85.29,626.58 85.82,630.47 86.35,621.08 86.88,623.72 87.41,622.86 87.93,619.51 88.46,617.6 88.99,612.85 89.52,628.79 90.05,621.3 90.57,620.21 91.1,623.43 91.63,624.52 92.16,633.19 92.69,617.31 93.21,616.5 93.74,622.09 94.27,615.89 94.8,631.99 95.33,629.43 95.86,622.37 96.38,620.05 96.91,628.36 97.44,631.59 97.97,627.61 98.5,620.24 99.02,607.67 99.55,630.73 100.08,618.74 100.61,615.11 101.14,630.35 101.66,624.52 102.19,609.13 102.72,619.78 103.25,616.98 103.78,627.28 104.3,601.95 104.83,615.38 105.36,617.51 105.89,631.67 106.42,611.16 106.94,590.99 107.47,607.81 108,622.44 108.53,626.23 109.06,633.95 109.58,622.38 110.11,611.81 110.64,625.98 111.17,618.72 111.7,617.21 112.22,619.59 112.75,632.26 113.28,616.25 113.81,611.11 114.34,617 114.86,618.91 115.39,612.17 115.92,611.17 116.45,617.43 116.98,630.3 117.5,624.14 118.03,622.28 118.56,627.94 119.09,599.1 119.62,603.67 120.14,610.93 120.67,606.38 121.2,607.91 121.73,615.28 122.26,603.2 122.79,609.88 123.31,595.77 123.84,605.36 124.37,617.75 124.9,609.11 125.43,613.17 125.95,619.08 126.48,608.39 127.01,618.36 127.54,614.23 128.07,627.73 128.59,607.69 129.12,600.4 129.65,604.54 130.18,609.59 130.71,620.17 131.23,612.86 131.76,612.25 132.29,614.19 132.82,626.44 133.35,610.77 133.87,628.96 134.4,604.74 134.93,605.95 135.46,621.72 135.99,619.51 136.51,608.28 137.04,615.29 137.57,610.12 138.1,623.38 138.63,622.15 139.15,609.87 139.68,618.58 140.21,611.2 140.74,613.92 141.27,614.73 141.79,609.79 142.32,616.08 142.85,618.21 143.38,624.46 143.91,625.78 144.43,613.27 144.96,601.99 145.49,611.48 146.02,616.06 146.55,613.8 147.07,617.37 147.6,619.32 148.13,612.68 148.66,618.42 149.19,605.45 149.71,622.3 150.24,622.09 150.77,602.79 151.3,603.37 151.83,608.81 152.36,625.64 152.88,618.8 153.41,598.34 153.94,612.15 154.47,616.89 155,620.24 155.52,617.38 156.05,609.46 156.58,618.07 157.11,608.7 157.64,593.83 158.16,606 158.69,605.26 159.22,619.1 159.75,620.1 160.28,602.49 160.8,614.1 161.33,613.15 161.86,599.85 162.39,594.1 162.92,610.2 163.44,612.56 163.97,607.8 164.5,587.54 165.03,610.7 165.56,604.57 166.08,602.68 166.61,607.26 167.14,601.75 167.67,615 168.2,610.46 168.72,605.71 169.25,613.18 169.78,609.97 170.31,594.74 170.84,606.56 171.36,608.45 171.89,592.86 172.42,601.57 172.95,612.82 173.48,602.61 174,621.73 174.53,623.77 175.06,606.22 175.59,617.32 176.12,627.22 176.64,607.78 177.17,603.09 177.7,607.93 178.23,599 178.76,597.57 179.29,611.79 179.81,607.27 180.34,621.52 180.87,614.5 181.4,603.36 181.93,607.45 182.45,607.09 182.98,602.8 183.51,610.58 184.04,612.22 184.57,609.03 185.09,614.16 185.62,620.21 186.15,611.71 186.68,601.44 187.21,603.47 187.73,609.27 188.26,619.57 188.79,620.32 189.32,603.34 189.85,608.53 190.37,613.39 190.9,621.41 191.43,622.74 191.96,602.46 192.49,606.99 193.01,602.04 193.54,615.58 194.07,612.61 194.6,603.55 195.13,604.95 195.65,614.52 196.18,619.32 196.71,603.57 197.24,606.86 197.77,609.69 198.29,608.8 198.82,611.1 199.35,599.38 199.88,602.6 200.41,588.15 200.93,607.57 201.46,616.89 201.99,584.49 202.52,599.75 203.05,611.47 203.57,601.4 204.1,586.49 204.63,609.75 205.16,591.5 205.69,616.27 206.21,597.17 206.74,596.59 207.27,602.68 207.8,602.22 208.33,612.71 208.86,604.99 209.38,600.09 209.91,613.55 210.44,607.54 210.97,594.61 211.5,601.26 212.02,600.2 212.55,600.99 213.08,607.73 213.61,606.9 214.14,607.25 214.66,614.49 215.19,600.65 215.72,606.78 216.25,609.89 216.78,593.46 217.3,601.28 217.83,617.13 218.36,594.66 218.89,613.36 219.42,593.58 219.94,606.1 220.47,592.37 221,595.22 221.5,595.01 222.16,592.81 222.82,589.14 223.48,589.36 224.15,596.02 224.81,584.88 225.47,582.39 226.13,578.43 226.79,564.44 227.45,561.38 228.11,555.88 228.77,553.24 229.44,553.06 230.1,542.6 230.76,541.98 231.42,527.63 232.08,521.37 232.74,513.01 233.4,511.71 234.06,511.53 234.73,510.18 235.39,498.52 236.05,505.03 236.71,496.3 237.37,489.66 238.03,485.24 238.69,495.37 239.35,482.31 240.02,473.17 240.68,469.08 241.34,481.19 242,469.11 242.5,471.71 242.92,470.24 243.34,469.11 243.75,456.15 244.17,471.08 244.59,457.93 245.01,474.48 245.42,473.86 245.84,474.97 246.26,473.72 246.68,470.84 247.09,466.44 247.51,468.13 247.93,478.23 248.35,467.94 248.76,474.57 249.18,462.59 249.6,468.05 250.02,468.91 250.44,472.77 250.85,470.97 251.27,470.66 251.69,469.15 252.11,472.61 252.52,464.83 252.94,472.22 253.36,478.49 253.78,467.75 254.19,470.71 254.61,486.16 255.03,465.59 255.45,462.54 255.86,468.75 256.28,481.07 256.7,481.13 257.12,463.62 257.54,472.2 257.95,468.63 258.37,467.17 258.79,458.26 259.21,473.5 259.62,464.28 260.04,470.43 260.46,468.34 260.88,478.54 261.29,476.32 261.71,463.72 262.13,469.11 262.55,475.12 262.96,461.91 263.38,467.16 263.8,470.64 264.22,460.22 264.64,461.91 265.05,459.01 265.47,469.3 265.89,464.46 266.31,472.25 266.72,468.32 267.14,469.93 267.56,466.92 267.98,472.8 268.39,468.35 268.81,463.32 269.23,474.43 269.65,473.08 270.06,479.31 270.48,466.65 270.9,464.36 271.32,460.36 271.74,451.69 272.15,462.04 272.57,472.82 272.99,466.06 273.41,458.68 273.82,476.59 274.24,469.56 274.66,471.05 275.08,471.01 275.49,472.48 275.91,484.58 276.33,464.35 276.75,474.07 277.16,472.94 277.58,479.29 278,467.08 278.42,480.01 278.84,472.54 279.25,471.64 279.67,464.54 280.09,472.34 280.51,470.92 280.92,460.19 281.34,466.14 281.76,466.66 282.18,462.88 282.59,469.41 283.01,461.01 283.43,464.57 283.85,469.79 284.26,463.7 284.68,459.35 285.1,474.26 285.52,466.96 285.94,469.83 286.35,469.98 286.77,462.01 287.19,474.4 287.61,468.86 288.02,472.1 288.44,462.26 288.86,462.48 289.28,468 289.69,480.27 290.11,469.57 290.53,480.82 290.95,473.16 291.36,472.82 291.78,466.92 292.2,469.83 292.62,479.57 293.04,476.87 293.45,466.58 293.87,467.8 294.29,477.38 294.71,454.08 295.12,474.85 295.54,464.71 295.96,473.73 296.38,478.58 296.79,475.86 297.21,471.8 297.63,470.92 298.05,469.17 298.46,466.6 298.88,476.08 299.3,476.75 299.72,472.8 300.14,463.73 300.55,468.98 300.97,474.46 301.39,471.55 301.81,463.89 302.22,476.02 302.64,482.8 303.06,462.02 303.48,468.17 303.89,477.21 304.31,466.09 304.73,466.16 305.15,467.51 305.56,472.94 305.98,467.95 306.4,476.16 306.82,460.96 307.24,475.62 307.65,474.04 308.07,471.08 308.49,474.87 308.91,473.03 309.32,478.72 309.74,468.14 310.16,476.47 310.58,463.26 310.99,464.17 311.41,470.05 311.83,463.23 312.25,466.84 312.66,463.38 313.08,468.41 313.5,472.14 313.92,475.77 314.34,461.15 314.75,471.36 315.17,478.06 315.59,480.66 316.01,481.3 316.42,464.35 316.84,469.54 317.26,474.98 317.68,476.87 318.09,473.58 318.51,472.92 318.93,472.62 319.35,466.45 319.76,470.93 320.18,473.72 320.6,467.48 321.02,476.97 321.44,454.63 321.85,467.16 322.27,478.09 322.69,474.03 323.11,477.39 323.52,469.65 323.94,462.61 324.36,465.77 324.78,476.6 325.19,458.53 325.61,463.16 326.03,459.53 326.45,465.69 326.86,467.49 327.28,473.05 327.7,464.73 328.12,479.23 328.54,474.12 328.95,475.47 329.37,465.45 329.79,462.95 330.21,472.28 330.62,482.18 331.04,471.13 331.46,465.97 331.88,471.51 332.29,468.27 332.71,466.41 333.13,461.42 333.55,470.92 333.96,479.48 334.38,476.76 334.8,475.43 335.22,471.13 335.64,473.04 336.05,478.08 336.47,470.95 336.89,474.07 337.31,467.21 337.72,475.67 338.14,468.71 338.56,478.17 338.98,479.64 339.39,479.13 339.81,478.49 340.23,471.21 340.65,471.11 341.06,472.04 341.48,472.34 341.9,466.8 342.32,471.09 342.74,470.98 343.15,470.07 343.57,477.23 343.99,471.86 344.41,477.04 344.82,482.93 345.24,483.85 345.66,474.15 346.08,480.64 346.49,474.56 346.91,486.22 347.33,482.52 347.75,478.23 348.16,471.81 348.58,471.2 349,478.28 349.42,472.89 349.84,471.56 350.25,476.64 350.67,466.89 351.09,462.21 351.51,467.22 351.92,466.01 352.34,471.46 352.76,468.42 353.18,463.41 353.59,460.24 354.01,480.17 354.43,478.15 354.85,467.3 355.26,474.65 355.68,478.34 356.1,476.55 356.52,470.63 356.94,481.76 357.35,474.97 357.77,462.65 358.19,461.18 358.61,467.15 359.02,476.04 359.44,479.38 359.86,471.87 360.28,479.36 360.69,475.48 361.11,469.97 361.53,466.17 361.95,467.47 362.36,471.67 362.78,478.39 363.2,476.41 363.62,463.08 364.04,463.97 364.45,475.31 364.87,472.19 365.29,466.5 365.71,475.72 366.12,480.45 366.54,476.77 366.96,473.49 367.38,479.99 367.79,471.91 368.21,469.65 368.63,466.68 369.05,481.72 369.46,482.59 369.88,470.16 370.3,473.47 370.72,464.58 371.14,475.37 371.55,484.09 371.97,476.23 372.39,472.71 372.81,470.64 373.22,468.46 373.64,459.38 374.06,472.08 374.48,467.02 374.89,472.39 375.31,472.58 375.73,467.3 376.15,470.13 376.56,471.7 376.98,472.72 377.4,466.97 377.82,466.43 378.24,474.07 378.65,472.77 379.07,473.77 379.49,473.66 379.91,476.24 380.32,472.15 380.74,486.35 381.16,469.84 381.58,469.44 381.99,482.51 382.41,472.93 382.83,469.98 383.25,475.95 383.66,461.23 384.08,479.86 384.5,473.72 384.92,475.13 385.34,469.74 385.75,470.66 386.17,475.03 386.59,473.04 387.01,474.7 387.42,467.54 387.84,485.76 388.26,463 388.68,465.18 389.09,472.5 389.51,471.74 389.93,475.51 390.35,468.12 390.76,471.12 391.18,468.93 391.6,473.63 392.02,475.64 392.44,477.07 392.85,474.91 393.27,468.78 393.69,475.55 394.11,468.91 394.52,464.77 394.94,476.99 395.36,478.64 395.78,480.3 396.19,480.77 396.61,469.31 397.03,471.2 397.45,476.27 397.86,475.07 398.28,476.79 398.7,467.53 399.12,472.61 399.54,477.45 399.95,483.85 400.37,466.22 400.79,481.63 401.21,469.96 401.62,464.07 402.04,479.46 402.46,466.74 402.88,466.58 403.29,476.44 403.71,477.77 404.13,471.37 404.55,466.04 404.96,461.55 405.38,471 405.8,457.92 406.22,463.73 406.64,477.89 407.05,474.85 407.47,477.76 407.89,472.73 408.31,463.5 408.72,473.63 409.14,462.53 409.56,473.93 409.98,482.21 410.39,467.1 410.81,476.99 411.23,471.97 411.65,470.31 412.06,460.64 412.48,464.71 412.9,478.38 413.32,462.48 413.74,468.06 414.15,467.08 414.57,461.91 414.99,477.11 415.41,471.09 415.82,471.04 416.24,478.42 416.66,463.27 417.08,490.67 417.49,471.75 417.91,468.14 418.33,476.65 418.75,474.77 419.16,467.9 419.58,468.79 420,477.94 420.4,459.8 420.82,451.98 421.25,481.38 421.67,484.67 422.1,490.16 422.52,471.96 422.95,474.78 423.38,472.99 423.8,483.9 424.22,481.38 424.65,475.38 425.07,478.52 425.5,483.47 425.92,476.45 426.35,467.99 426.77,474.89 427.2,472.7 427.62,463.74 428.05,461.51 428.47,476.92 428.9,468.13 429.32,477.85 429.75,468.76 430.18,481.15 430.6,480.86 431.02,474.9 431.45,466.9 431.88,462.98 432.3,492.56 432.72,478.21 433.15,492.27 433.57,476.23 434,470.2 434.43,478.4 434.85,469.14 435.27,477.31 435.7,489.71 436.12,483.14 436.55,498.91 436.97,480.86 437.4,481.09 437.82,472.56 438.25,472.43 438.68,479.35 439.1,472.78 439.52,476.57 439.95,475.83 440.38,470.58 440.8,493.32 441.23,464.21 441.65,476.62 442.07,482.4 442.5,482.91 442.93,472.59 443.35,469.48 443.77,494.45 444.2,492.56 444.62,479.85 445.05,480.32 445.48,481.66 445.9,472.38 446.32,479.47 446.75,488.11 447.18,484.61 447.6,473.71 448.02,485.7 448.45,476.25 448.88,470.63 449.3,486.83 449.73,486.57 450.15,491.36 450.57,475.36 451,488.08 451.5,479.9 452.16,484.46 452.82,483.53 453.48,492.53 454.14,497.01 454.8,502.55 455.46,511.99 456.12,511.08 456.78,526.67 457.44,524.89 458.1,535.25 458.76,546.15 459.42,551.85 460.08,553.04 460.74,569.48 461.4,570.46 462.06,571.78 462.72,582.37 463.38,584.59 464.04,594.71 464.7,592.67 465.36,605.01 466.02,600.96 466.68,613.75 467.34,607.6 468,617.43 468.5,614.02 469.03,612.11 469.56,608.03 470.09,589.76 470.62,613.88 471.15,622.63 471.67,623.75 472.2,610.02 472.73,634.39 473.26,631.41 473.79,612.07 474.32,612.29 474.85,621.75 475.38,611.42 475.91,614.66 476.44,622.68 476.97,622.43 477.5,608.11 478.02,617.42 478.55,608.24 479.08,612.32 479.61,612.92 480.14,607.52 480.67,617.96 481.2,610.47 481.73,611.74 482.26,594.51 482.79,600.34 483.32,606.83 483.84,614.07 484.37,603.93 484.9,625.74 485.43,611.88 485.96,612.8 486.49,611.45 487.02,614.56 487.55,621.59 488.08,609.85 488.61,622.83 489.14,610.76 489.67,612.91 490.19,606.05 490.72,606.23 491.25,613.34 491.78,609.31 492.31,620.25 492.84,590.37 493.37,610.53 493.9,610.67 494.43,624.51 494.96,621.02 495.49,613.66 496.01,621.76 496.54,614.81 497.07,599.23 497.6,609.8 498.13,617.76 498.66,602.05 499.19,619.38 499.72,608.76 500.25,600.44 500.78,608.95 501.31,591.87 501.83,598.3 502.36,595.46 502.89,610.39 503.42,595.31 503.95,591.87 504.48,608.25 505.01,603.09 505.54,600.58 506.07,601.08 506.6,613.88 507.13,607.12 507.66,598.9 508.18,629.26 508.71,608.58 509.24,622.69 509.77,616.16 510.3,617.95 510.83,597.19 511.36,599.92 511.89,610.12 512.42,602.09 512.95,605.15 513.48,603.09 514,593.34 514.53,599.86 515.06,616.15 515.59,598.37 516.12,602.5 516.65,604.47 517.18,608.95 517.71,599.96 518.24,591.57 518.77,602.76 519.3,594.92 519.83,610.05 520.35,591.05 520.88,600.76 521.41,596.79 521.94,609.41 522.47,601.1 523,606.31 523.53,595.58 524.06,595.97 524.59,591.88 525.12,597.79 525.65,596.21 526.17,593.26 526.7,587.57 527.23,594.14 527.76,596.78 528.29,592.09 528.82,590.54 529.35,589.39 529.88,600.24 530.41,594.07 530.94,592.16 531.47,594.87 532,595.76 532.52,597.09 533.05,601.16 533.58,585.5 534.11,599 534.64,590.87 535.17,601.09 535.7,612.27 536.23,585.01 536.76,590.17 537.29,596.89 537.82,581.81 538.34,621.92 538.87,595.12 539.4,614.1 539.93,598.85 540.46,610.44 540.99,607.18 541.52,596.01 542.05,601.94 542.58,590.47 543.11,590.66 543.64,608.12 544.17,592.9 544.69,585.39 545.22,616.08 545.75,590.7 546.28,597.43 546.81,608.76 547.34,590.2 547.87,590.03 548.4,612.18 548.93,598.1 549.46,598.88 549.99,593.41 550.51,601.52 551.04,582.5 551.57,597.45 552.1,604.68 552.63,603.47 553.16,590.17 553.69,600.11 554.22,612.98 554.75,594.93 555.28,600.14 555.81,599.31 556.33,581.06 556.86,602.27 557.39,588.91 557.92,590.34 558.45,597 558.98,603.85 559.51,593.07 560.04,603.87 560.57,597.34 561.1,600.07 561.63,584.78 562.16,601.19 562.68,581.81 563.21,572.52 563.74,585.06 564.27,598.67 564.8,596.09 565.33,605.21 565.86,597.15 566.39,596.64 566.92,596.57 567.45,587.71 567.98,590.41 568.5,589.92 569.03,596.88 569.56,586.86 570.09,591.75 570.62,597.28 571.15,593.92 571.68,590.55 572.21,590.51 572.74,581.86 573.27,580.68 573.8,585.34 574.33,600.35 574.85,598.54 575.38,594.31 575.91,597.34 576.44,598.82 576.97,571.06 577.5,587.45 578.03,600.52 578.56,608.54 579.09,593.57 579.62,605 580.15,603.49 580.67,595.21 581.2,583.47 581.73,582.7 582.26,590.76 582.79,593.62 583.32,594.95 583.85,596.63 584.38,596.83 584.91,592 585.44,595.48 585.97,593.02 586.5,574.85 587.02,580.75 587.55,594.93 588.08,599.05 588.61,592.84 589.14,591.41 589.67,592.73 590.2,599.31 590.73,596.47 591.26,577.52 591.79,597.23 592.32,600.9 592.84,595.5 593.37,614.13 593.9,582.8 594.43,579.92 594.96,620.61 595.49,586.91 596.02,575.28 596.55,590.4 597.08,602.89 597.61,589.26 598.14,590.66 598.67,599.41 599.19,611.26 599.72,600.25 600.25,596.63 600.78,589.73 601.31,598.69 601.84,616.66 602.37,581.24 602.9,590.56 603.43,588.49 603.96,599.46 604.49,598.98 605.01,590.74 605.54,589.57 606.07,603.4 606.6,597.12 607.13,604.88 607.66,590.78 608.19,601.99 608.72,586.94 609.25,609.29 609.78,586.72 610.31,586.76 610.83,595.83 611.36,587.15 611.89,583.86 612.42,594.7 612.95,584.17 613.48,607.16 614.01,583.78 614.54,597.33 615.07,583.41 615.6,575.54 616.13,569.43 616.66,589.09 617.18,576.35 617.71,589.68 618.24,582.4 618.77,588.08 619.3,588.69 619.83,604.06 620.36,586.55 620.89,577.36 621.42,567.31 621.95,596.8 622.48,590.85 623,603.36 623.53,577.12 624.06,589.72 624.59,583.78 625.12,594.55 625.65,585.88 626.18,602.55 626.71,587.12 627.24,588.25 627.77,584.09 628.3,595.07 628.83,599.98 629.35,594.75 629.88,584.67 630.41,579.21 630.94,581.18 631.47,592.68 632,600.68" fill="none" stroke="#f76a64" stroke-width="0.95" stroke-linejoin="round" />
</g>
<polyline points="51.3,470.7 218.2,470.7 234.6,644.2 451.1,644.2 467,470.4 632.6,470.4" fill="none" stroke="#8c97f7" stroke-width="0.9" stroke-linejoin="round" />
<rect x="51.5" y="447.5" width="581.0" height="214.0" fill="none" stroke="#3c3c3c" stroke-width="0.9"/>
<line x1="48.5" y1="645.9" x2="51.5" y2="645.9" stroke="#3c3c3c" stroke-width="0.7" />
<text x="44.5" y="648.78" font-size="8" text-anchor="end" fill="#1a1a1a"  stroke="#1a1a1a" stroke-width="0.12">34</text>
<line x1="49.7" y1="612.92" x2="51.5" y2="612.92" stroke="#3c3c3c" stroke-width="0.7" />
<line x1="48.5" y1="579.94" x2="51.5" y2="579.94" stroke="#3c3c3c" stroke-width="0.7" />
<text x="44.5" y="582.82" font-size="8" text-anchor="end" fill="#1a1a1a"  stroke="#1a1a1a" stroke-width="0.12">51</text>
<line x1="49.7" y1="546.96" x2="51.5" y2="546.96" stroke="#3c3c3c" stroke-width="0.7" />
<line x1="48.5" y1="513.98" x2="51.5" y2="513.98" stroke="#3c3c3c" stroke-width="0.7" />
<text x="44.5" y="516.86" font-size="8" text-anchor="end" fill="#1a1a1a"  stroke="#1a1a1a" stroke-width="0.12">68</text>
<line x1="49.7" y1="481" x2="51.5" y2="481" stroke="#3c3c3c" stroke-width="0.7" />
<line x1="48.5" y1="448.02" x2="51.5" y2="448.02" stroke="#3c3c3c" stroke-width="0.7" />
<text x="44.5" y="450.9" font-size="8" text-anchor="end" fill="#1a1a1a"  stroke="#1a1a1a" stroke-width="0.12">85</text>
<line x1="632.5" y1="658.4" x2="634.3" y2="658.4" stroke="#3c3c3c" stroke-width="0.7" />
<line x1="632.5" y1="644" x2="635.5" y2="644" stroke="#3c3c3c" stroke-width="0.7" />
<text x="639.3" y="646.88" font-size="8" text-anchor="start" fill="#1a1a1a"  stroke="#1a1a1a" stroke-width="0.12">25</text>
<line x1="632.5" y1="629.6" x2="634.3" y2="629.6" stroke="#3c3c3c" stroke-width="0.7" />
<line x1="632.5" y1="615.2" x2="635.5" y2="615.2" stroke="#3c3c3c" stroke-width="0.7" />
<text x="639.3" y="618.08" font-size="8" text-anchor="start" fill="#1a1a1a"  stroke="#1a1a1a" stroke-width="0.12">30</text>
<line x1="632.5" y1="600.8" x2="634.3" y2="600.8" stroke="#3c3c3c" stroke-width="0.7" />
<line x1="632.5" y1="586.4" x2="635.5" y2="586.4" stroke="#3c3c3c" stroke-width="0.7" />
<text x="639.3" y="589.28" font-size="8" text-anchor="start" fill="#1a1a1a"  stroke="#1a1a1a" stroke-width="0.12">35</text>
<line x1="632.5" y1="572" x2="634.3" y2="572" stroke="#3c3c3c" stroke-width="0.7" />
<line x1="632.5" y1="557.6" x2="635.5" y2="557.6" stroke="#3c3c3c" stroke-width="0.7" />
<text x="639.3" y="560.48" font-size="8" text-anchor="start" fill="#1a1a1a"  stroke="#1a1a1a" stroke-width="0.12">40</text>
<line x1="632.5" y1="543.2" x2="634.3" y2="543.2" stroke="#3c3c3c" stroke-width="0.7" />
<line x1="632.5" y1="528.8" x2="635.5" y2="528.8" stroke="#3c3c3c" stroke-width="0.7" />
<text x="639.3" y="531.68" font-size="8" text-anchor="start" fill="#1a1a1a"  stroke="#1a1a1a" stroke-width="0.12">45</text>
<line x1="632.5" y1="514.4" x2="634.3" y2="514.4" stroke="#3c3c3c" stroke-width="0.7" />
<line x1="632.5" y1="500" x2="635.5" y2="500" stroke="#3c3c3c" stroke-width="0.7" />
<text x="639.3" y="502.88" font-size="8" text-anchor="start" fill="#1a1a1a"  stroke="#1a1a1a" stroke-width="0.12">50</text>
<line x1="632.5" y1="485.6" x2="634.3" y2="485.6" stroke="#3c3c3c" stroke-width="0.7" />
<line x1="632.5" y1="471.2" x2="635.5" y2="471.2" stroke="#3c3c3c" stroke-width="0.7" />
<text x="639.3" y="474.08" font-size="8" text-anchor="start" fill="#1a1a1a"  stroke="#1a1a1a" stroke-width="0.12">55</text>
<line x1="632.5" y1="456.8" x2="634.3" y2="456.8" stroke="#3c3c3c" stroke-width="0.7" />
<text transform="translate(22.4,547.4) rotate(-90)" x="0" y="2.88" font-size="8" text-anchor="middle" fill="#1a1a1a" stroke="#1a1a1a" stroke-width="0.12">Stress (MPa)</text>
<line x1="22.4" y1="575" x2="22.4" y2="582.5" stroke="#f7645c" stroke-width="0.9" />
<text transform="translate(662,548) rotate(-90)" x="0" y="2.88" font-size="8" text-anchor="middle" fill="#1a1a1a" stroke="#1a1a1a" stroke-width="0.12">Temperature (°C)</text>
<line x1="661.7" y1="582.5" x2="661.7" y2="590" stroke="#8c97f7" stroke-width="0.9" />
<text x="20" y="438" font-size="9.5" font-weight="bold" fill="#000" stroke="#000" stroke-width="0.12">e</text>
<text x="49.6" y="442.88" font-size="8" text-anchor="start" fill="#1a1a1a"  stroke="#1a1a1a" stroke-width="0.12">Cycling mode</text>
<text x="131.4" y="459.18" font-size="8" text-anchor="middle" fill="#f5a33a"  stroke="#f5a33a" stroke-width="0.12">Illumination</text>
<text x="338.7" y="458.58" font-size="8" text-anchor="middle" fill="#1a1a1a"  stroke="#1a1a1a" stroke-width="0.12">Dark</text>
<text x="458" y="457.78" font-size="8" text-anchor="middle" fill="#f5a33a"  stroke="#f5a33a" stroke-width="0.12">Severe ion migration</text>
<line x1="425" y1="461.4" x2="502" y2="461.4" stroke="#f5a33a" stroke-width="0.8" stroke-dasharray="2.6 1.8"/>
<polygon points="501,459.6 505.5,461.4 501,463.2" fill="#f5a33a" />
<text x="555.6" y="459.18" font-size="8" text-anchor="middle" fill="#f5a33a"  stroke="#f5a33a" stroke-width="0.12">Illumination</text>
<text x="73.1" y="488.38" font-size="8" text-anchor="start" fill="#1a1a1a"  stroke="#1a1a1a" stroke-width="0.12">Cubic-like phase</text>
<text x="286.8" y="488.08" font-size="8" text-anchor="start" fill="#1a1a1a"  stroke="#1a1a1a" stroke-width="0.12">Orthorhombic phase</text>
<text x="509.3" y="487.98" font-size="8" text-anchor="start" fill="#1a1a1a"  stroke="#1a1a1a" stroke-width="0.12">Cubic-like phase</text>
<text x="576" y="541.98" font-size="8" text-anchor="start" fill="#1a1a1a"  stroke="#1a1a1a" stroke-width="0.12">Degradation</text>
<text x="119" y="655.28" font-size="8" text-anchor="middle" fill="#1a1a1a"  stroke="#1a1a1a" stroke-width="0.12">Gradual strain release</text>
<text x="337" y="654.58" font-size="8" text-anchor="middle" fill="#1a1a1a"  stroke="#1a1a1a" stroke-width="0.12">Strain reformation</text>
<text x="553.7" y="655.08" font-size="8" text-anchor="middle" fill="#1a1a1a"  stroke="#1a1a1a" stroke-width="0.12">Gradual strain release</text>
<polyline points="79,522 86,584" fill="none" stroke="#f5b400" stroke-width="0.9" stroke-linejoin="round" />
<polyline points="123,528 106,580" fill="none" stroke="#f5b400" stroke-width="0.9" stroke-linejoin="round" />
<path d="M78.6,634.9 H169.8 V642 H81.1 L78.6,639.8 Z" fill="url(#gSub)"/>
<polygon points="96.9,553.05 106.65,564.5 96.9,575.95 87.15,564.5" fill="url(#gOct)" />
<path d="M96.9,553.05 L96.9,564.5 M87.15,564.5 L106.65,564.5" stroke="#7fbfea" stroke-width="0.35" opacity="0.8"/>
<path d="M88.75,565 L96.9,573.95 L105.05,565" fill="none" stroke="#a8d5f2" stroke-width="0.5" opacity="0.6"/>
<circle cx="96.9" cy="553.7" r="1.35" fill="#464646"/>
<circle cx="106.1" cy="564.5" r="1.35" fill="#464646"/>
<circle cx="96.9" cy="575.3" r="1.35" fill="#464646"/>
<circle cx="87.7" cy="564.5" r="1.35" fill="#464646"/>
<circle cx="97.2" cy="564.7" r="1.3" fill="#5a5050"/>
<polygon points="115.1,553.05 124.85,564.5 115.1,575.95 105.35,564.5" fill="url(#gOct)" />
<path d="M115.1,553.05 L115.1,564.5 M105.35,564.5 L124.85,564.5" stroke="#7fbfea" stroke-width="0.35" opacity="0.8"/>
<path d="M106.95,565 L115.1,573.95 L123.25,565" fill="none" stroke="#a8d5f2" stroke-width="0.5" opacity="0.6"/>
<circle cx="115.1" cy="553.7" r="1.35" fill="#464646"/>
<circle cx="124.3" cy="564.5" r="1.35" fill="#464646"/>
<circle cx="115.1" cy="575.3" r="1.35" fill="#464646"/>
<circle cx="105.9" cy="564.5" r="1.35" fill="#464646"/>
<circle cx="115.4" cy="564.7" r="1.3" fill="#5a5050"/>
<polygon points="122.15,564.5 141.65,564.5 131.9,575.95" fill="url(#gOct)" />
<circle cx="141.1" cy="564.5" r="1.35" fill="#464646"/>
<circle cx="131.9" cy="575.3" r="1.35" fill="#464646"/>
<circle cx="122.7" cy="564.5" r="1.35" fill="#464646"/>
<circle cx="132.2" cy="564.7" r="1.3" fill="#5a5050"/>
<polygon points="150.2,553.05 159.95,564.5 150.2,575.95 140.45,564.5" fill="url(#gOct)" />
<path d="M150.2,553.05 L150.2,564.5 M140.45,564.5 L159.95,564.5" stroke="#7fbfea" stroke-width="0.35" opacity="0.8"/>
<path d="M142.05,565 L150.2,573.95 L158.35,565" fill="none" stroke="#a8d5f2" stroke-width="0.5" opacity="0.6"/>
<circle cx="150.2" cy="553.7" r="1.35" fill="#464646"/>
<circle cx="159.4" cy="564.5" r="1.35" fill="#464646"/>
<circle cx="150.2" cy="575.3" r="1.35" fill="#464646"/>
<circle cx="141" cy="564.5" r="1.35" fill="#464646"/>
<circle cx="150.5" cy="564.7" r="1.3" fill="#5a5050"/>
<polygon points="96.2,574.39 106.27,585.2 96.2,596.01 86.13,585.2" fill="url(#gOct)" />
<path d="M96.2,574.39 L96.2,585.2 M86.13,585.2 L106.27,585.2" stroke="#7fbfea" stroke-width="0.35" opacity="0.8"/>
<path d="M87.73,585.7 L96.2,594.01 L104.67,585.7" fill="none" stroke="#a8d5f2" stroke-width="0.5" opacity="0.6"/>
<circle cx="96.2" cy="575" r="1.35" fill="#464646"/>
<circle cx="105.7" cy="585.2" r="1.35" fill="#464646"/>
<circle cx="96.2" cy="595.4" r="1.35" fill="#464646"/>
<circle cx="86.7" cy="585.2" r="1.35" fill="#464646"/>
<circle cx="96.5" cy="585.4" r="1.3" fill="#5a5050"/>
<polygon points="115.1,574.39 125.17,585.2 115.1,596.01 105.03,585.2" fill="url(#gOct)" />
<path d="M115.1,574.39 L115.1,585.2 M105.03,585.2 L125.17,585.2" stroke="#7fbfea" stroke-width="0.35" opacity="0.8"/>
<path d="M106.63,585.7 L115.1,594.01 L123.57,585.7" fill="none" stroke="#a8d5f2" stroke-width="0.5" opacity="0.6"/>
<circle cx="115.1" cy="575" r="1.35" fill="#464646"/>
<circle cx="124.6" cy="585.2" r="1.35" fill="#464646"/>
<circle cx="115.1" cy="595.4" r="1.35" fill="#464646"/>
<circle cx="105.6" cy="585.2" r="1.35" fill="#464646"/>
<circle cx="115.4" cy="585.4" r="1.3" fill="#5a5050"/>
<polygon points="133.6,574.39 143.67,585.2 133.6,596.01 123.53,585.2" fill="url(#gOct)" />
<path d="M133.6,574.39 L133.6,585.2 M123.53,585.2 L143.67,585.2" stroke="#7fbfea" stroke-width="0.35" opacity="0.8"/>
<path d="M125.13,585.7 L133.6,594.01 L142.07,585.7" fill="none" stroke="#a8d5f2" stroke-width="0.5" opacity="0.6"/>
<circle cx="133.6" cy="575" r="1.35" fill="#464646"/>
<circle cx="143.1" cy="585.2" r="1.35" fill="#464646"/>
<circle cx="133.6" cy="595.4" r="1.35" fill="#464646"/>
<circle cx="124.1" cy="585.2" r="1.35" fill="#464646"/>
<circle cx="133.9" cy="585.4" r="1.3" fill="#5a5050"/>
<polygon points="152.4,574.39 162.47,585.2 152.4,596.01 142.33,585.2" fill="url(#gOct)" />
<path d="M152.4,574.39 L152.4,585.2 M142.33,585.2 L162.47,585.2" stroke="#7fbfea" stroke-width="0.35" opacity="0.8"/>
<path d="M143.93,585.7 L152.4,594.01 L160.87,585.7" fill="none" stroke="#a8d5f2" stroke-width="0.5" opacity="0.6"/>
<circle cx="152.4" cy="575" r="1.35" fill="#464646"/>
<circle cx="161.9" cy="585.2" r="1.35" fill="#464646"/>
<circle cx="152.4" cy="595.4" r="1.35" fill="#464646"/>
<circle cx="142.9" cy="585.2" r="1.35" fill="#464646"/>
<circle cx="152.7" cy="585.4" r="1.3" fill="#5a5050"/>
<polygon points="94.8,593.8 105.29,604.4 94.8,615 84.31,604.4" fill="url(#gOct)" />
<path d="M94.8,593.8 L94.8,604.4 M84.31,604.4 L105.29,604.4" stroke="#7fbfea" stroke-width="0.35" opacity="0.8"/>
<path d="M85.91,604.9 L94.8,613 L103.69,604.9" fill="none" stroke="#a8d5f2" stroke-width="0.5" opacity="0.6"/>
<circle cx="94.8" cy="594.4" r="1.35" fill="#464646"/>
<circle cx="104.7" cy="604.4" r="1.35" fill="#464646"/>
<circle cx="94.8" cy="614.4" r="1.35" fill="#464646"/>
<circle cx="84.9" cy="604.4" r="1.35" fill="#464646"/>
<circle cx="95.1" cy="604.6" r="1.3" fill="#5a5050"/>
<polygon points="114.5,593.8 124.99,604.4 114.5,615 104.01,604.4" fill="url(#gOct)" />
<path d="M114.5,593.8 L114.5,604.4 M104.01,604.4 L124.99,604.4" stroke="#7fbfea" stroke-width="0.35" opacity="0.8"/>
<path d="M105.61,604.9 L114.5,613 L123.39,604.9" fill="none" stroke="#a8d5f2" stroke-width="0.5" opacity="0.6"/>
<circle cx="114.5" cy="594.4" r="1.35" fill="#464646"/>
<circle cx="124.4" cy="604.4" r="1.35" fill="#464646"/>
<circle cx="114.5" cy="614.4" r="1.35" fill="#464646"/>
<circle cx="104.6" cy="604.4" r="1.35" fill="#464646"/>
<circle cx="114.8" cy="604.6" r="1.3" fill="#5a5050"/>
<polygon points="134.3,593.8 144.79,604.4 134.3,615 123.81,604.4" fill="url(#gOct)" />
<path d="M134.3,593.8 L134.3,604.4 M123.81,604.4 L144.79,604.4" stroke="#7fbfea" stroke-width="0.35" opacity="0.8"/>
<path d="M125.41,604.9 L134.3,613 L143.19,604.9" fill="none" stroke="#a8d5f2" stroke-width="0.5" opacity="0.6"/>
<circle cx="134.3" cy="594.4" r="1.35" fill="#464646"/>
<circle cx="144.2" cy="604.4" r="1.35" fill="#464646"/>
<circle cx="134.3" cy="614.4" r="1.35" fill="#464646"/>
<circle cx="124.4" cy="604.4" r="1.35" fill="#464646"/>
<circle cx="134.6" cy="604.6" r="1.3" fill="#5a5050"/>
<polygon points="154,593.8 164.49,604.4 154,615 143.51,604.4" fill="url(#gOct)" />
<path d="M154,593.8 L154,604.4 M143.51,604.4 L164.49,604.4" stroke="#7fbfea" stroke-width="0.35" opacity="0.8"/>
<path d="M145.11,604.9 L154,613 L162.89,604.9" fill="none" stroke="#a8d5f2" stroke-width="0.5" opacity="0.6"/>
<circle cx="154" cy="594.4" r="1.35" fill="#464646"/>
<circle cx="163.9" cy="604.4" r="1.35" fill="#464646"/>
<circle cx="154" cy="614.4" r="1.35" fill="#464646"/>
<circle cx="144.1" cy="604.4" r="1.35" fill="#464646"/>
<circle cx="154.3" cy="604.6" r="1.3" fill="#5a5050"/>
<polygon points="93,613.79 104.02,624.6 93,635.41 81.98,624.6" fill="url(#gOct)" />
<path d="M93,613.79 L93,624.6 M81.98,624.6 L104.02,624.6" stroke="#7fbfea" stroke-width="0.35" opacity="0.8"/>
<path d="M83.58,625.1 L93,633.41 L102.42,625.1" fill="none" stroke="#a8d5f2" stroke-width="0.5" opacity="0.6"/>
<circle cx="93" cy="614.4" r="1.35" fill="#464646"/>
<circle cx="103.4" cy="624.6" r="1.35" fill="#464646"/>
<circle cx="93" cy="634.8" r="1.35" fill="#464646"/>
<circle cx="82.6" cy="624.6" r="1.35" fill="#464646"/>
<circle cx="93.3" cy="624.8" r="1.3" fill="#5a5050"/>
<polygon points="113.8,613.79 124.82,624.6 113.8,635.41 102.78,624.6" fill="url(#gOct)" />
<path d="M113.8,613.79 L113.8,624.6 M102.78,624.6 L124.82,624.6" stroke="#7fbfea" stroke-width="0.35" opacity="0.8"/>
<path d="M104.38,625.1 L113.8,633.41 L123.22,625.1" fill="none" stroke="#a8d5f2" stroke-width="0.5" opacity="0.6"/>
<circle cx="113.8" cy="614.4" r="1.35" fill="#464646"/>
<circle cx="124.2" cy="624.6" r="1.35" fill="#464646"/>
<circle cx="113.8" cy="634.8" r="1.35" fill="#464646"/>
<circle cx="103.4" cy="624.6" r="1.35" fill="#464646"/>
<circle cx="114.1" cy="624.8" r="1.3" fill="#5a5050"/>
<polygon points="134.6,613.79 145.62,624.6 134.6,635.41 123.58,624.6" fill="url(#gOct)" />
<path d="M134.6,613.79 L134.6,624.6 M123.58,624.6 L145.62,624.6" stroke="#7fbfea" stroke-width="0.35" opacity="0.8"/>
<path d="M125.18,625.1 L134.6,633.41 L144.02,625.1" fill="none" stroke="#a8d5f2" stroke-width="0.5" opacity="0.6"/>
<circle cx="134.6" cy="614.4" r="1.35" fill="#464646"/>
<circle cx="145" cy="624.6" r="1.35" fill="#464646"/>
<circle cx="134.6" cy="634.8" r="1.35" fill="#464646"/>
<circle cx="124.2" cy="624.6" r="1.35" fill="#464646"/>
<circle cx="134.9" cy="624.8" r="1.3" fill="#5a5050"/>
<polygon points="154.9,613.79 165.92,624.6 154.9,635.41 143.88,624.6" fill="url(#gOct)" />
<path d="M154.9,613.79 L154.9,624.6 M143.88,624.6 L165.92,624.6" stroke="#7fbfea" stroke-width="0.35" opacity="0.8"/>
<path d="M145.48,625.1 L154.9,633.41 L164.32,625.1" fill="none" stroke="#a8d5f2" stroke-width="0.5" opacity="0.6"/>
<circle cx="154.9" cy="614.4" r="1.35" fill="#464646"/>
<circle cx="165.3" cy="624.6" r="1.35" fill="#464646"/>
<circle cx="154.9" cy="634.8" r="1.35" fill="#464646"/>
<circle cx="144.5" cy="624.6" r="1.35" fill="#464646"/>
<circle cx="155.2" cy="624.8" r="1.3" fill="#5a5050"/>
<circle cx="96.4" cy="584.2" r="10.2" fill="none" stroke="#f5b400" stroke-width="1"/>
<defs><clipPath id="zc101_515"><circle cx="101.8" cy="515.8" r="23.6"/></clipPath></defs>
<circle cx="101.8" cy="515.8" r="23.6" fill="#ffffff"/>
<g clip-path="url(#zc101_515)">
<polygon points="86.6,493 94.2,500.6 86.6,508.2 79,500.6" fill="#6eb0e3" />
<polygon points="86.6,493 94.2,500.6 86.6,500.6" fill="#78b7e7" />
<polygon points="86.6,508.2 94.2,515.8 86.6,523.4 79,515.8" fill="#6eb0e3" />
<polygon points="86.6,508.2 94.2,515.8 86.6,515.8" fill="#78b7e7" />
<polygon points="86.6,523.4 94.2,531 86.6,538.6 79,531" fill="#6eb0e3" />
<polygon points="86.6,523.4 94.2,531 86.6,531" fill="#78b7e7" />
<polygon points="101.8,493 109.4,500.6 101.8,508.2 94.2,500.6" fill="#6eb0e3" />
<polygon points="101.8,493 109.4,500.6 101.8,500.6" fill="#78b7e7" />
<polygon points="101.8,508.2 109.4,515.8 101.8,523.4 94.2,515.8" fill="#6eb0e3" />
<polygon points="101.8,508.2 109.4,515.8 101.8,515.8" fill="#78b7e7" />
<polygon points="101.8,523.4 109.4,531 101.8,538.6 94.2,531" fill="#6eb0e3" />
<polygon points="101.8,523.4 109.4,531 101.8,531" fill="#78b7e7" />
<polygon points="117,493 124.6,500.6 117,508.2 109.4,500.6" fill="#6eb0e3" />
<polygon points="117,493 124.6,500.6 117,500.6" fill="#78b7e7" />
<polygon points="117,508.2 124.6,515.8 117,523.4 109.4,515.8" fill="#6eb0e3" />
<polygon points="117,508.2 124.6,515.8 117,515.8" fill="#78b7e7" />
<polygon points="117,523.4 124.6,531 117,538.6 109.4,531" fill="#6eb0e3" />
<polygon points="117,523.4 124.6,531 117,531" fill="#78b7e7" />
</g>
<circle cx="79" cy="493" r="1.6" fill="#d8553a"/>
<circle cx="79" cy="500.6" r="0.8" fill="#4d4d4d"/>
<circle cx="79" cy="508.2" r="1.6" fill="#d8553a"/>
<circle cx="79" cy="515.8" r="0.8" fill="#4d4d4d"/>
<circle cx="79" cy="523.4" r="1.6" fill="#d8553a"/>
<circle cx="79" cy="531" r="0.8" fill="#4d4d4d"/>
<circle cx="79" cy="538.6" r="1.6" fill="#d8553a"/>
<circle cx="86.6" cy="493" r="0.8" fill="#4d4d4d"/>
<circle cx="86.6" cy="500.6" r="0.8" fill="#4d4d4d"/>
<circle cx="86.6" cy="508.2" r="0.8" fill="#4d4d4d"/>
<circle cx="86.6" cy="515.8" r="0.8" fill="#4d4d4d"/>
<circle cx="86.6" cy="523.4" r="0.8" fill="#4d4d4d"/>
<circle cx="86.6" cy="531" r="0.8" fill="#4d4d4d"/>
<circle cx="86.6" cy="538.6" r="0.8" fill="#4d4d4d"/>
<circle cx="94.2" cy="493" r="1.6" fill="#d8553a"/>
<circle cx="94.2" cy="500.6" r="0.8" fill="#4d4d4d"/>
<circle cx="94.2" cy="508.2" r="2.0" fill="#d8553a"/>
<circle cx="94.2" cy="515.8" r="0.8" fill="#4d4d4d"/>
<circle cx="94.2" cy="523.4" r="2.0" fill="#d8553a"/>
<circle cx="94.2" cy="531" r="0.8" fill="#4d4d4d"/>
<circle cx="94.2" cy="538.6" r="1.6" fill="#d8553a"/>
<circle cx="101.8" cy="493" r="0.8" fill="#4d4d4d"/>
<circle cx="101.8" cy="500.6" r="0.8" fill="#4d4d4d"/>
<circle cx="101.8" cy="508.2" r="0.8" fill="#4d4d4d"/>
<circle cx="101.8" cy="515.8" r="0.8" fill="#4d4d4d"/>
<circle cx="101.8" cy="523.4" r="0.8" fill="#4d4d4d"/>
<circle cx="101.8" cy="531" r="0.8" fill="#4d4d4d"/>
<circle cx="101.8" cy="538.6" r="0.8" fill="#4d4d4d"/>
<circle cx="109.4" cy="493" r="1.6" fill="#d8553a"/>
<circle cx="109.4" cy="500.6" r="0.8" fill="#4d4d4d"/>
<circle cx="109.4" cy="508.2" r="2.0" fill="#d8553a"/>
<circle cx="109.4" cy="515.8" r="0.8" fill="#4d4d4d"/>
<circle cx="109.4" cy="523.4" r="2.0" fill="#d8553a"/>
<circle cx="109.4" cy="531" r="0.8" fill="#4d4d4d"/>
<circle cx="109.4" cy="538.6" r="1.6" fill="#d8553a"/>
<circle cx="117" cy="493" r="0.8" fill="#4d4d4d"/>
<circle cx="117" cy="500.6" r="0.8" fill="#4d4d4d"/>
<circle cx="117" cy="508.2" r="0.8" fill="#4d4d4d"/>
<circle cx="117" cy="515.8" r="0.8" fill="#4d4d4d"/>
<circle cx="117" cy="523.4" r="0.8" fill="#4d4d4d"/>
<circle cx="117" cy="531" r="0.8" fill="#4d4d4d"/>
<circle cx="117" cy="538.6" r="0.8" fill="#4d4d4d"/>
<circle cx="124.6" cy="493" r="1.6" fill="#d8553a"/>
<circle cx="124.6" cy="500.6" r="0.8" fill="#4d4d4d"/>
<circle cx="124.6" cy="508.2" r="1.6" fill="#d8553a"/>
<circle cx="124.6" cy="515.8" r="0.8" fill="#4d4d4d"/>
<circle cx="124.6" cy="523.4" r="1.6" fill="#d8553a"/>
<circle cx="124.6" cy="531" r="0.8" fill="#4d4d4d"/>
<circle cx="124.6" cy="538.6" r="1.6" fill="#d8553a"/>
<circle cx="101.8" cy="515.8" r="23.6" fill="none" stroke="#f5b400" stroke-width="1.1"/>
<g transform="rotate(-20 91 548.9)">
<path d="M89.86,548.29 Q87.96,547.53 85.49,546.47" fill="none" stroke="#5e5e5e" stroke-width="0.6"/>
<path d="M89.86,548.71 Q87.96,548.47 85.49,548.14" fill="none" stroke="#5e5e5e" stroke-width="0.6"/>
<path d="M89.86,549.13 Q87.96,549.41 85.49,549.81" fill="none" stroke="#5e5e5e" stroke-width="0.6"/>
<path d="M89.86,549.55 Q87.96,550.35 85.49,551.48" fill="none" stroke="#5e5e5e" stroke-width="0.6"/>
<circle cx="91" cy="548.9" r="1.8" fill="#505050"/>
</g>
<g transform="rotate(10 105 548.9)">
<path d="M103.86,548.29 Q101.96,547.53 99.49,546.47" fill="none" stroke="#5e5e5e" stroke-width="0.6"/>
<path d="M103.86,548.71 Q101.96,548.47 99.49,548.14" fill="none" stroke="#5e5e5e" stroke-width="0.6"/>
<path d="M103.86,549.13 Q101.96,549.41 99.49,549.81" fill="none" stroke="#5e5e5e" stroke-width="0.6"/>
<path d="M103.86,549.55 Q101.96,550.35 99.49,551.48" fill="none" stroke="#5e5e5e" stroke-width="0.6"/>
<circle cx="105" cy="548.9" r="1.8" fill="#505050"/>
</g>
<g transform="rotate(0 121 546.7)">
<path d="M119.86,546.09 Q117.96,545.33 115.49,544.27" fill="none" stroke="#5e5e5e" stroke-width="0.6"/>
<path d="M119.86,546.51 Q117.96,546.27 115.49,545.94" fill="none" stroke="#5e5e5e" stroke-width="0.6"/>
<path d="M119.86,546.93 Q117.96,547.21 115.49,547.61" fill="none" stroke="#5e5e5e" stroke-width="0.6"/>
<path d="M119.86,547.35 Q117.96,548.15 115.49,549.28" fill="none" stroke="#5e5e5e" stroke-width="0.6"/>
<circle cx="121" cy="546.7" r="1.8" fill="#505050"/>
</g>
<g transform="rotate(5 84 556)">
<path d="M82.86,555.39 Q80.96,554.63 78.49,553.57" fill="none" stroke="#5e5e5e" stroke-width="0.6"/>
<path d="M82.86,555.81 Q80.96,555.57 78.49,555.24" fill="none" stroke="#5e5e5e" stroke-width="0.6"/>
<path d="M82.86,556.23 Q80.96,556.51 78.49,556.91" fill="none" stroke="#5e5e5e" stroke-width="0.6"/>
<path d="M82.86,556.65 Q80.96,557.45 78.49,558.58" fill="none" stroke="#5e5e5e" stroke-width="0.6"/>
<circle cx="84" cy="556" r="1.8" fill="#505050"/>
</g>
<g transform="rotate(-15 114.4 554)">
<path d="M113.26,553.39 Q111.36,552.63 108.89,551.57" fill="none" stroke="#5e5e5e" stroke-width="0.6"/>
<path d="M113.26,553.81 Q111.36,553.57 108.89,553.24" fill="none" stroke="#5e5e5e" stroke-width="0.6"/>
<path d="M113.26,554.23 Q111.36,554.51 108.89,554.91" fill="none" stroke="#5e5e5e" stroke-width="0.6"/>
<path d="M113.26,554.65 Q111.36,555.45 108.89,556.58" fill="none" stroke="#5e5e5e" stroke-width="0.6"/>
<circle cx="114.4" cy="554" r="1.8" fill="#505050"/>
</g>
<g transform="rotate(15 125.4 553.5)">
<path d="M124.26,552.89 Q122.36,552.13 119.89,551.07" fill="none" stroke="#5e5e5e" stroke-width="0.6"/>
<path d="M124.26,553.31 Q122.36,553.07 119.89,552.74" fill="none" stroke="#5e5e5e" stroke-width="0.6"/>
<path d="M124.26,553.73 Q122.36,554.01 119.89,554.41" fill="none" stroke="#5e5e5e" stroke-width="0.6"/>
<path d="M124.26,554.15 Q122.36,554.95 119.89,556.08" fill="none" stroke="#5e5e5e" stroke-width="0.6"/>
<circle cx="125.4" cy="553.5" r="1.8" fill="#505050"/>
</g>
<g transform="rotate(0 137 553.5)">
<path d="M135.86,552.89 Q133.96,552.13 131.49,551.07" fill="none" stroke="#5e5e5e" stroke-width="0.6"/>
<path d="M135.86,553.31 Q133.96,553.07 131.49,552.74" fill="none" stroke="#5e5e5e" stroke-width="0.6"/>
<path d="M135.86,553.73 Q133.96,554.01 131.49,554.41" fill="none" stroke="#5e5e5e" stroke-width="0.6"/>
<path d="M135.86,554.15 Q133.96,554.95 131.49,556.08" fill="none" stroke="#5e5e5e" stroke-width="0.6"/>
<circle cx="137" cy="553.5" r="1.8" fill="#505050"/>
</g>
<g transform="rotate(30 145 548.9)">
<path d="M143.86,548.29 Q141.96,547.53 139.49,546.47" fill="none" stroke="#5e5e5e" stroke-width="0.6"/>
<path d="M143.86,548.71 Q141.96,548.47 139.49,548.14" fill="none" stroke="#5e5e5e" stroke-width="0.6"/>
<path d="M143.86,549.13 Q141.96,549.41 139.49,549.81" fill="none" stroke="#5e5e5e" stroke-width="0.6"/>
<path d="M143.86,549.55 Q141.96,550.35 139.49,551.48" fill="none" stroke="#5e5e5e" stroke-width="0.6"/>
<circle cx="145" cy="548.9" r="1.8" fill="#505050"/>
</g>
<g transform="rotate(5 161.1 549.5)">
<path d="M159.96,548.89 Q158.06,548.13 155.59,547.07" fill="none" stroke="#5e5e5e" stroke-width="0.6"/>
<path d="M159.96,549.31 Q158.06,549.07 155.59,548.74" fill="none" stroke="#5e5e5e" stroke-width="0.6"/>
<path d="M159.96,549.73 Q158.06,550.01 155.59,550.41" fill="none" stroke="#5e5e5e" stroke-width="0.6"/>
<path d="M159.96,550.15 Q158.06,550.95 155.59,552.08" fill="none" stroke="#5e5e5e" stroke-width="0.6"/>
<circle cx="161.1" cy="549.5" r="1.8" fill="#505050"/>
</g>
<g transform="rotate(20 162.6 556)">
<path d="M161.46,555.39 Q159.56,554.63 157.09,553.57" fill="none" stroke="#5e5e5e" stroke-width="0.6"/>
<path d="M161.46,555.81 Q159.56,555.57 157.09,555.24" fill="none" stroke="#5e5e5e" stroke-width="0.6"/>
<path d="M161.46,556.23 Q159.56,556.51 157.09,556.91" fill="none" stroke="#5e5e5e" stroke-width="0.6"/>
<path d="M161.46,556.65 Q159.56,557.45 157.09,558.58" fill="none" stroke="#5e5e5e" stroke-width="0.6"/>
<circle cx="162.6" cy="556" r="1.8" fill="#505050"/>
</g>
<circle cx="167" cy="555.7" r="1.6" fill="#ffe100" stroke="#f2c200" stroke-width="0.4"/>
<polyline points="298,536 302,584" fill="none" stroke="#f5b400" stroke-width="0.9" stroke-linejoin="round" />
<polyline points="341,534 318,578" fill="none" stroke="#f5b400" stroke-width="0.9" stroke-linejoin="round" />
<path d="M290.8,636 H385.6 V642.7 H293.3 L290.8,640.5 Z" fill="url(#gSub)"/>
<polygon points="313.4,552.68 322.73,563.6 313.4,563.6 304.07,563.6" fill="#aebfd0" />
<polygon points="304.07,563.6 313.4,563.6 322.73,563.6 313.4,574.52" fill="#5aa3dc" />
<circle cx="313.4" cy="553.3" r="1.35" fill="#464646"/>
<circle cx="322.2" cy="563.6" r="1.35" fill="#464646"/>
<circle cx="313.4" cy="573.9" r="1.35" fill="#464646"/>
<circle cx="304.6" cy="563.6" r="1.35" fill="#464646"/>
<circle cx="313.7" cy="563.8" r="1.3" fill="#5a5050"/>
<polygon points="329.8,552.68 339.13,563.6 329.8,574.52 320.47,563.6" fill="url(#gOct)" />
<path d="M329.8,552.68 L329.8,563.6 M320.47,563.6 L339.13,563.6" stroke="#7fbfea" stroke-width="0.35" opacity="0.8"/>
<path d="M322.07,564.1 L329.8,572.52 L337.53,564.1" fill="none" stroke="#a8d5f2" stroke-width="0.5" opacity="0.6"/>
<circle cx="329.8" cy="553.3" r="1.35" fill="#464646"/>
<circle cx="338.6" cy="563.6" r="1.35" fill="#464646"/>
<circle cx="329.8" cy="573.9" r="1.35" fill="#464646"/>
<circle cx="321" cy="563.6" r="1.35" fill="#464646"/>
<circle cx="330.1" cy="563.8" r="1.3" fill="#5a5050"/>
<polygon points="337.57,563.6 356.23,563.6 346.9,574.52" fill="url(#gOct)" />
<circle cx="355.7" cy="563.6" r="1.35" fill="#464646"/>
<circle cx="346.9" cy="573.9" r="1.35" fill="#464646"/>
<circle cx="338.1" cy="563.6" r="1.35" fill="#464646"/>
<circle cx="347.2" cy="563.8" r="1.3" fill="#5a5050"/>
<polygon points="363.3,552.68 372.63,563.6 363.3,574.52 353.97,563.6" fill="url(#gOct)" />
<path d="M363.3,552.68 L363.3,563.6 M353.97,563.6 L372.63,563.6" stroke="#7fbfea" stroke-width="0.35" opacity="0.8"/>
<path d="M355.57,564.1 L363.3,572.52 L371.03,564.1" fill="none" stroke="#a8d5f2" stroke-width="0.5" opacity="0.6"/>
<circle cx="363.3" cy="553.3" r="1.35" fill="#464646"/>
<circle cx="372.1" cy="563.6" r="1.35" fill="#464646"/>
<circle cx="363.3" cy="573.9" r="1.35" fill="#464646"/>
<circle cx="354.5" cy="563.6" r="1.35" fill="#464646"/>
<circle cx="363.6" cy="563.8" r="1.3" fill="#5a5050"/>
<polygon points="310.2,573.19 320.06,584 310.2,594.81 300.34,584" fill="url(#gOct)" />
<path d="M310.2,573.19 L310.2,584 M300.34,584 L320.06,584" stroke="#7fbfea" stroke-width="0.35" opacity="0.8"/>
<path d="M301.94,584.5 L310.2,592.81 L318.46,584.5" fill="none" stroke="#a8d5f2" stroke-width="0.5" opacity="0.6"/>
<circle cx="310.2" cy="573.8" r="1.35" fill="#464646"/>
<circle cx="319.5" cy="584" r="1.35" fill="#464646"/>
<circle cx="310.2" cy="594.2" r="1.35" fill="#464646"/>
<circle cx="300.9" cy="584" r="1.35" fill="#464646"/>
<circle cx="310.5" cy="584.2" r="1.3" fill="#5a5050"/>
<polygon points="328.6,573.19 338.46,584 328.6,594.81 318.74,584" fill="url(#gOct)" />
<path d="M328.6,573.19 L328.6,584 M318.74,584 L338.46,584" stroke="#7fbfea" stroke-width="0.35" opacity="0.8"/>
<path d="M320.34,584.5 L328.6,592.81 L336.86,584.5" fill="none" stroke="#a8d5f2" stroke-width="0.5" opacity="0.6"/>
<circle cx="328.6" cy="573.8" r="1.35" fill="#464646"/>
<circle cx="337.9" cy="584" r="1.35" fill="#464646"/>
<circle cx="328.6" cy="594.2" r="1.35" fill="#464646"/>
<circle cx="319.3" cy="584" r="1.35" fill="#464646"/>
<circle cx="328.9" cy="584.2" r="1.3" fill="#5a5050"/>
<polygon points="347,573.19 356.86,584 347,594.81 337.14,584" fill="url(#gOct)" />
<path d="M347,573.19 L347,584 M337.14,584 L356.86,584" stroke="#7fbfea" stroke-width="0.35" opacity="0.8"/>
<path d="M338.74,584.5 L347,592.81 L355.26,584.5" fill="none" stroke="#a8d5f2" stroke-width="0.5" opacity="0.6"/>
<circle cx="347" cy="573.8" r="1.35" fill="#464646"/>
<circle cx="356.3" cy="584" r="1.35" fill="#464646"/>
<circle cx="347" cy="594.2" r="1.35" fill="#464646"/>
<circle cx="337.7" cy="584" r="1.35" fill="#464646"/>
<circle cx="347.3" cy="584.2" r="1.3" fill="#5a5050"/>
<polygon points="365.5,573.19 375.36,584 365.5,594.81 355.64,584" fill="url(#gOct)" />
<path d="M365.5,573.19 L365.5,584 M355.64,584 L375.36,584" stroke="#7fbfea" stroke-width="0.35" opacity="0.8"/>
<path d="M357.24,584.5 L365.5,592.81 L373.76,584.5" fill="none" stroke="#a8d5f2" stroke-width="0.5" opacity="0.6"/>
<circle cx="365.5" cy="573.8" r="1.35" fill="#464646"/>
<circle cx="374.8" cy="584" r="1.35" fill="#464646"/>
<circle cx="365.5" cy="594.2" r="1.35" fill="#464646"/>
<circle cx="356.2" cy="584" r="1.35" fill="#464646"/>
<circle cx="365.8" cy="584.2" r="1.3" fill="#5a5050"/>
<polygon points="308,593.6 318.49,604.2 308,614.8 297.51,604.2" fill="url(#gOct)" />
<path d="M308,593.6 L308,604.2 M297.51,604.2 L318.49,604.2" stroke="#7fbfea" stroke-width="0.35" opacity="0.8"/>
<path d="M299.11,604.7 L308,612.8 L316.89,604.7" fill="none" stroke="#a8d5f2" stroke-width="0.5" opacity="0.6"/>
<circle cx="308" cy="594.2" r="1.35" fill="#464646"/>
<circle cx="317.9" cy="604.2" r="1.35" fill="#464646"/>
<circle cx="308" cy="614.2" r="1.35" fill="#464646"/>
<circle cx="298.1" cy="604.2" r="1.35" fill="#464646"/>
<circle cx="308.3" cy="604.4" r="1.3" fill="#5a5050"/>
<polygon points="327.8,593.6 338.29,604.2 327.8,614.8 317.31,604.2" fill="url(#gOct)" />
<path d="M327.8,593.6 L327.8,604.2 M317.31,604.2 L338.29,604.2" stroke="#7fbfea" stroke-width="0.35" opacity="0.8"/>
<path d="M318.91,604.7 L327.8,612.8 L336.69,604.7" fill="none" stroke="#a8d5f2" stroke-width="0.5" opacity="0.6"/>
<circle cx="327.8" cy="594.2" r="1.35" fill="#464646"/>
<circle cx="337.7" cy="604.2" r="1.35" fill="#464646"/>
<circle cx="327.8" cy="614.2" r="1.35" fill="#464646"/>
<circle cx="317.9" cy="604.2" r="1.35" fill="#464646"/>
<circle cx="328.1" cy="604.4" r="1.3" fill="#5a5050"/>
<polygon points="348.6,593.6 359.09,604.2 348.6,614.8 338.11,604.2" fill="url(#gOct)" />
<path d="M348.6,593.6 L348.6,604.2 M338.11,604.2 L359.09,604.2" stroke="#7fbfea" stroke-width="0.35" opacity="0.8"/>
<path d="M339.71,604.7 L348.6,612.8 L357.49,604.7" fill="none" stroke="#a8d5f2" stroke-width="0.5" opacity="0.6"/>
<circle cx="348.6" cy="594.2" r="1.35" fill="#464646"/>
<circle cx="358.5" cy="604.2" r="1.35" fill="#464646"/>
<circle cx="348.6" cy="614.2" r="1.35" fill="#464646"/>
<circle cx="338.7" cy="604.2" r="1.35" fill="#464646"/>
<circle cx="348.9" cy="604.4" r="1.3" fill="#5a5050"/>
<polygon points="369,593.6 379.49,604.2 369,614.8 358.51,604.2" fill="url(#gOct)" />
<path d="M369,593.6 L369,604.2 M358.51,604.2 L379.49,604.2" stroke="#7fbfea" stroke-width="0.35" opacity="0.8"/>
<path d="M360.11,604.7 L369,612.8 L377.89,604.7" fill="none" stroke="#a8d5f2" stroke-width="0.5" opacity="0.6"/>
<circle cx="369" cy="594.2" r="1.35" fill="#464646"/>
<circle cx="378.9" cy="604.2" r="1.35" fill="#464646"/>
<circle cx="369" cy="614.2" r="1.35" fill="#464646"/>
<circle cx="359.1" cy="604.2" r="1.35" fill="#464646"/>
<circle cx="369.3" cy="604.4" r="1.3" fill="#5a5050"/>
<polygon points="305.2,613.59 316.54,624.3 305.2,635.01 293.86,624.3" fill="url(#gOct)" />
<path d="M305.2,613.59 L305.2,624.3 M293.86,624.3 L316.54,624.3" stroke="#7fbfea" stroke-width="0.35" opacity="0.8"/>
<path d="M295.46,624.8 L305.2,633.01 L314.94,624.8" fill="none" stroke="#a8d5f2" stroke-width="0.5" opacity="0.6"/>
<circle cx="305.2" cy="614.2" r="1.35" fill="#464646"/>
<circle cx="315.9" cy="624.3" r="1.35" fill="#464646"/>
<circle cx="305.2" cy="634.4" r="1.35" fill="#464646"/>
<circle cx="294.5" cy="624.3" r="1.35" fill="#464646"/>
<circle cx="305.5" cy="624.5" r="1.3" fill="#5a5050"/>
<polygon points="327,613.59 338.34,624.3 327,635.01 315.66,624.3" fill="url(#gOct)" />
<path d="M327,613.59 L327,624.3 M315.66,624.3 L338.34,624.3" stroke="#7fbfea" stroke-width="0.35" opacity="0.8"/>
<path d="M317.26,624.8 L327,633.01 L336.74,624.8" fill="none" stroke="#a8d5f2" stroke-width="0.5" opacity="0.6"/>
<circle cx="327" cy="614.2" r="1.35" fill="#464646"/>
<circle cx="337.7" cy="624.3" r="1.35" fill="#464646"/>
<circle cx="327" cy="634.4" r="1.35" fill="#464646"/>
<circle cx="316.3" cy="624.3" r="1.35" fill="#464646"/>
<circle cx="327.3" cy="624.5" r="1.3" fill="#5a5050"/>
<polygon points="350.4,613.59 361.74,624.3 350.4,635.01 339.06,624.3" fill="url(#gOct)" />
<path d="M350.4,613.59 L350.4,624.3 M339.06,624.3 L361.74,624.3" stroke="#7fbfea" stroke-width="0.35" opacity="0.8"/>
<path d="M340.66,624.8 L350.4,633.01 L360.14,624.8" fill="none" stroke="#a8d5f2" stroke-width="0.5" opacity="0.6"/>
<circle cx="350.4" cy="614.2" r="1.35" fill="#464646"/>
<circle cx="361.1" cy="624.3" r="1.35" fill="#464646"/>
<circle cx="350.4" cy="634.4" r="1.35" fill="#464646"/>
<circle cx="339.7" cy="624.3" r="1.35" fill="#464646"/>
<circle cx="350.7" cy="624.5" r="1.3" fill="#5a5050"/>
<polygon points="372.2,613.59 383.54,624.3 372.2,635.01 360.86,624.3" fill="url(#gOct)" />
<path d="M372.2,613.59 L372.2,624.3 M360.86,624.3 L383.54,624.3" stroke="#7fbfea" stroke-width="0.35" opacity="0.8"/>
<path d="M362.46,624.8 L372.2,633.01 L381.94,624.8" fill="none" stroke="#a8d5f2" stroke-width="0.5" opacity="0.6"/>
<circle cx="372.2" cy="614.2" r="1.35" fill="#464646"/>
<circle cx="382.9" cy="624.3" r="1.35" fill="#464646"/>
<circle cx="372.2" cy="634.4" r="1.35" fill="#464646"/>
<circle cx="361.5" cy="624.3" r="1.35" fill="#464646"/>
<circle cx="372.5" cy="624.5" r="1.3" fill="#5a5050"/>
<circle cx="310.2" cy="583.6" r="9.6" fill="none" stroke="#f5b400" stroke-width="1"/>
<defs><clipPath id="zc319_517"><circle cx="319.6" cy="517.7" r="23.4"/></clipPath></defs>
<circle cx="319.6" cy="517.7" r="23.4" fill="#ffffff"/>
<g clip-path="url(#zc319_517)">
<g transform="rotate(15 306.2 504.3)">
<polygon points="306.2,497.36 313.14,504.3 306.2,511.24 299.26,504.3" fill="#6eb0e3" />
<polygon points="306.2,497.36 313.14,504.3 306.2,504.3" fill="#77b6e6" />
<circle cx="306.2" cy="497.36" r="0.75" fill="#4d4d4d"/>
<circle cx="313.14" cy="504.3" r="0.75" fill="#4d4d4d"/>
<circle cx="306.2" cy="511.24" r="0.75" fill="#4d4d4d"/>
<circle cx="299.26" cy="504.3" r="0.75" fill="#4d4d4d"/>
</g>
<circle cx="306.2" cy="504.3" r="0.8" fill="#4d4d4d"/>
<g transform="rotate(-15 306.2 517.7)">
<polygon points="306.2,510.76 313.14,517.7 306.2,524.64 299.26,517.7" fill="#6eb0e3" />
<polygon points="306.2,510.76 313.14,517.7 306.2,517.7" fill="#77b6e6" />
<circle cx="306.2" cy="510.76" r="0.75" fill="#4d4d4d"/>
<circle cx="313.14" cy="517.7" r="0.75" fill="#4d4d4d"/>
<circle cx="306.2" cy="524.64" r="0.75" fill="#4d4d4d"/>
<circle cx="299.26" cy="517.7" r="0.75" fill="#4d4d4d"/>
</g>
<circle cx="306.2" cy="517.7" r="0.8" fill="#4d4d4d"/>
<g transform="rotate(15 306.2 531.1)">
<polygon points="306.2,524.16 313.14,531.1 306.2,538.04 299.26,531.1" fill="#6eb0e3" />
<polygon points="306.2,524.16 313.14,531.1 306.2,531.1" fill="#77b6e6" />
<circle cx="306.2" cy="524.16" r="0.75" fill="#4d4d4d"/>
<circle cx="313.14" cy="531.1" r="0.75" fill="#4d4d4d"/>
<circle cx="306.2" cy="538.04" r="0.75" fill="#4d4d4d"/>
<circle cx="299.26" cy="531.1" r="0.75" fill="#4d4d4d"/>
</g>
<circle cx="306.2" cy="531.1" r="0.8" fill="#4d4d4d"/>
<g transform="rotate(-15 319.6 504.3)">
<polygon points="319.6,497.36 326.54,504.3 319.6,511.24 312.66,504.3" fill="#6eb0e3" />
<polygon points="319.6,497.36 326.54,504.3 319.6,504.3" fill="#77b6e6" />
<circle cx="319.6" cy="497.36" r="0.75" fill="#4d4d4d"/>
<circle cx="326.54" cy="504.3" r="0.75" fill="#4d4d4d"/>
<circle cx="319.6" cy="511.24" r="0.75" fill="#4d4d4d"/>
<circle cx="312.66" cy="504.3" r="0.75" fill="#4d4d4d"/>
</g>
<circle cx="319.6" cy="504.3" r="0.8" fill="#4d4d4d"/>
<g transform="rotate(15 319.6 517.7)">
<polygon points="319.6,510.76 326.54,517.7 319.6,524.64 312.66,517.7" fill="#6eb0e3" />
<polygon points="319.6,510.76 326.54,517.7 319.6,517.7" fill="#77b6e6" />
<circle cx="319.6" cy="510.76" r="0.75" fill="#4d4d4d"/>
<circle cx="326.54" cy="517.7" r="0.75" fill="#4d4d4d"/>
<circle cx="319.6" cy="524.64" r="0.75" fill="#4d4d4d"/>
<circle cx="312.66" cy="517.7" r="0.75" fill="#4d4d4d"/>
</g>
<circle cx="319.6" cy="517.7" r="0.8" fill="#4d4d4d"/>
<g transform="rotate(-15 319.6 531.1)">
<polygon points="319.6,524.16 326.54,531.1 319.6,538.04 312.66,531.1" fill="#6eb0e3" />
<polygon points="319.6,524.16 326.54,531.1 319.6,531.1" fill="#77b6e6" />
<circle cx="319.6" cy="524.16" r="0.75" fill="#4d4d4d"/>
<circle cx="326.54" cy="531.1" r="0.75" fill="#4d4d4d"/>
<circle cx="319.6" cy="538.04" r="0.75" fill="#4d4d4d"/>
<circle cx="312.66" cy="531.1" r="0.75" fill="#4d4d4d"/>
</g>
<circle cx="319.6" cy="531.1" r="0.8" fill="#4d4d4d"/>
<g transform="rotate(15 333 504.3)">
<polygon points="333,497.36 339.94,504.3 333,511.24 326.06,504.3" fill="#6eb0e3" />
<polygon points="333,497.36 339.94,504.3 333,504.3" fill="#77b6e6" />
<circle cx="333" cy="497.36" r="0.75" fill="#4d4d4d"/>
<circle cx="339.94" cy="504.3" r="0.75" fill="#4d4d4d"/>
<circle cx="333" cy="511.24" r="0.75" fill="#4d4d4d"/>
<circle cx="326.06" cy="504.3" r="0.75" fill="#4d4d4d"/>
</g>
<circle cx="333" cy="504.3" r="0.8" fill="#4d4d4d"/>
<g transform="rotate(-15 333 517.7)">
<polygon points="333,510.76 339.94,517.7 333,524.64 326.06,517.7" fill="#6eb0e3" />
<polygon points="333,510.76 339.94,517.7 333,517.7" fill="#77b6e6" />
<circle cx="333" cy="510.76" r="0.75" fill="#4d4d4d"/>
<circle cx="339.94" cy="517.7" r="0.75" fill="#4d4d4d"/>
<circle cx="333" cy="524.64" r="0.75" fill="#4d4d4d"/>
<circle cx="326.06" cy="517.7" r="0.75" fill="#4d4d4d"/>
</g>
<circle cx="333" cy="517.7" r="0.8" fill="#4d4d4d"/>
<g transform="rotate(15 333 531.1)">
<polygon points="333,524.16 339.94,531.1 333,538.04 326.06,531.1" fill="#6eb0e3" />
<polygon points="333,524.16 339.94,531.1 333,531.1" fill="#77b6e6" />
<circle cx="333" cy="524.16" r="0.75" fill="#4d4d4d"/>
<circle cx="339.94" cy="531.1" r="0.75" fill="#4d4d4d"/>
<circle cx="333" cy="538.04" r="0.75" fill="#4d4d4d"/>
<circle cx="326.06" cy="531.1" r="0.75" fill="#4d4d4d"/>
</g>
<circle cx="333" cy="531.1" r="0.8" fill="#4d4d4d"/>
</g>
<ellipse cx="299.5" cy="497.6" rx="2.4" ry="1.8" transform="rotate(60 299.5 497.6)" fill="#d8553a"/>
<ellipse cx="299.5" cy="511" rx="2.4" ry="1.8" transform="rotate(0 299.5 511)" fill="#d8553a"/>
<ellipse cx="299.5" cy="524.4" rx="2.4" ry="1.8" transform="rotate(0 299.5 524.4)" fill="#d8553a"/>
<ellipse cx="299.5" cy="537.8" rx="2.4" ry="1.8" transform="rotate(-30 299.5 537.8)" fill="#d8553a"/>
<ellipse cx="312.9" cy="497.6" rx="2.4" ry="1.8" transform="rotate(30 312.9 497.6)" fill="#d8553a"/>
<ellipse cx="312.9" cy="511" rx="2.4" ry="1.8" transform="rotate(-60 312.9 511)" fill="#d8553a"/>
<ellipse cx="312.9" cy="524.4" rx="2.4" ry="1.8" transform="rotate(-60 312.9 524.4)" fill="#d8553a"/>
<ellipse cx="312.9" cy="537.8" rx="2.4" ry="1.8" transform="rotate(-60 312.9 537.8)" fill="#d8553a"/>
<ellipse cx="326.3" cy="497.6" rx="2.4" ry="1.8" transform="rotate(-60 326.3 497.6)" fill="#d8553a"/>
<ellipse cx="326.3" cy="511" rx="2.4" ry="1.8" transform="rotate(-60 326.3 511)" fill="#d8553a"/>
<ellipse cx="326.3" cy="524.4" rx="2.4" ry="1.8" transform="rotate(0 326.3 524.4)" fill="#d8553a"/>
<ellipse cx="326.3" cy="537.8" rx="2.4" ry="1.8" transform="rotate(0 326.3 537.8)" fill="#d8553a"/>
<ellipse cx="339.7" cy="497.6" rx="2.4" ry="1.8" transform="rotate(0 339.7 497.6)" fill="#d8553a"/>
<ellipse cx="339.7" cy="511" rx="2.4" ry="1.8" transform="rotate(0 339.7 511)" fill="#d8553a"/>
<ellipse cx="339.7" cy="524.4" rx="2.4" ry="1.8" transform="rotate(-60 339.7 524.4)" fill="#d8553a"/>
<ellipse cx="339.7" cy="537.8" rx="2.4" ry="1.8" transform="rotate(0 339.7 537.8)" fill="#d8553a"/>
<circle cx="319.6" cy="517.7" r="23.4" fill="none" stroke="#f5b400" stroke-width="1.1"/>
<g transform="rotate(0 306 552)">
<path d="M304.92,551.42 Q303.12,550.7 300.78,549.7" fill="none" stroke="#5e5e5e" stroke-width="0.6"/>
<path d="M304.92,551.82 Q303.12,551.6 300.78,551.28" fill="none" stroke="#5e5e5e" stroke-width="0.6"/>
<path d="M304.92,552.22 Q303.12,552.49 300.78,552.86" fill="none" stroke="#5e5e5e" stroke-width="0.6"/>
<path d="M304.92,552.61 Q303.12,553.38 300.78,554.45" fill="none" stroke="#5e5e5e" stroke-width="0.6"/>
<circle cx="306" cy="552" r="1.71" fill="#505050"/>
</g>
<g transform="rotate(0 337 556)">
<path d="M335.92,555.42 Q334.12,554.7 331.78,553.7" fill="none" stroke="#5e5e5e" stroke-width="0.6"/>
<path d="M335.92,555.82 Q334.12,555.6 331.78,555.28" fill="none" stroke="#5e5e5e" stroke-width="0.6"/>
<path d="M335.92,556.22 Q334.12,556.49 331.78,556.86" fill="none" stroke="#5e5e5e" stroke-width="0.6"/>
<path d="M335.92,556.61 Q334.12,557.38 331.78,558.45" fill="none" stroke="#5e5e5e" stroke-width="0.6"/>
<circle cx="337" cy="556" r="1.71" fill="#505050"/>
</g>
<g transform="rotate(0 343 552)">
<path d="M341.92,551.42 Q340.12,550.7 337.78,549.7" fill="none" stroke="#5e5e5e" stroke-width="0.6"/>
<path d="M341.92,551.82 Q340.12,551.6 337.78,551.28" fill="none" stroke="#5e5e5e" stroke-width="0.6"/>
<path d="M341.92,552.22 Q340.12,552.49 337.78,552.86" fill="none" stroke="#5e5e5e" stroke-width="0.6"/>
<path d="M341.92,552.61 Q340.12,553.38 337.78,554.45" fill="none" stroke="#5e5e5e" stroke-width="0.6"/>
<circle cx="343" cy="552" r="1.71" fill="#505050"/>
</g>
<g transform="rotate(0 357 553)">
<path d="M355.92,552.42 Q354.12,551.7 351.78,550.7" fill="none" stroke="#5e5e5e" stroke-width="0.6"/>
<path d="M355.92,552.82 Q354.12,552.6 351.78,552.28" fill="none" stroke="#5e5e5e" stroke-width="0.6"/>
<path d="M355.92,553.22 Q354.12,553.49 351.78,553.86" fill="none" stroke="#5e5e5e" stroke-width="0.6"/>
<path d="M355.92,553.61 Q354.12,554.38 351.78,555.45" fill="none" stroke="#5e5e5e" stroke-width="0.6"/>
<circle cx="357" cy="553" r="1.71" fill="#505050"/>
</g>
<circle cx="337" cy="551.5" r="1.6" fill="#ffe100" stroke="#f2c200" stroke-width="0.4"/>
<polyline points="516,527 520,586" fill="none" stroke="#f5b400" stroke-width="0.9" stroke-linejoin="round" />
<polyline points="559,529 540,580" fill="none" stroke="#f5b400" stroke-width="0.9" stroke-linejoin="round" />
<path d="M512.2,634 H602.1 V641.2 H514.7 L512.2,639 Z" fill="url(#gSub)"/>
<polygon points="520.54,565.3 540.26,565.3 530.4,575.9" fill="url(#gOct)" />
<circle cx="539.7" cy="565.3" r="1.35" fill="#464646"/>
<circle cx="530.4" cy="575.3" r="1.35" fill="#464646"/>
<circle cx="521.1" cy="565.3" r="1.35" fill="#464646"/>
<circle cx="530.7" cy="565.5" r="1.3" fill="#5a5050"/>
<polygon points="548.7,554.7 558.56,565.3 548.7,575.9 538.84,565.3" fill="url(#gOct)" />
<path d="M548.7,554.7 L548.7,565.3 M538.84,565.3 L558.56,565.3" stroke="#7fbfea" stroke-width="0.35" opacity="0.8"/>
<path d="M540.44,565.8 L548.7,573.9 L556.96,565.8" fill="none" stroke="#a8d5f2" stroke-width="0.5" opacity="0.6"/>
<circle cx="548.7" cy="555.3" r="1.35" fill="#464646"/>
<circle cx="558" cy="565.3" r="1.35" fill="#464646"/>
<circle cx="548.7" cy="575.3" r="1.35" fill="#464646"/>
<circle cx="539.4" cy="565.3" r="1.35" fill="#464646"/>
<circle cx="549" cy="565.5" r="1.3" fill="#5a5050"/>
<polygon points="584.5,554.7 594.36,565.3 584.5,575.9 574.64,565.3" fill="url(#gOct)" />
<path d="M584.5,554.7 L584.5,565.3 M574.64,565.3 L594.36,565.3" stroke="#7fbfea" stroke-width="0.35" opacity="0.8"/>
<path d="M576.24,565.8 L584.5,573.9 L592.76,565.8" fill="none" stroke="#a8d5f2" stroke-width="0.5" opacity="0.6"/>
<circle cx="584.5" cy="555.3" r="1.35" fill="#464646"/>
<circle cx="593.8" cy="565.3" r="1.35" fill="#464646"/>
<circle cx="584.5" cy="575.3" r="1.35" fill="#464646"/>
<circle cx="575.2" cy="565.3" r="1.35" fill="#464646"/>
<circle cx="584.8" cy="565.5" r="1.3" fill="#5a5050"/>
<polygon points="531.2,574.59 541.38,585.4 531.2,596.21 521.02,585.4" fill="url(#gOct)" />
<path d="M531.2,574.59 L531.2,585.4 M521.02,585.4 L541.38,585.4" stroke="#7fbfea" stroke-width="0.35" opacity="0.8"/>
<path d="M522.62,585.9 L531.2,594.21 L539.78,585.9" fill="none" stroke="#a8d5f2" stroke-width="0.5" opacity="0.6"/>
<circle cx="531.2" cy="575.2" r="1.35" fill="#464646"/>
<circle cx="540.8" cy="585.4" r="1.35" fill="#464646"/>
<circle cx="531.2" cy="595.6" r="1.35" fill="#464646"/>
<circle cx="521.6" cy="585.4" r="1.35" fill="#464646"/>
<circle cx="531.5" cy="585.6" r="1.3" fill="#5a5050"/>
<polygon points="549.4,574.59 559.58,585.4 549.4,596.21 539.22,585.4" fill="url(#gOct)" />
<path d="M549.4,574.59 L549.4,585.4 M539.22,585.4 L559.58,585.4" stroke="#7fbfea" stroke-width="0.35" opacity="0.8"/>
<path d="M540.82,585.9 L549.4,594.21 L557.98,585.9" fill="none" stroke="#a8d5f2" stroke-width="0.5" opacity="0.6"/>
<circle cx="549.4" cy="575.2" r="1.35" fill="#464646"/>
<circle cx="559" cy="585.4" r="1.35" fill="#464646"/>
<circle cx="549.4" cy="595.6" r="1.35" fill="#464646"/>
<circle cx="539.8" cy="585.4" r="1.35" fill="#464646"/>
<circle cx="549.7" cy="585.6" r="1.3" fill="#5a5050"/>
<polygon points="568.4,574.59 578.58,585.4 568.4,596.21 558.22,585.4" fill="url(#gOct)" />
<path d="M568.4,574.59 L568.4,585.4 M558.22,585.4 L578.58,585.4" stroke="#7fbfea" stroke-width="0.35" opacity="0.8"/>
<path d="M559.82,585.9 L568.4,594.21 L576.98,585.9" fill="none" stroke="#a8d5f2" stroke-width="0.5" opacity="0.6"/>
<circle cx="568.4" cy="575.2" r="1.35" fill="#464646"/>
<circle cx="578" cy="585.4" r="1.35" fill="#464646"/>
<circle cx="568.4" cy="595.6" r="1.35" fill="#464646"/>
<circle cx="558.8" cy="585.4" r="1.35" fill="#464646"/>
<circle cx="568.7" cy="585.6" r="1.3" fill="#5a5050"/>
<polygon points="586.6,574.59 596.78,585.4 586.6,596.21 576.42,585.4" fill="url(#gOct)" />
<path d="M586.6,574.59 L586.6,585.4 M576.42,585.4 L596.78,585.4" stroke="#7fbfea" stroke-width="0.35" opacity="0.8"/>
<path d="M578.02,585.9 L586.6,594.21 L595.18,585.9" fill="none" stroke="#a8d5f2" stroke-width="0.5" opacity="0.6"/>
<circle cx="586.6" cy="575.2" r="1.35" fill="#464646"/>
<circle cx="596.2" cy="585.4" r="1.35" fill="#464646"/>
<circle cx="586.6" cy="595.6" r="1.35" fill="#464646"/>
<circle cx="577" cy="585.4" r="1.35" fill="#464646"/>
<circle cx="586.9" cy="585.6" r="1.3" fill="#5a5050"/>
<polygon points="530,594.09 540.6,604.9 530,615.71 519.4,604.9" fill="url(#gOct)" />
<path d="M530,594.09 L530,604.9 M519.4,604.9 L540.6,604.9" stroke="#7fbfea" stroke-width="0.35" opacity="0.8"/>
<path d="M521,605.4 L530,613.71 L539,605.4" fill="none" stroke="#a8d5f2" stroke-width="0.5" opacity="0.6"/>
<circle cx="530" cy="594.7" r="1.35" fill="#464646"/>
<circle cx="540" cy="604.9" r="1.35" fill="#464646"/>
<circle cx="530" cy="615.1" r="1.35" fill="#464646"/>
<circle cx="520" cy="604.9" r="1.35" fill="#464646"/>
<circle cx="530.3" cy="605.1" r="1.3" fill="#5a5050"/>
<polygon points="548.8,594.09 559.4,604.9 548.8,615.71 538.2,604.9" fill="url(#gOct)" />
<path d="M548.8,594.09 L548.8,604.9 M538.2,604.9 L559.4,604.9" stroke="#7fbfea" stroke-width="0.35" opacity="0.8"/>
<path d="M539.8,605.4 L548.8,613.71 L557.8,605.4" fill="none" stroke="#a8d5f2" stroke-width="0.5" opacity="0.6"/>
<circle cx="548.8" cy="594.7" r="1.35" fill="#464646"/>
<circle cx="558.8" cy="604.9" r="1.35" fill="#464646"/>
<circle cx="548.8" cy="615.1" r="1.35" fill="#464646"/>
<circle cx="538.8" cy="604.9" r="1.35" fill="#464646"/>
<circle cx="549.1" cy="605.1" r="1.3" fill="#5a5050"/>
<polygon points="568,594.09 578.6,604.9 568,615.71 557.4,604.9" fill="url(#gOct)" />
<path d="M568,594.09 L568,604.9 M557.4,604.9 L578.6,604.9" stroke="#7fbfea" stroke-width="0.35" opacity="0.8"/>
<path d="M559,605.4 L568,613.71 L577,605.4" fill="none" stroke="#a8d5f2" stroke-width="0.5" opacity="0.6"/>
<circle cx="568" cy="594.7" r="1.35" fill="#464646"/>
<circle cx="578" cy="604.9" r="1.35" fill="#464646"/>
<circle cx="568" cy="615.1" r="1.35" fill="#464646"/>
<circle cx="558" cy="604.9" r="1.35" fill="#464646"/>
<circle cx="568.3" cy="605.1" r="1.3" fill="#5a5050"/>
<polygon points="587.2,594.09 597.8,604.9 587.2,615.71 576.6,604.9" fill="url(#gOct)" />
<path d="M587.2,594.09 L587.2,604.9 M576.6,604.9 L597.8,604.9" stroke="#7fbfea" stroke-width="0.35" opacity="0.8"/>
<path d="M578.2,605.4 L587.2,613.71 L596.2,605.4" fill="none" stroke="#a8d5f2" stroke-width="0.5" opacity="0.6"/>
<circle cx="587.2" cy="594.7" r="1.35" fill="#464646"/>
<circle cx="597.2" cy="604.9" r="1.35" fill="#464646"/>
<circle cx="587.2" cy="615.1" r="1.35" fill="#464646"/>
<circle cx="577.2" cy="604.9" r="1.35" fill="#464646"/>
<circle cx="587.5" cy="605.1" r="1.3" fill="#5a5050"/>
<polygon points="529.5,612.99 540.42,623.8 529.5,634.61 518.58,623.8" fill="url(#gOct)" />
<path d="M529.5,612.99 L529.5,623.8 M518.58,623.8 L540.42,623.8" stroke="#7fbfea" stroke-width="0.35" opacity="0.8"/>
<path d="M520.18,624.3 L529.5,632.61 L538.82,624.3" fill="none" stroke="#a8d5f2" stroke-width="0.5" opacity="0.6"/>
<circle cx="529.5" cy="613.6" r="1.35" fill="#464646"/>
<circle cx="539.8" cy="623.8" r="1.35" fill="#464646"/>
<circle cx="529.5" cy="634" r="1.35" fill="#464646"/>
<circle cx="519.2" cy="623.8" r="1.35" fill="#464646"/>
<circle cx="529.8" cy="624" r="1.3" fill="#5a5050"/>
<polygon points="549.5,612.99 560.42,623.8 549.5,634.61 538.58,623.8" fill="url(#gOct)" />
<path d="M549.5,612.99 L549.5,623.8 M538.58,623.8 L560.42,623.8" stroke="#7fbfea" stroke-width="0.35" opacity="0.8"/>
<path d="M540.18,624.3 L549.5,632.61 L558.82,624.3" fill="none" stroke="#a8d5f2" stroke-width="0.5" opacity="0.6"/>
<circle cx="549.5" cy="613.6" r="1.35" fill="#464646"/>
<circle cx="559.8" cy="623.8" r="1.35" fill="#464646"/>
<circle cx="549.5" cy="634" r="1.35" fill="#464646"/>
<circle cx="539.2" cy="623.8" r="1.35" fill="#464646"/>
<circle cx="549.8" cy="624" r="1.3" fill="#5a5050"/>
<polygon points="569.5,612.99 580.42,623.8 569.5,634.61 558.58,623.8" fill="url(#gOct)" />
<path d="M569.5,612.99 L569.5,623.8 M558.58,623.8 L580.42,623.8" stroke="#7fbfea" stroke-width="0.35" opacity="0.8"/>
<path d="M560.18,624.3 L569.5,632.61 L578.82,624.3" fill="none" stroke="#a8d5f2" stroke-width="0.5" opacity="0.6"/>
<circle cx="569.5" cy="613.6" r="1.35" fill="#464646"/>
<circle cx="579.8" cy="623.8" r="1.35" fill="#464646"/>
<circle cx="569.5" cy="634" r="1.35" fill="#464646"/>
<circle cx="559.2" cy="623.8" r="1.35" fill="#464646"/>
<circle cx="569.8" cy="624" r="1.3" fill="#5a5050"/>
<polygon points="589,612.99 599.92,623.8 589,634.61 578.08,623.8" fill="url(#gOct)" />
<path d="M589,612.99 L589,623.8 M578.08,623.8 L599.92,623.8" stroke="#7fbfea" stroke-width="0.35" opacity="0.8"/>
<path d="M579.68,624.3 L589,632.61 L598.32,624.3" fill="none" stroke="#a8d5f2" stroke-width="0.5" opacity="0.6"/>
<circle cx="589" cy="613.6" r="1.35" fill="#464646"/>
<circle cx="599.3" cy="623.8" r="1.35" fill="#464646"/>
<circle cx="589" cy="634" r="1.35" fill="#464646"/>
<circle cx="578.7" cy="623.8" r="1.35" fill="#464646"/>
<circle cx="589.3" cy="624" r="1.3" fill="#5a5050"/>
<circle cx="530.5" cy="586.1" r="10.2" fill="none" stroke="#f5b400" stroke-width="1"/>
<defs><clipPath id="zc537_515"><circle cx="537.7" cy="515" r="22.8"/></clipPath></defs>
<circle cx="537.7" cy="515" r="22.8" fill="#ffffff"/>
<g clip-path="url(#zc537_515)">
<polygon points="522.5,492.2 530.1,499.8 522.5,507.4 514.9,499.8" fill="#6eb0e3" />
<polygon points="522.5,492.2 530.1,499.8 522.5,499.8" fill="#78b7e7" />
<polygon points="522.5,507.4 530.1,515 522.5,522.6 514.9,515" fill="#6eb0e3" />
<polygon points="522.5,507.4 530.1,515 522.5,515" fill="#78b7e7" />
<polygon points="522.5,522.6 530.1,530.2 522.5,537.8 514.9,530.2" fill="#6eb0e3" />
<polygon points="522.5,522.6 530.1,530.2 522.5,530.2" fill="#78b7e7" />
<polygon points="537.7,492.2 545.3,499.8 537.7,507.4 530.1,499.8" fill="#6eb0e3" />
<polygon points="537.7,492.2 545.3,499.8 537.7,499.8" fill="#78b7e7" />
<polygon points="537.7,507.4 545.3,515 537.7,522.6 530.1,515" fill="#6eb0e3" />
<polygon points="537.7,507.4 545.3,515 537.7,515" fill="#78b7e7" />
<polygon points="537.7,522.6 545.3,530.2 537.7,537.8 530.1,530.2" fill="#6eb0e3" />
<polygon points="537.7,522.6 545.3,530.2 537.7,530.2" fill="#78b7e7" />
<polygon points="552.9,492.2 560.5,499.8 552.9,507.4 545.3,499.8" fill="#6eb0e3" />
<polygon points="552.9,492.2 560.5,499.8 552.9,499.8" fill="#78b7e7" />
<polygon points="552.9,507.4 560.5,515 552.9,522.6 545.3,515" fill="#6eb0e3" />
<polygon points="552.9,507.4 560.5,515 552.9,515" fill="#78b7e7" />
<polygon points="552.9,522.6 560.5,530.2 552.9,537.8 545.3,530.2" fill="#6eb0e3" />
<polygon points="552.9,522.6 560.5,530.2 552.9,530.2" fill="#78b7e7" />
</g>
<circle cx="514.9" cy="492.2" r="1.6" fill="#d8553a"/>
<circle cx="514.9" cy="499.8" r="0.8" fill="#4d4d4d"/>
<circle cx="514.9" cy="507.4" r="1.6" fill="#d8553a"/>
<circle cx="514.9" cy="515" r="0.8" fill="#4d4d4d"/>
<circle cx="514.9" cy="522.6" r="1.6" fill="#d8553a"/>
<circle cx="514.9" cy="530.2" r="0.8" fill="#4d4d4d"/>
<circle cx="514.9" cy="537.8" r="1.6" fill="#d8553a"/>
<circle cx="522.5" cy="492.2" r="0.8" fill="#4d4d4d"/>
<circle cx="522.5" cy="499.8" r="0.8" fill="#4d4d4d"/>
<circle cx="522.5" cy="507.4" r="0.8" fill="#4d4d4d"/>
<circle cx="522.5" cy="515" r="0.8" fill="#4d4d4d"/>
<circle cx="522.5" cy="522.6" r="0.8" fill="#4d4d4d"/>
<circle cx="522.5" cy="530.2" r="0.8" fill="#4d4d4d"/>
<circle cx="522.5" cy="537.8" r="0.8" fill="#4d4d4d"/>
<circle cx="530.1" cy="492.2" r="1.6" fill="#d8553a"/>
<circle cx="530.1" cy="499.8" r="0.8" fill="#4d4d4d"/>
<circle cx="530.1" cy="507.4" r="2.0" fill="#d8553a"/>
<circle cx="530.1" cy="515" r="0.8" fill="#4d4d4d"/>
<circle cx="530.1" cy="522.6" r="2.0" fill="#d8553a"/>
<circle cx="530.1" cy="530.2" r="0.8" fill="#4d4d4d"/>
<circle cx="530.1" cy="537.8" r="1.6" fill="#d8553a"/>
<circle cx="537.7" cy="492.2" r="0.8" fill="#4d4d4d"/>
<circle cx="537.7" cy="499.8" r="0.8" fill="#4d4d4d"/>
<circle cx="537.7" cy="507.4" r="0.8" fill="#4d4d4d"/>
<circle cx="537.7" cy="515" r="0.8" fill="#4d4d4d"/>
<circle cx="537.7" cy="522.6" r="0.8" fill="#4d4d4d"/>
<circle cx="537.7" cy="530.2" r="0.8" fill="#4d4d4d"/>
<circle cx="537.7" cy="537.8" r="0.8" fill="#4d4d4d"/>
<circle cx="545.3" cy="492.2" r="1.6" fill="#d8553a"/>
<circle cx="545.3" cy="499.8" r="0.8" fill="#4d4d4d"/>
<circle cx="545.3" cy="507.4" r="2.0" fill="#d8553a"/>
<circle cx="545.3" cy="515" r="0.8" fill="#4d4d4d"/>
<circle cx="545.3" cy="522.6" r="2.0" fill="#d8553a"/>
<circle cx="545.3" cy="530.2" r="0.8" fill="#4d4d4d"/>
<circle cx="545.3" cy="537.8" r="1.6" fill="#d8553a"/>
<circle cx="552.9" cy="492.2" r="0.8" fill="#4d4d4d"/>
<circle cx="552.9" cy="499.8" r="0.8" fill="#4d4d4d"/>
<circle cx="552.9" cy="507.4" r="0.8" fill="#4d4d4d"/>
<circle cx="552.9" cy="515" r="0.8" fill="#4d4d4d"/>
<circle cx="552.9" cy="522.6" r="0.8" fill="#4d4d4d"/>
<circle cx="552.9" cy="530.2" r="0.8" fill="#4d4d4d"/>
<circle cx="552.9" cy="537.8" r="0.8" fill="#4d4d4d"/>
<circle cx="560.5" cy="492.2" r="1.6" fill="#d8553a"/>
<circle cx="560.5" cy="499.8" r="0.8" fill="#4d4d4d"/>
<circle cx="560.5" cy="507.4" r="1.6" fill="#d8553a"/>
<circle cx="560.5" cy="515" r="0.8" fill="#4d4d4d"/>
<circle cx="560.5" cy="522.6" r="1.6" fill="#d8553a"/>
<circle cx="560.5" cy="530.2" r="0.8" fill="#4d4d4d"/>
<circle cx="560.5" cy="537.8" r="1.6" fill="#d8553a"/>
<circle cx="537.7" cy="515" r="22.8" fill="none" stroke="#f5b400" stroke-width="1.1"/>
<g transform="rotate(10 520 548)">
<path d="M518.86,547.39 Q516.96,546.63 514.49,545.57" fill="none" stroke="#5e5e5e" stroke-width="0.6"/>
<path d="M518.86,547.81 Q516.96,547.57 514.49,547.24" fill="none" stroke="#5e5e5e" stroke-width="0.6"/>
<path d="M518.86,548.23 Q516.96,548.51 514.49,548.91" fill="none" stroke="#5e5e5e" stroke-width="0.6"/>
<path d="M518.86,548.65 Q516.96,549.45 514.49,550.58" fill="none" stroke="#5e5e5e" stroke-width="0.6"/>
<circle cx="520" cy="548" r="1.8" fill="#505050"/>
</g>
<g transform="rotate(0 521 558)">
<path d="M519.86,557.39 Q517.96,556.63 515.49,555.57" fill="none" stroke="#5e5e5e" stroke-width="0.6"/>
<path d="M519.86,557.81 Q517.96,557.57 515.49,557.24" fill="none" stroke="#5e5e5e" stroke-width="0.6"/>
<path d="M519.86,558.23 Q517.96,558.51 515.49,558.91" fill="none" stroke="#5e5e5e" stroke-width="0.6"/>
<path d="M519.86,558.65 Q517.96,559.45 515.49,560.58" fill="none" stroke="#5e5e5e" stroke-width="0.6"/>
<circle cx="521" cy="558" r="1.8" fill="#505050"/>
</g>
<g transform="rotate(0 531 560)">
<path d="M529.86,559.39 Q527.96,558.63 525.49,557.57" fill="none" stroke="#5e5e5e" stroke-width="0.6"/>
<path d="M529.86,559.81 Q527.96,559.57 525.49,559.24" fill="none" stroke="#5e5e5e" stroke-width="0.6"/>
<path d="M529.86,560.23 Q527.96,560.51 525.49,560.91" fill="none" stroke="#5e5e5e" stroke-width="0.6"/>
<path d="M529.86,560.65 Q527.96,561.45 525.49,562.58" fill="none" stroke="#5e5e5e" stroke-width="0.6"/>
<circle cx="531" cy="560" r="1.8" fill="#505050"/>
</g>
<g transform="rotate(0 539 553)">
<path d="M537.86,552.39 Q535.96,551.63 533.49,550.57" fill="none" stroke="#5e5e5e" stroke-width="0.6"/>
<path d="M537.86,552.81 Q535.96,552.57 533.49,552.24" fill="none" stroke="#5e5e5e" stroke-width="0.6"/>
<path d="M537.86,553.23 Q535.96,553.51 533.49,553.91" fill="none" stroke="#5e5e5e" stroke-width="0.6"/>
<path d="M537.86,553.65 Q535.96,554.45 533.49,555.58" fill="none" stroke="#5e5e5e" stroke-width="0.6"/>
<circle cx="539" cy="553" r="1.8" fill="#505050"/>
</g>
<g transform="rotate(-10 547 547)">
<path d="M545.86,546.39 Q543.96,545.63 541.49,544.57" fill="none" stroke="#5e5e5e" stroke-width="0.6"/>
<path d="M545.86,546.81 Q543.96,546.57 541.49,546.24" fill="none" stroke="#5e5e5e" stroke-width="0.6"/>
<path d="M545.86,547.23 Q543.96,547.51 541.49,547.91" fill="none" stroke="#5e5e5e" stroke-width="0.6"/>
<path d="M545.86,547.65 Q543.96,548.45 541.49,549.58" fill="none" stroke="#5e5e5e" stroke-width="0.6"/>
<circle cx="547" cy="547" r="1.8" fill="#505050"/>
</g>
<g transform="rotate(0 553 552)">
<path d="M551.86,551.39 Q549.96,550.63 547.49,549.57" fill="none" stroke="#5e5e5e" stroke-width="0.6"/>
<path d="M551.86,551.81 Q549.96,551.57 547.49,551.24" fill="none" stroke="#5e5e5e" stroke-width="0.6"/>
<path d="M551.86,552.23 Q549.96,552.51 547.49,552.91" fill="none" stroke="#5e5e5e" stroke-width="0.6"/>
<path d="M551.86,552.65 Q549.96,553.45 547.49,554.58" fill="none" stroke="#5e5e5e" stroke-width="0.6"/>
<circle cx="553" cy="552" r="1.8" fill="#505050"/>
</g>
<g transform="rotate(15 559 556)">
<path d="M557.86,555.39 Q555.96,554.63 553.49,553.57" fill="none" stroke="#5e5e5e" stroke-width="0.6"/>
<path d="M557.86,555.81 Q555.96,555.57 553.49,555.24" fill="none" stroke="#5e5e5e" stroke-width="0.6"/>
<path d="M557.86,556.23 Q555.96,556.51 553.49,556.91" fill="none" stroke="#5e5e5e" stroke-width="0.6"/>
<path d="M557.86,556.65 Q555.96,557.45 553.49,558.58" fill="none" stroke="#5e5e5e" stroke-width="0.6"/>
<circle cx="559" cy="556" r="1.8" fill="#505050"/>
</g>
<g transform="rotate(-5 564 551)">
<path d="M562.86,550.39 Q560.96,549.63 558.49,548.57" fill="none" stroke="#5e5e5e" stroke-width="0.6"/>
<path d="M562.86,550.81 Q560.96,550.57 558.49,550.24" fill="none" stroke="#5e5e5e" stroke-width="0.6"/>
<path d="M562.86,551.23 Q560.96,551.51 558.49,551.91" fill="none" stroke="#5e5e5e" stroke-width="0.6"/>
<path d="M562.86,551.65 Q560.96,552.45 558.49,553.58" fill="none" stroke="#5e5e5e" stroke-width="0.6"/>
<circle cx="564" cy="551" r="1.8" fill="#505050"/>
</g>
<g transform="rotate(0 572 553)">
<path d="M570.86,552.39 Q568.96,551.63 566.49,550.57" fill="none" stroke="#5e5e5e" stroke-width="0.6"/>
<path d="M570.86,552.81 Q568.96,552.57 566.49,552.24" fill="none" stroke="#5e5e5e" stroke-width="0.6"/>
<path d="M570.86,553.23 Q568.96,553.51 566.49,553.91" fill="none" stroke="#5e5e5e" stroke-width="0.6"/>
<path d="M570.86,553.65 Q568.96,554.45 566.49,555.58" fill="none" stroke="#5e5e5e" stroke-width="0.6"/>
<circle cx="572" cy="553" r="1.8" fill="#505050"/>
</g>
<g transform="rotate(10 581 555)">
<path d="M579.86,554.39 Q577.96,553.63 575.49,552.57" fill="none" stroke="#5e5e5e" stroke-width="0.6"/>
<path d="M579.86,554.81 Q577.96,554.57 575.49,554.24" fill="none" stroke="#5e5e5e" stroke-width="0.6"/>
<path d="M579.86,555.23 Q577.96,555.51 575.49,555.91" fill="none" stroke="#5e5e5e" stroke-width="0.6"/>
<path d="M579.86,555.65 Q577.96,556.45 575.49,557.58" fill="none" stroke="#5e5e5e" stroke-width="0.6"/>
<circle cx="581" cy="555" r="1.8" fill="#505050"/>
</g>
<g transform="rotate(0 587 551)">
<path d="M585.86,550.39 Q583.96,549.63 581.49,548.57" fill="none" stroke="#5e5e5e" stroke-width="0.6"/>
<path d="M585.86,550.81 Q583.96,550.57 581.49,550.24" fill="none" stroke="#5e5e5e" stroke-width="0.6"/>
<path d="M585.86,551.23 Q583.96,551.51 581.49,551.91" fill="none" stroke="#5e5e5e" stroke-width="0.6"/>
<path d="M585.86,551.65 Q583.96,552.45 581.49,553.58" fill="none" stroke="#5e5e5e" stroke-width="0.6"/>
<circle cx="587" cy="551" r="1.8" fill="#505050"/>
</g>
<g transform="rotate(20 594 556)">
<path d="M592.86,555.39 Q590.96,554.63 588.49,553.57" fill="none" stroke="#5e5e5e" stroke-width="0.6"/>
<path d="M592.86,555.81 Q590.96,555.57 588.49,555.24" fill="none" stroke="#5e5e5e" stroke-width="0.6"/>
<path d="M592.86,556.23 Q590.96,556.51 588.49,556.91" fill="none" stroke="#5e5e5e" stroke-width="0.6"/>
<path d="M592.86,556.65 Q590.96,557.45 588.49,558.58" fill="none" stroke="#5e5e5e" stroke-width="0.6"/>
<circle cx="594" cy="556" r="1.8" fill="#505050"/>
</g>
<g transform="rotate(40 600 562)">
<path d="M598.86,561.39 Q596.96,560.63 594.49,559.57" fill="none" stroke="#5e5e5e" stroke-width="0.6"/>
<path d="M598.86,561.81 Q596.96,561.57 594.49,561.24" fill="none" stroke="#5e5e5e" stroke-width="0.6"/>
<path d="M598.86,562.23 Q596.96,562.51 594.49,562.91" fill="none" stroke="#5e5e5e" stroke-width="0.6"/>
<path d="M598.86,562.65 Q596.96,563.45 594.49,564.58" fill="none" stroke="#5e5e5e" stroke-width="0.6"/>
<circle cx="600" cy="562" r="1.8" fill="#505050"/>
</g>
<circle cx="532.5" cy="559.5" r="1.6" fill="#ffe100" stroke="#f2c200" stroke-width="0.4"/>
<circle cx="597.6" cy="553.3" r="1.6" fill="#ffe100" stroke="#f2c200" stroke-width="0.4"/>
<circle cx="601.7" cy="561.3" r="1.6" fill="#ffe100" stroke="#f2c200" stroke-width="0.4"/>
<circle cx="564" cy="562" r="1.1" fill="#d8553a"/>
<circle cx="567" cy="560" r="1.1" fill="#d8553a"/>
<circle cx="569" cy="564" r="1.1" fill="#d8553a"/>
<circle cx="566" cy="566" r="1.1" fill="#d8553a"/>
<circle cx="571" cy="561" r="1.1" fill="#d8553a"/>
<rect x="471.8" y="419.4" width="157.7" height="24.1" rx="4" fill="#fff" stroke="#3c3c3c" stroke-width="0.9"/>
<text x="488.4" y="431.88" font-size="8" text-anchor="middle" fill="#1a1a1a"  stroke="#1a1a1a" stroke-width="0.12">I<tspan font-size="5" dy="-2.5">−</tspan></text>
<path d="M481,437.2 Q485,436.4 488,437.3 M481.5,439 Q485,438.6 488,437.8 M482.5,435.6 Q485.5,435.9 488,436.9" fill="none" stroke="#6b6b6b" stroke-width="0.55"/>
<circle cx="489.6" cy="437.6" r="2.2" fill="#595959"/>
<text x="502.8" y="431.9" font-size="8" text-anchor="middle" font-style="italic" fill="#1a1a1a" stroke="#1a1a1a" stroke-width="0.12">h<tspan font-size="5" dy="-2.5" font-style="normal">+</tspan></text>
<circle cx="502.8" cy="437.5" r="2.7" fill="#ffd400"/>
<text x="521.7" y="431.88" font-size="8" text-anchor="middle" fill="#1a1a1a"  stroke="#1a1a1a" stroke-width="0.12">Pb</text>
<circle cx="521.7" cy="437.5" r="3" fill="#dd5a3c"/>
<polygon points="542.2,426.61 549.09,433.5 542.2,440.39 535.31,433.5" fill="url(#gOct)" />
<path d="M542.2,426.61 L542.2,433.5 M535.31,433.5 L549.09,433.5" stroke="#7fbfea" stroke-width="0.35" opacity="0.8"/>
<path d="M536.91,434 L542.2,438.39 L547.49,434" fill="none" stroke="#a8d5f2" stroke-width="0.5" opacity="0.6"/>
<circle cx="542.2" cy="427" r="1.35" fill="#464646"/>
<circle cx="548.7" cy="433.5" r="1.35" fill="#464646"/>
<circle cx="542.2" cy="440" r="1.35" fill="#464646"/>
<circle cx="535.7" cy="433.5" r="1.35" fill="#464646"/>
<circle cx="542.5" cy="433.7" r="1.3" fill="#5a5050"/>
<text x="552.5" y="435.9" font-size="8" fill="#1a1a1a" stroke="#1a1a1a" stroke-width="0.12">[PbI<tspan font-size="5" dy="2">6</tspan><tspan dy="-2">]</tspan><tspan font-size="5" dy="-3">4−</tspan></text>
<text x="605.8" y="431.18" font-size="8" text-anchor="middle" fill="#1a1a1a"  stroke="#1a1a1a" stroke-width="0.12">Substrate</text>
<rect x="591.4" y="435.8" width="28.3" height="2.8" rx="1" fill="#a3a5a8"/></svg></body></html>
